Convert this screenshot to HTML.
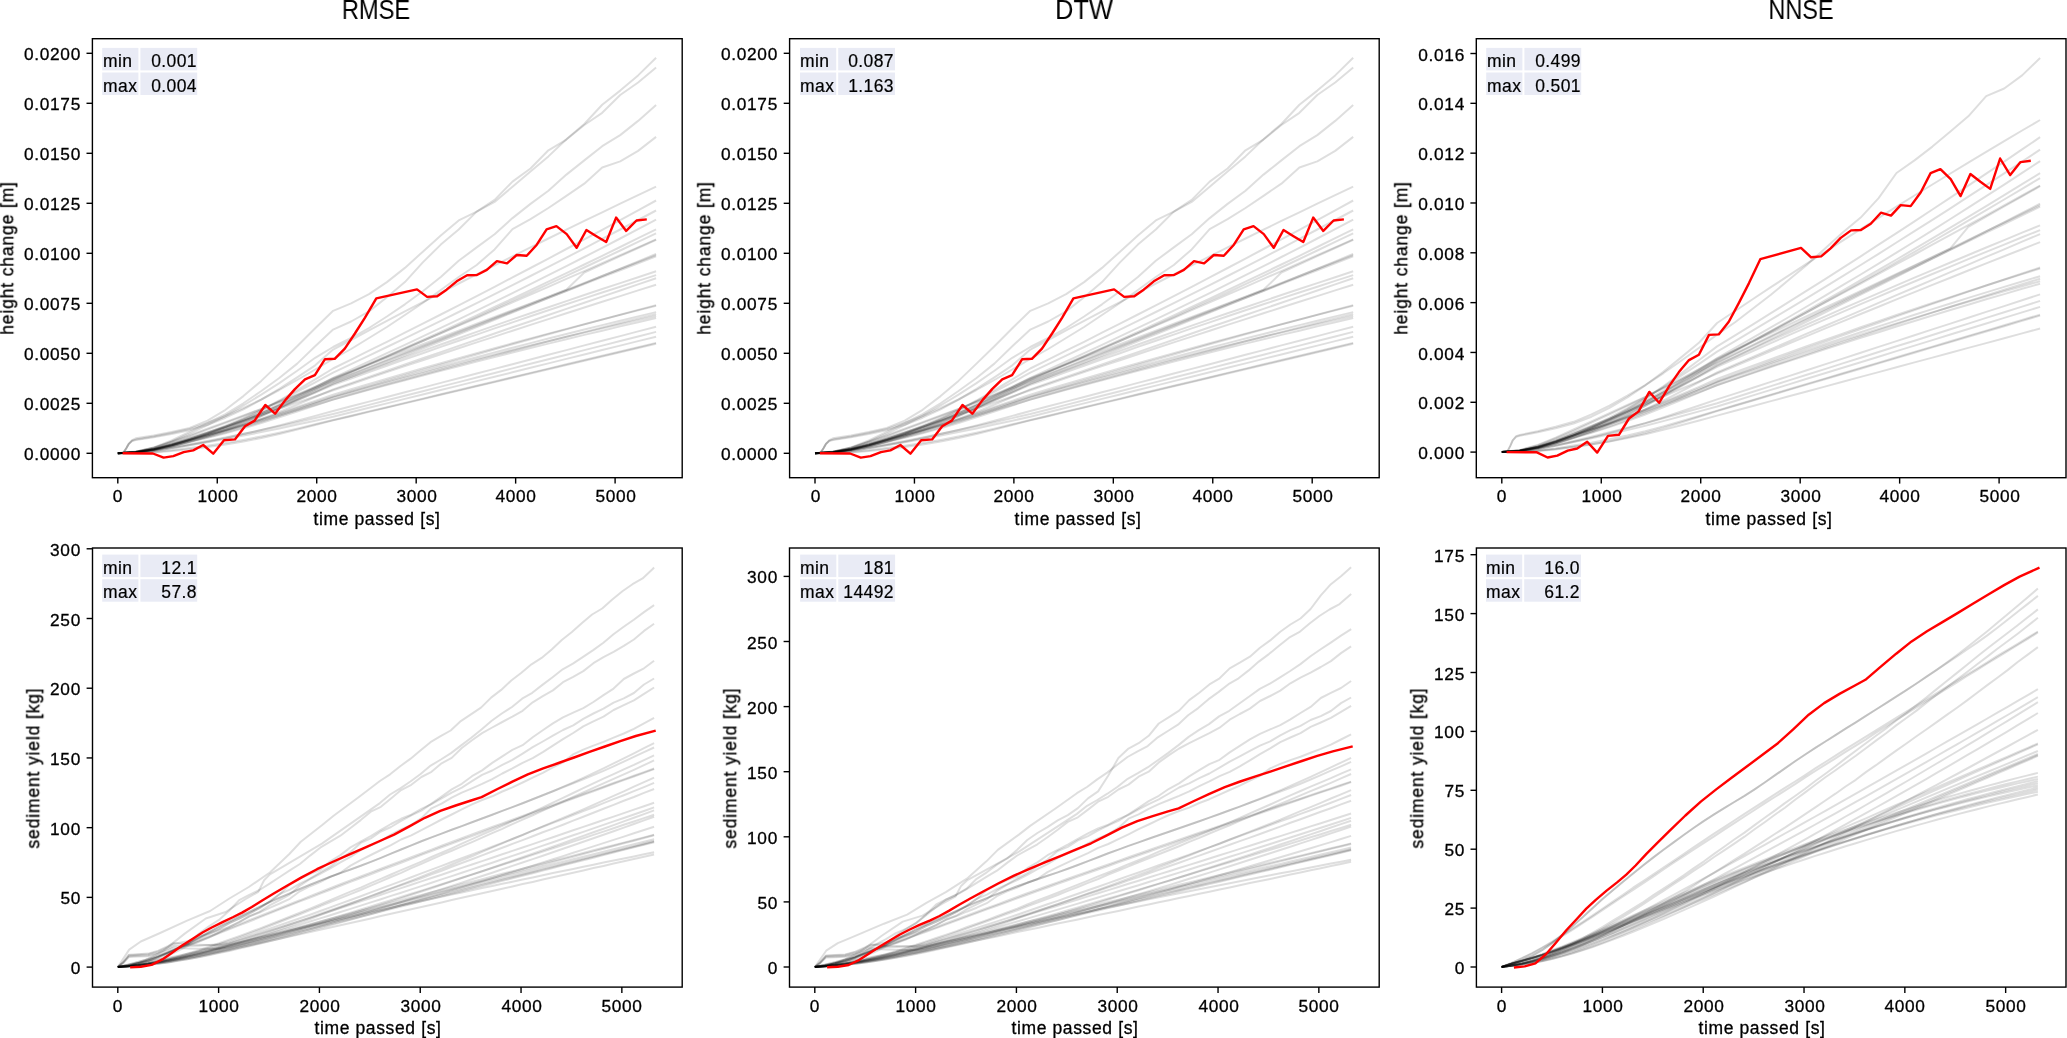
<!DOCTYPE html>
<html><head><meta charset="utf-8"><title>metrics</title>
<style>
html,body{margin:0;padding:0;background:#fff;}
#fig{position:relative;width:2067px;height:1038px;overflow:hidden;background:#fff;font-family:"Liberation Sans",sans-serif;color:#000;}
#fig svg{position:absolute;left:0;top:0;}
#fig div{position:absolute;white-space:nowrap;line-height:1;will-change:transform;}
.tk{font-size:17.3px;letter-spacing:0.7px;-webkit-text-stroke:0.3px #000;}
.xt{transform:translate(-50%,0);margin-left:0.6px;margin-top:-2.6px;}
.yt{transform:translate(-100%,-50%);margin-left:0.7px;margin-top:2.0px;}
.al{font-size:17.5px;letter-spacing:0.75px;-webkit-text-stroke:0.3px #000;}
.xl{transform:translate(-50%,-100%);margin-top:3.6px;margin-left:0.4px;letter-spacing:0.63px;}
.yl{transform:translate(-50%,-50%) rotate(-90deg);margin-left:-5.2px;letter-spacing:0.85px;}
.tb{font-size:17.5px;-webkit-text-stroke:0.2px #000;}
.tl{transform:translate(0,-100%);margin-top:3.6px;letter-spacing:0.45px;}
.tr{transform:translate(-100%,-100%);margin-top:3.6px;letter-spacing:0.4px;margin-left:0.4px;}
.tt{font-size:27px;margin-top:5.5px;}
</style></head><body>
<div id="fig">
<svg width="2067" height="1038" viewBox="0 0 2067 1038">
<g>
<polyline points="117.8,453.3 123.3,452.9 126.3,448.3 128.7,443.9 132.2,440.1 135.7,438.3 153.7,435.6 171.6,432.0 189.6,428.0 207.5,420.6 225.5,409.8 243.4,396.1 261.3,380.9 279.3,363.6 297.2,346.2 315.2,328.2 333.1,310.8 351.1,303.3 369.0,294.2 386.9,282.1 404.9,267.9 422.8,251.7 440.8,235.5 458.7,220.4 476.7,211.6 494.6,201.9 512.5,186.7 530.5,171.5 548.4,156.4 566.4,139.2 584.3,124.0 602.2,104.8 620.2,90.6 638.1,75.4 656.1,57.7" fill="none" stroke="rgba(0,0,0,0.13)" stroke-width="2.00" stroke-linejoin="round" />
<polyline points="117.8,453.3 135.7,451.6 153.7,447.4 171.6,440.5 189.6,431.9 207.5,422.8 225.5,414.1 243.4,403.3 261.3,391.0 279.3,378.0 297.2,363.6 315.2,346.2 333.1,329.6 351.1,321.5 369.0,311.4 386.9,297.2 404.9,282.1 422.8,262.4 440.8,244.6 458.7,229.5 476.7,211.6 494.6,199.9 512.5,181.6 530.5,168.5 548.4,150.3 566.4,139.6 584.3,125.0 602.2,112.8 620.2,95.0 638.1,82.5 656.1,67.5" fill="none" stroke="rgba(0,0,0,0.13)" stroke-width="2.00" stroke-linejoin="round" />
<polyline points="117.8,453.3 135.7,451.7 153.7,447.9 171.6,441.5 189.6,433.6 207.5,425.2 225.5,415.9 243.4,405.5 261.3,394.6 279.3,383.1 297.2,370.8 315.2,357.8 333.1,347.0 351.1,338.0 369.0,328.0 386.9,316.5 404.9,304.3 422.8,291.2 440.8,277.0 458.7,260.8 476.7,247.4 494.6,234.3 512.5,218.1 530.5,203.9 548.4,190.8 566.4,174.6 584.3,160.4 602.2,146.2 620.2,135.1 638.1,120.9 656.1,105.0" fill="none" stroke="rgba(0,0,0,0.13)" stroke-width="2.00" stroke-linejoin="round" />
<polyline points="117.8,453.3 123.3,452.9 126.3,448.3 128.7,443.9 132.2,440.6 135.7,439.6 153.7,436.5 171.6,433.0 189.6,429.0 207.5,423.0 225.5,416.0 243.4,408.0 261.3,399.5 279.3,390.0 297.2,380.0 315.2,369.5 333.1,359.0 351.1,349.0 369.0,338.0 386.9,327.0 404.9,315.0 422.8,303.0 440.8,290.0 458.7,277.0 476.7,265.0 494.6,249.4 512.5,229.2 530.5,219.1 548.4,208.0 566.4,195.8 584.3,183.7 602.2,167.5 620.2,161.4 638.1,150.9 656.1,136.9" fill="none" stroke="rgba(0,0,0,0.13)" stroke-width="2.00" stroke-linejoin="round" />
<polyline points="117.8,453.3 135.7,452.3 153.7,449.6 171.6,445.4 189.6,440.1 207.5,434.4 225.5,428.2 243.4,421.2 261.3,413.7 279.3,405.3 297.2,396.5 315.2,387.4 333.1,378.2 351.1,371.4 369.0,364.6 386.9,357.8 404.9,351.0 422.8,344.2 440.8,337.4 458.7,330.6 476.7,323.8 494.6,317.0 512.5,310.2 530.5,303.4 548.4,296.6 566.4,289.8 584.3,272.5 602.2,264.3 620.2,256.1 638.1,248.0 656.1,239.8" fill="none" stroke="rgba(0,0,0,0.13)" stroke-width="2.00" stroke-linejoin="round" />
<polyline points="117.8,453.3 123.3,452.9 126.3,448.3 128.7,443.9 132.2,441.0 135.7,440.1 153.7,437.3 171.6,434.1 189.6,430.3 207.5,424.9 225.5,417.7 243.4,409.3 261.3,399.7 279.3,388.9 297.2,377.3 315.2,365.3 333.1,349.6 351.1,340.0 369.0,330.4 386.9,320.9 404.9,311.4 422.8,302.1 440.8,292.8 458.7,283.5 476.7,274.4 494.6,265.3 512.5,256.3 530.5,247.3 548.4,238.5 566.4,229.7 584.3,220.9 602.2,212.3 620.2,203.7 638.1,195.1 656.1,186.7" fill="none" stroke="rgba(0,0,0,0.13)" stroke-width="2.00" stroke-linejoin="round" />
<polyline points="117.8,453.3 135.7,452.2 153.7,449.6 171.6,445.4 189.6,440.1 207.5,433.9 225.5,426.9 243.4,418.9 261.3,410.2 279.3,400.5 297.2,390.1 315.2,379.4 333.1,368.5 351.1,359.6 369.0,350.7 386.9,341.8 404.9,332.7 422.8,323.7 440.8,314.5 458.7,305.4 476.7,296.1 494.6,286.8 512.5,277.4 530.5,268.0 548.4,258.6 566.4,249.0 584.3,239.4 602.2,229.8 620.2,220.1 638.1,210.3 656.1,200.5" fill="none" stroke="rgba(0,0,0,0.13)" stroke-width="2.00" stroke-linejoin="round" />
<polyline points="117.8,453.3 135.7,452.1 153.7,449.0 171.6,444.3 189.6,438.9 207.5,432.6 225.5,425.7 243.4,418.1 261.3,410.1 279.3,401.2 297.2,391.9 315.2,382.4 333.1,372.6 351.1,364.2 369.0,355.6 386.9,347.0 404.9,338.4 422.8,329.6 440.8,320.8 458.7,312.0 476.7,303.1 494.6,294.1 512.5,285.1 530.5,276.0 548.4,266.8 566.4,257.6 584.3,248.3 602.2,238.9 620.2,229.5 638.1,220.0 656.1,210.5" fill="none" stroke="rgba(0,0,0,0.13)" stroke-width="2.00" stroke-linejoin="round" />
<polyline points="117.8,453.3 135.7,452.1 153.7,449.1 171.6,444.5 189.6,439.5 207.5,433.4 225.5,426.8 243.4,419.7 261.3,412.2 279.3,404.1 297.2,395.5 315.2,386.8 333.1,377.8 351.1,369.7 369.0,361.5 386.9,353.2 404.9,344.9 422.8,336.4 440.8,327.9 458.7,319.3 476.7,310.7 494.6,301.9 512.5,293.1 530.5,284.2 548.4,275.2 566.4,266.2 584.3,257.0 602.2,247.8 620.2,238.5 638.1,229.2 656.1,219.7" fill="none" stroke="rgba(0,0,0,0.13)" stroke-width="2.00" stroke-linejoin="round" />
<polyline points="117.8,453.3 135.7,452.1 153.7,449.3 171.6,444.9 189.6,439.9 207.5,434.0 225.5,427.6 243.4,420.8 261.3,413.4 279.3,405.4 297.2,397.0 315.2,388.4 333.1,379.6 351.1,371.8 369.0,363.9 386.9,356.0 404.9,348.0 422.8,339.9 440.8,331.8 458.7,323.6 476.7,315.3 494.6,307.0 512.5,298.6 530.5,290.2 548.4,281.7 566.4,273.1 584.3,264.5 602.2,255.8 620.2,247.0 638.1,238.2 656.1,229.3" fill="none" stroke="rgba(0,0,0,0.13)" stroke-width="2.00" stroke-linejoin="round" />
<polyline points="117.8,453.3 135.7,452.4 153.7,450.2 171.6,446.5 189.6,442.0 207.5,436.6 225.5,430.5 243.4,423.6 261.3,416.2 279.3,407.8 297.2,398.8 315.2,389.5 333.1,380.1 351.1,372.4 369.0,364.7 386.9,356.9 404.9,349.0 422.8,341.1 440.8,333.1 458.7,325.1 476.7,317.1 494.6,308.9 512.5,300.7 530.5,292.5 548.4,284.2 566.4,275.9 584.3,267.5 602.2,259.0 620.2,250.5 638.1,241.9 656.1,233.3" fill="none" stroke="rgba(0,0,0,0.13)" stroke-width="2.00" stroke-linejoin="round" />
<polyline points="117.8,453.3 135.7,451.8 153.7,448.0 171.6,442.3 189.6,436.2 207.5,429.6 225.5,422.9 243.4,416.1 261.3,409.1 279.3,401.8 297.2,394.3 315.2,386.8 333.1,379.0 351.1,371.5 369.0,363.9 386.9,356.3 404.9,348.7 422.8,341.0 440.8,333.4 458.7,325.7 476.7,318.0 494.6,310.2 512.5,302.4 530.5,294.6 548.4,286.8 566.4,278.9 584.3,271.1 602.2,263.2 620.2,255.2 638.1,247.3 656.1,239.3" fill="none" stroke="rgba(0,0,0,0.13)" stroke-width="2.00" stroke-linejoin="round" />
<polyline points="117.8,453.3 135.7,452.3 153.7,449.7 171.6,445.7 189.6,440.8 207.5,435.5 225.5,429.6 243.4,423.1 261.3,416.2 279.3,408.6 297.2,400.5 315.2,392.3 333.1,383.9 351.1,376.8 369.0,369.8 386.9,362.7 404.9,355.6 422.8,348.5 440.8,341.3 458.7,334.2 476.7,327.0 494.6,319.8 512.5,312.5 530.5,305.3 548.4,298.0 566.4,290.7 584.3,283.4 602.2,276.0 620.2,268.7 638.1,261.3 656.1,253.9" fill="none" stroke="rgba(0,0,0,0.13)" stroke-width="2.00" stroke-linejoin="round" />
<polyline points="117.8,453.3 135.7,451.7 153.7,447.6 171.6,441.6 189.6,435.2 207.5,428.6 225.5,422.1 243.4,415.5 261.3,408.9 279.3,402.0 297.2,395.1 315.2,388.3 333.1,381.2 351.1,374.2 369.0,367.1 386.9,360.1 404.9,353.0 422.8,346.0 440.8,339.0 458.7,331.9 476.7,324.9 494.6,317.9 512.5,310.9 530.5,303.9 548.4,296.9 566.4,289.9 584.3,283.0 602.2,276.0 620.2,269.0 638.1,262.1 656.1,255.1" fill="none" stroke="rgba(0,0,0,0.13)" stroke-width="2.00" stroke-linejoin="round" />
<polyline points="117.8,453.3 135.7,452.1 153.7,449.0 171.6,444.2 189.6,438.6 207.5,432.8 225.5,426.6 243.4,420.0 261.3,413.1 279.3,405.6 297.2,397.8 315.2,389.9 333.1,381.8 351.1,374.8 369.0,367.8 386.9,360.8 404.9,353.8 422.8,346.8 440.8,339.8 458.7,332.8 476.7,325.8 494.6,318.8 512.5,311.9 530.5,304.9 548.4,297.9 566.4,291.0 584.3,284.0 602.2,277.1 620.2,270.2 638.1,263.2 656.1,256.3" fill="none" stroke="rgba(0,0,0,0.13)" stroke-width="2.00" stroke-linejoin="round" />
<polyline points="117.8,453.3 135.7,452.2 153.7,449.6 171.6,445.2 189.6,439.7 207.5,434.4 225.5,428.5 243.4,422.1 261.3,415.2 279.3,407.6 297.2,399.6 315.2,391.5 333.1,383.3 351.1,376.8 369.0,370.2 386.9,363.7 404.9,357.3 422.8,350.9 440.8,344.5 458.7,338.2 476.7,331.9 494.6,325.6 512.5,319.4 530.5,313.3 548.4,307.2 566.4,301.1 584.3,295.0 602.2,289.0 620.2,283.1 638.1,277.2 656.1,271.3" fill="none" stroke="rgba(0,0,0,0.13)" stroke-width="2.00" stroke-linejoin="round" />
<polyline points="117.8,453.3 135.7,452.1 153.7,449.2 171.6,444.4 189.6,438.8 207.5,433.3 225.5,427.4 243.4,421.2 261.3,414.6 279.3,407.5 297.2,400.0 315.2,392.5 333.1,384.9 351.1,378.5 369.0,372.1 386.9,365.8 404.9,359.4 422.8,353.2 440.8,346.9 458.7,340.7 476.7,334.6 494.6,328.4 512.5,322.4 530.5,316.3 548.4,310.3 566.4,304.3 584.3,298.4 602.2,292.5 620.2,286.7 638.1,280.9 656.1,275.1" fill="none" stroke="rgba(0,0,0,0.13)" stroke-width="2.00" stroke-linejoin="round" />
<polyline points="117.8,453.3 135.7,452.4 153.7,450.0 171.6,446.2 189.6,441.5 207.5,436.6 225.5,431.2 243.4,425.3 261.3,419.0 279.3,412.0 297.2,404.6 315.2,397.0 333.1,389.4 351.1,383.1 369.0,376.9 386.9,370.7 404.9,364.5 422.8,358.3 440.8,352.1 458.7,345.9 476.7,339.7 494.6,333.5 512.5,327.3 530.5,321.2 548.4,315.0 566.4,308.9 584.3,302.7 602.2,296.6 620.2,290.5 638.1,284.4 656.1,278.3" fill="none" stroke="rgba(0,0,0,0.13)" stroke-width="2.00" stroke-linejoin="round" />
<polyline points="117.8,453.3 135.7,452.0 153.7,448.5 171.6,443.4 189.6,437.7 207.5,432.1 225.5,426.4 243.4,420.7 261.3,414.8 279.3,408.8 297.2,402.6 315.2,396.5 333.1,390.2 351.1,384.2 369.0,378.1 386.9,372.1 404.9,366.1 422.8,360.2 440.8,354.2 458.7,348.3 476.7,342.4 494.6,336.6 512.5,330.7 530.5,324.9 548.4,319.1 566.4,313.3 584.3,307.5 602.2,301.8 620.2,296.1 638.1,290.4 656.1,284.7" fill="none" stroke="rgba(0,0,0,0.13)" stroke-width="2.00" stroke-linejoin="round" />
<polyline points="117.8,453.3 135.7,452.2 153.7,449.3 171.6,444.9 189.6,439.9 207.5,435.0 225.5,430.0 243.4,424.8 261.3,419.5 279.3,413.9 297.2,408.0 315.2,402.2 333.1,396.4 351.1,391.0 369.0,385.7 386.9,380.4 404.9,375.1 422.8,369.9 440.8,364.7 458.7,359.6 476.7,354.5 494.6,349.4 512.5,344.3 530.5,339.3 548.4,334.3 566.4,329.4 584.3,324.4 602.2,319.6 620.2,314.7 638.1,309.9 656.1,305.1" fill="none" stroke="rgba(0,0,0,0.13)" stroke-width="2.00" stroke-linejoin="round" />
<polyline points="117.8,453.3 135.7,452.2 153.7,449.4 171.6,445.1 189.6,439.9 207.5,435.1 225.5,430.0 243.4,424.7 261.3,419.1 279.3,413.2 297.2,407.0 315.2,400.9 333.1,394.6 351.1,389.3 369.0,383.9 386.9,378.7 404.9,373.5 422.8,368.3 440.8,363.2 458.7,358.1 476.7,353.1 494.6,348.2 512.5,343.3 530.5,338.4 548.4,333.6 566.4,328.9 584.3,324.2 602.2,319.5 620.2,314.9 638.1,310.4 656.1,305.9" fill="none" stroke="rgba(0,0,0,0.13)" stroke-width="2.00" stroke-linejoin="round" />
<polyline points="117.8,453.3 135.7,452.4 153.7,450.1 171.6,446.4 189.6,441.6 207.5,437.3 225.5,432.6 243.4,427.4 261.3,421.9 279.3,415.9 297.2,409.7 315.2,403.3 333.1,396.9 351.1,391.7 369.0,386.6 386.9,381.6 404.9,376.6 422.8,371.7 440.8,366.8 458.7,361.9 476.7,357.1 494.6,352.4 512.5,347.7 530.5,343.1 548.4,338.5 566.4,334.0 584.3,329.5 602.2,325.1 620.2,320.7 638.1,316.4 656.1,312.1" fill="none" stroke="rgba(0,0,0,0.13)" stroke-width="2.00" stroke-linejoin="round" />
<polyline points="117.8,453.3 135.7,452.4 153.7,450.1 171.6,446.5 189.6,442.1 207.5,437.8 225.5,433.3 243.4,428.3 261.3,423.1 279.3,417.4 297.2,411.5 315.2,405.5 333.1,399.5 351.1,394.4 369.0,389.4 386.9,384.4 404.9,379.5 422.8,374.6 440.8,369.8 458.7,364.9 476.7,360.1 494.6,355.4 512.5,350.7 530.5,346.0 548.4,341.3 566.4,336.7 584.3,332.1 602.2,327.5 620.2,323.0 638.1,318.5 656.1,314.1" fill="none" stroke="rgba(0,0,0,0.13)" stroke-width="2.00" stroke-linejoin="round" />
<polyline points="117.8,453.3 135.7,452.2 153.7,449.5 171.6,445.2 189.6,440.1 207.5,435.4 225.5,430.6 243.4,425.5 261.3,420.3 279.3,414.8 297.2,409.1 315.2,403.4 333.1,397.6 351.1,392.6 369.0,387.6 386.9,382.7 404.9,377.8 422.8,373.1 440.8,368.3 458.7,363.6 476.7,359.0 494.6,354.5 512.5,350.0 530.5,345.5 548.4,341.2 566.4,336.8 584.3,332.6 602.2,328.4 620.2,324.2 638.1,320.1 656.1,316.1" fill="none" stroke="rgba(0,0,0,0.13)" stroke-width="2.00" stroke-linejoin="round" />
<polyline points="117.8,453.3 135.7,452.2 153.7,449.4 171.6,445.2 189.6,440.2 207.5,435.6 225.5,430.9 243.4,426.1 261.3,421.1 279.3,415.8 297.2,410.4 315.2,405.1 333.1,399.6 351.1,394.7 369.0,389.8 386.9,385.0 404.9,380.2 422.8,375.5 440.8,370.8 458.7,366.2 476.7,361.6 494.6,357.0 512.5,352.5 530.5,348.0 548.4,343.6 566.4,339.3 584.3,334.9 602.2,330.7 620.2,326.4 638.1,322.2 656.1,318.1" fill="none" stroke="rgba(0,0,0,0.13)" stroke-width="2.00" stroke-linejoin="round" />
<polyline points="117.8,453.3 135.7,452.6 153.7,450.9 171.6,448.2 189.6,445.0 207.5,441.7 225.5,438.1 243.4,434.1 261.3,430.0 279.3,425.5 297.2,420.7 315.2,415.9 333.1,411.0 351.1,406.3 369.0,401.6 386.9,397.0 404.9,392.3 422.8,387.6 440.8,382.9 458.7,378.2 476.7,373.5 494.6,368.9 512.5,364.2 530.5,359.5 548.4,354.8 566.4,350.1 584.3,345.4 602.2,340.8 620.2,336.1 638.1,331.4 656.1,326.7" fill="none" stroke="rgba(0,0,0,0.13)" stroke-width="2.00" stroke-linejoin="round" />
<polyline points="117.8,453.3 135.7,452.5 153.7,450.6 171.6,447.6 189.6,444.3 207.5,440.9 225.5,437.4 243.4,433.8 261.3,430.1 279.3,426.2 297.2,422.2 315.2,418.1 333.1,414.0 351.1,409.5 369.0,404.9 386.9,400.3 404.9,395.8 422.8,391.2 440.8,386.6 458.7,382.1 476.7,377.5 494.6,373.0 512.5,368.4 530.5,363.8 548.4,359.3 566.4,354.7 584.3,350.1 602.2,345.6 620.2,341.0 638.1,336.5 656.1,331.9" fill="none" stroke="rgba(0,0,0,0.13)" stroke-width="2.00" stroke-linejoin="round" />
<polyline points="117.8,453.3 135.7,452.6 153.7,450.9 171.6,448.3 189.6,445.3 207.5,442.2 225.5,439.0 243.4,435.6 261.3,432.1 279.3,428.4 297.2,424.5 315.2,420.7 333.1,416.7 351.1,412.2 369.0,407.8 386.9,403.4 404.9,398.9 422.8,394.5 440.8,390.0 458.7,385.6 476.7,381.1 494.6,376.7 512.5,372.3 530.5,367.8 548.4,363.4 566.4,358.9 584.3,354.5 602.2,350.0 620.2,345.6 638.1,341.1 656.1,336.7" fill="none" stroke="rgba(0,0,0,0.13)" stroke-width="2.00" stroke-linejoin="round" />
<polyline points="117.8,453.3 135.7,452.9 153.7,452.0 171.6,450.3 189.6,448.1 207.5,445.8 225.5,443.1 243.4,439.9 261.3,436.5 279.3,432.7 297.2,428.6 315.2,424.3 333.1,420.0 351.1,415.7 369.0,411.4 386.9,407.2 404.9,402.9 422.8,398.6 440.8,394.3 458.7,390.0 476.7,385.7 494.6,381.5 512.5,377.2 530.5,372.9 548.4,368.6 566.4,364.3 584.3,360.0 602.2,355.8 620.2,351.5 638.1,347.2 656.1,342.9" fill="none" stroke="rgba(0,0,0,0.13)" stroke-width="2.00" stroke-linejoin="round" />
<polyline points="117.8,453.3 135.7,453.0 153.7,452.4 171.6,451.1 189.6,449.2 207.5,447.1 225.5,444.5 243.4,441.4 261.3,438.0 279.3,433.9 297.2,429.6 315.2,425.0 333.1,420.4 351.1,416.2 369.0,411.9 386.9,407.6 404.9,403.4 422.8,399.1 440.8,394.8 458.7,390.6 476.7,386.3 494.6,382.1 512.5,377.8 530.5,373.5 548.4,369.3 566.4,365.0 584.3,360.7 602.2,356.5 620.2,352.2 638.1,348.0 656.1,343.7" fill="none" stroke="rgba(0,0,0,0.13)" stroke-width="2.00" stroke-linejoin="round" />
<polyline points="122.6,453.3 152.9,453.5 163.6,457.6 173.3,456.1 183.7,452.1 193.2,450.4 203.2,445.0 213.2,453.7 224.0,440.3 234.9,439.4 245.0,426.3 254.6,420.6 265.3,405.0 275.1,413.7 285.5,399.9 294.9,389.1 305.0,379.4 314.9,375.1 325.0,359.2 334.7,358.8 344.8,348.6 354.9,333.5 365.0,317.6 376.3,298.4 417.0,289.4 427.1,296.9 437.2,296.2 446.6,289.7 456.7,281.3 467.1,275.3 476.9,275.0 486.8,269.9 496.9,261.1 507.0,263.4 516.7,255.0 526.7,255.8 536.8,244.7 546.6,229.3 556.4,226.1 566.7,234.1 576.6,247.8 586.4,230.0 596.4,236.2 606.2,242.0 616.1,217.6 626.2,230.9 636.5,220.5 646.8,219.4" fill="none" stroke="#ff0000" stroke-width="2.40" stroke-linejoin="round" />
</g>
<rect x="92.40" y="38.70" width="589.80" height="439.00" fill="none" stroke="#000" stroke-width="1.40"/>
<line x1="117.80" y1="477.70" x2="117.80" y2="483.60" stroke="#000" stroke-width="1.40"/>
<line x1="217.26" y1="477.70" x2="217.26" y2="483.60" stroke="#000" stroke-width="1.40"/>
<line x1="316.72" y1="477.70" x2="316.72" y2="483.60" stroke="#000" stroke-width="1.40"/>
<line x1="416.18" y1="477.70" x2="416.18" y2="483.60" stroke="#000" stroke-width="1.40"/>
<line x1="515.64" y1="477.70" x2="515.64" y2="483.60" stroke="#000" stroke-width="1.40"/>
<line x1="615.10" y1="477.70" x2="615.10" y2="483.60" stroke="#000" stroke-width="1.40"/>
<line x1="86.50" y1="453.30" x2="92.40" y2="453.30" stroke="#000" stroke-width="1.40"/>
<line x1="86.50" y1="403.30" x2="92.40" y2="403.30" stroke="#000" stroke-width="1.40"/>
<line x1="86.50" y1="353.30" x2="92.40" y2="353.30" stroke="#000" stroke-width="1.40"/>
<line x1="86.50" y1="303.30" x2="92.40" y2="303.30" stroke="#000" stroke-width="1.40"/>
<line x1="86.50" y1="253.30" x2="92.40" y2="253.30" stroke="#000" stroke-width="1.40"/>
<line x1="86.50" y1="203.30" x2="92.40" y2="203.30" stroke="#000" stroke-width="1.40"/>
<line x1="86.50" y1="153.30" x2="92.40" y2="153.30" stroke="#000" stroke-width="1.40"/>
<line x1="86.50" y1="103.30" x2="92.40" y2="103.30" stroke="#000" stroke-width="1.40"/>
<line x1="86.50" y1="53.30" x2="92.40" y2="53.30" stroke="#000" stroke-width="1.40"/>
<rect x="102.20" y="47.90" width="36.20" height="22.50" fill="#e9ebf5"/>
<rect x="140.40" y="47.90" width="56.80" height="22.50" fill="#e9ebf5"/>
<rect x="102.20" y="72.50" width="36.20" height="22.50" fill="#e9ebf5"/>
<rect x="140.40" y="72.50" width="56.80" height="22.50" fill="#e9ebf5"/>
<g>
<polyline points="815.0,453.3 820.5,452.9 823.5,448.3 825.9,443.9 829.4,440.1 832.9,438.3 850.9,435.6 868.8,432.0 886.8,428.0 904.7,420.6 922.6,409.8 940.6,396.1 958.5,380.9 976.5,363.6 994.4,346.2 1012.3,328.2 1030.3,310.8 1048.2,303.3 1066.1,294.2 1084.1,282.1 1102.0,267.9 1120.0,251.7 1137.9,235.5 1155.8,220.4 1173.8,211.6 1191.7,201.9 1209.7,186.7 1227.6,171.5 1245.5,156.4 1263.5,139.2 1281.4,124.0 1299.4,104.8 1317.3,90.6 1335.2,75.4 1353.2,57.7" fill="none" stroke="rgba(0,0,0,0.13)" stroke-width="2.00" stroke-linejoin="round" />
<polyline points="815.0,453.3 832.9,451.6 850.9,447.4 868.8,440.5 886.8,431.9 904.7,422.8 922.6,414.1 940.6,403.3 958.5,391.0 976.5,378.0 994.4,363.6 1012.3,346.2 1030.3,329.6 1048.2,321.5 1066.1,311.4 1084.1,297.2 1102.0,282.1 1120.0,262.4 1137.9,244.6 1155.8,229.5 1173.8,211.6 1191.7,199.9 1209.7,181.6 1227.6,168.5 1245.5,150.3 1263.5,139.6 1281.4,125.0 1299.4,112.8 1317.3,95.0 1335.2,82.5 1353.2,67.5" fill="none" stroke="rgba(0,0,0,0.13)" stroke-width="2.00" stroke-linejoin="round" />
<polyline points="815.0,453.3 832.9,451.7 850.9,447.9 868.8,441.5 886.8,433.6 904.7,425.2 922.6,415.9 940.6,405.5 958.5,394.6 976.5,383.1 994.4,370.8 1012.3,357.8 1030.3,347.0 1048.2,338.0 1066.1,328.0 1084.1,316.5 1102.0,304.3 1120.0,291.2 1137.9,277.0 1155.8,260.8 1173.8,247.4 1191.7,234.3 1209.7,218.1 1227.6,203.9 1245.5,190.8 1263.5,174.6 1281.4,160.4 1299.4,146.2 1317.3,135.1 1335.2,120.9 1353.2,105.0" fill="none" stroke="rgba(0,0,0,0.13)" stroke-width="2.00" stroke-linejoin="round" />
<polyline points="815.0,453.3 820.5,452.9 823.5,448.3 825.9,443.9 829.4,440.6 832.9,439.6 850.9,436.5 868.8,433.0 886.8,429.0 904.7,423.0 922.6,416.0 940.6,408.0 958.5,399.5 976.5,390.0 994.4,380.0 1012.3,369.5 1030.3,359.0 1048.2,349.0 1066.1,338.0 1084.1,327.0 1102.0,315.0 1120.0,303.0 1137.9,290.0 1155.8,277.0 1173.8,265.0 1191.7,249.4 1209.7,229.2 1227.6,219.1 1245.5,208.0 1263.5,195.8 1281.4,183.7 1299.4,167.5 1317.3,161.4 1335.2,150.9 1353.2,136.9" fill="none" stroke="rgba(0,0,0,0.13)" stroke-width="2.00" stroke-linejoin="round" />
<polyline points="815.0,453.3 832.9,452.3 850.9,449.6 868.8,445.4 886.8,440.1 904.7,434.4 922.6,428.2 940.6,421.2 958.5,413.7 976.5,405.3 994.4,396.5 1012.3,387.4 1030.3,378.2 1048.2,371.4 1066.1,364.6 1084.1,357.8 1102.0,351.0 1120.0,344.2 1137.9,337.4 1155.8,330.6 1173.8,323.8 1191.7,317.0 1209.7,310.2 1227.6,303.4 1245.5,296.6 1263.5,289.8 1281.4,272.5 1299.4,264.3 1317.3,256.1 1335.2,248.0 1353.2,239.8" fill="none" stroke="rgba(0,0,0,0.13)" stroke-width="2.00" stroke-linejoin="round" />
<polyline points="815.0,453.3 820.5,452.9 823.5,448.3 825.9,443.9 829.4,441.0 832.9,440.1 850.9,437.3 868.8,434.1 886.8,430.3 904.7,424.9 922.6,417.7 940.6,409.3 958.5,399.7 976.5,388.9 994.4,377.3 1012.3,365.3 1030.3,349.6 1048.2,340.0 1066.1,330.4 1084.1,320.9 1102.0,311.4 1120.0,302.1 1137.9,292.8 1155.8,283.5 1173.8,274.4 1191.7,265.3 1209.7,256.3 1227.6,247.3 1245.5,238.5 1263.5,229.7 1281.4,220.9 1299.4,212.3 1317.3,203.7 1335.2,195.1 1353.2,186.7" fill="none" stroke="rgba(0,0,0,0.13)" stroke-width="2.00" stroke-linejoin="round" />
<polyline points="815.0,453.3 832.9,452.2 850.9,449.6 868.8,445.4 886.8,440.1 904.7,433.9 922.6,426.9 940.6,418.9 958.5,410.2 976.5,400.5 994.4,390.1 1012.3,379.4 1030.3,368.5 1048.2,359.6 1066.1,350.7 1084.1,341.8 1102.0,332.7 1120.0,323.7 1137.9,314.5 1155.8,305.4 1173.8,296.1 1191.7,286.8 1209.7,277.4 1227.6,268.0 1245.5,258.6 1263.5,249.0 1281.4,239.4 1299.4,229.8 1317.3,220.1 1335.2,210.3 1353.2,200.5" fill="none" stroke="rgba(0,0,0,0.13)" stroke-width="2.00" stroke-linejoin="round" />
<polyline points="815.0,453.3 832.9,452.1 850.9,449.0 868.8,444.3 886.8,438.9 904.7,432.6 922.6,425.7 940.6,418.1 958.5,410.1 976.5,401.2 994.4,391.9 1012.3,382.4 1030.3,372.6 1048.2,364.2 1066.1,355.6 1084.1,347.0 1102.0,338.4 1120.0,329.6 1137.9,320.8 1155.8,312.0 1173.8,303.1 1191.7,294.1 1209.7,285.1 1227.6,276.0 1245.5,266.8 1263.5,257.6 1281.4,248.3 1299.4,238.9 1317.3,229.5 1335.2,220.0 1353.2,210.5" fill="none" stroke="rgba(0,0,0,0.13)" stroke-width="2.00" stroke-linejoin="round" />
<polyline points="815.0,453.3 832.9,452.1 850.9,449.1 868.8,444.5 886.8,439.5 904.7,433.4 922.6,426.8 940.6,419.7 958.5,412.2 976.5,404.1 994.4,395.5 1012.3,386.8 1030.3,377.8 1048.2,369.7 1066.1,361.5 1084.1,353.2 1102.0,344.9 1120.0,336.4 1137.9,327.9 1155.8,319.3 1173.8,310.7 1191.7,301.9 1209.7,293.1 1227.6,284.2 1245.5,275.2 1263.5,266.2 1281.4,257.0 1299.4,247.8 1317.3,238.5 1335.2,229.2 1353.2,219.7" fill="none" stroke="rgba(0,0,0,0.13)" stroke-width="2.00" stroke-linejoin="round" />
<polyline points="815.0,453.3 832.9,452.1 850.9,449.3 868.8,444.9 886.8,439.9 904.7,434.0 922.6,427.6 940.6,420.8 958.5,413.4 976.5,405.4 994.4,397.0 1012.3,388.4 1030.3,379.6 1048.2,371.8 1066.1,363.9 1084.1,356.0 1102.0,348.0 1120.0,339.9 1137.9,331.8 1155.8,323.6 1173.8,315.3 1191.7,307.0 1209.7,298.6 1227.6,290.2 1245.5,281.7 1263.5,273.1 1281.4,264.5 1299.4,255.8 1317.3,247.0 1335.2,238.2 1353.2,229.3" fill="none" stroke="rgba(0,0,0,0.13)" stroke-width="2.00" stroke-linejoin="round" />
<polyline points="815.0,453.3 832.9,452.4 850.9,450.2 868.8,446.5 886.8,442.0 904.7,436.6 922.6,430.5 940.6,423.6 958.5,416.2 976.5,407.8 994.4,398.8 1012.3,389.5 1030.3,380.1 1048.2,372.4 1066.1,364.7 1084.1,356.9 1102.0,349.0 1120.0,341.1 1137.9,333.1 1155.8,325.1 1173.8,317.1 1191.7,308.9 1209.7,300.7 1227.6,292.5 1245.5,284.2 1263.5,275.9 1281.4,267.5 1299.4,259.0 1317.3,250.5 1335.2,241.9 1353.2,233.3" fill="none" stroke="rgba(0,0,0,0.13)" stroke-width="2.00" stroke-linejoin="round" />
<polyline points="815.0,453.3 832.9,451.8 850.9,448.0 868.8,442.3 886.8,436.2 904.7,429.6 922.6,422.9 940.6,416.1 958.5,409.1 976.5,401.8 994.4,394.3 1012.3,386.8 1030.3,379.0 1048.2,371.5 1066.1,363.9 1084.1,356.3 1102.0,348.7 1120.0,341.0 1137.9,333.4 1155.8,325.7 1173.8,318.0 1191.7,310.2 1209.7,302.4 1227.6,294.6 1245.5,286.8 1263.5,278.9 1281.4,271.1 1299.4,263.2 1317.3,255.2 1335.2,247.3 1353.2,239.3" fill="none" stroke="rgba(0,0,0,0.13)" stroke-width="2.00" stroke-linejoin="round" />
<polyline points="815.0,453.3 832.9,452.3 850.9,449.7 868.8,445.7 886.8,440.8 904.7,435.5 922.6,429.6 940.6,423.1 958.5,416.2 976.5,408.6 994.4,400.5 1012.3,392.3 1030.3,383.9 1048.2,376.8 1066.1,369.8 1084.1,362.7 1102.0,355.6 1120.0,348.5 1137.9,341.3 1155.8,334.2 1173.8,327.0 1191.7,319.8 1209.7,312.5 1227.6,305.3 1245.5,298.0 1263.5,290.7 1281.4,283.4 1299.4,276.0 1317.3,268.7 1335.2,261.3 1353.2,253.9" fill="none" stroke="rgba(0,0,0,0.13)" stroke-width="2.00" stroke-linejoin="round" />
<polyline points="815.0,453.3 832.9,451.7 850.9,447.6 868.8,441.6 886.8,435.2 904.7,428.6 922.6,422.1 940.6,415.5 958.5,408.9 976.5,402.0 994.4,395.1 1012.3,388.3 1030.3,381.2 1048.2,374.2 1066.1,367.1 1084.1,360.1 1102.0,353.0 1120.0,346.0 1137.9,339.0 1155.8,331.9 1173.8,324.9 1191.7,317.9 1209.7,310.9 1227.6,303.9 1245.5,296.9 1263.5,289.9 1281.4,283.0 1299.4,276.0 1317.3,269.0 1335.2,262.1 1353.2,255.1" fill="none" stroke="rgba(0,0,0,0.13)" stroke-width="2.00" stroke-linejoin="round" />
<polyline points="815.0,453.3 832.9,452.1 850.9,449.0 868.8,444.2 886.8,438.6 904.7,432.8 922.6,426.6 940.6,420.0 958.5,413.1 976.5,405.6 994.4,397.8 1012.3,389.9 1030.3,381.8 1048.2,374.8 1066.1,367.8 1084.1,360.8 1102.0,353.8 1120.0,346.8 1137.9,339.8 1155.8,332.8 1173.8,325.8 1191.7,318.8 1209.7,311.9 1227.6,304.9 1245.5,297.9 1263.5,291.0 1281.4,284.0 1299.4,277.1 1317.3,270.2 1335.2,263.2 1353.2,256.3" fill="none" stroke="rgba(0,0,0,0.13)" stroke-width="2.00" stroke-linejoin="round" />
<polyline points="815.0,453.3 832.9,452.2 850.9,449.6 868.8,445.2 886.8,439.7 904.7,434.4 922.6,428.5 940.6,422.1 958.5,415.2 976.5,407.6 994.4,399.6 1012.3,391.5 1030.3,383.3 1048.2,376.8 1066.1,370.2 1084.1,363.7 1102.0,357.3 1120.0,350.9 1137.9,344.5 1155.8,338.2 1173.8,331.9 1191.7,325.6 1209.7,319.4 1227.6,313.3 1245.5,307.2 1263.5,301.1 1281.4,295.0 1299.4,289.0 1317.3,283.1 1335.2,277.2 1353.2,271.3" fill="none" stroke="rgba(0,0,0,0.13)" stroke-width="2.00" stroke-linejoin="round" />
<polyline points="815.0,453.3 832.9,452.1 850.9,449.2 868.8,444.4 886.8,438.8 904.7,433.3 922.6,427.4 940.6,421.2 958.5,414.6 976.5,407.5 994.4,400.0 1012.3,392.5 1030.3,384.9 1048.2,378.5 1066.1,372.1 1084.1,365.8 1102.0,359.4 1120.0,353.2 1137.9,346.9 1155.8,340.7 1173.8,334.6 1191.7,328.4 1209.7,322.4 1227.6,316.3 1245.5,310.3 1263.5,304.3 1281.4,298.4 1299.4,292.5 1317.3,286.7 1335.2,280.9 1353.2,275.1" fill="none" stroke="rgba(0,0,0,0.13)" stroke-width="2.00" stroke-linejoin="round" />
<polyline points="815.0,453.3 832.9,452.4 850.9,450.0 868.8,446.2 886.8,441.5 904.7,436.6 922.6,431.2 940.6,425.3 958.5,419.0 976.5,412.0 994.4,404.6 1012.3,397.0 1030.3,389.4 1048.2,383.1 1066.1,376.9 1084.1,370.7 1102.0,364.5 1120.0,358.3 1137.9,352.1 1155.8,345.9 1173.8,339.7 1191.7,333.5 1209.7,327.3 1227.6,321.2 1245.5,315.0 1263.5,308.9 1281.4,302.7 1299.4,296.6 1317.3,290.5 1335.2,284.4 1353.2,278.3" fill="none" stroke="rgba(0,0,0,0.13)" stroke-width="2.00" stroke-linejoin="round" />
<polyline points="815.0,453.3 832.9,452.0 850.9,448.5 868.8,443.4 886.8,437.7 904.7,432.1 922.6,426.4 940.6,420.7 958.5,414.8 976.5,408.8 994.4,402.6 1012.3,396.5 1030.3,390.2 1048.2,384.2 1066.1,378.1 1084.1,372.1 1102.0,366.1 1120.0,360.2 1137.9,354.2 1155.8,348.3 1173.8,342.4 1191.7,336.6 1209.7,330.7 1227.6,324.9 1245.5,319.1 1263.5,313.3 1281.4,307.5 1299.4,301.8 1317.3,296.1 1335.2,290.4 1353.2,284.7" fill="none" stroke="rgba(0,0,0,0.13)" stroke-width="2.00" stroke-linejoin="round" />
<polyline points="815.0,453.3 832.9,452.2 850.9,449.3 868.8,444.9 886.8,439.9 904.7,435.0 922.6,430.0 940.6,424.8 958.5,419.5 976.5,413.9 994.4,408.0 1012.3,402.2 1030.3,396.4 1048.2,391.0 1066.1,385.7 1084.1,380.4 1102.0,375.1 1120.0,369.9 1137.9,364.7 1155.8,359.6 1173.8,354.5 1191.7,349.4 1209.7,344.3 1227.6,339.3 1245.5,334.3 1263.5,329.4 1281.4,324.4 1299.4,319.6 1317.3,314.7 1335.2,309.9 1353.2,305.1" fill="none" stroke="rgba(0,0,0,0.13)" stroke-width="2.00" stroke-linejoin="round" />
<polyline points="815.0,453.3 832.9,452.2 850.9,449.4 868.8,445.1 886.8,439.9 904.7,435.1 922.6,430.0 940.6,424.7 958.5,419.1 976.5,413.2 994.4,407.0 1012.3,400.9 1030.3,394.6 1048.2,389.3 1066.1,383.9 1084.1,378.7 1102.0,373.5 1120.0,368.3 1137.9,363.2 1155.8,358.1 1173.8,353.1 1191.7,348.2 1209.7,343.3 1227.6,338.4 1245.5,333.6 1263.5,328.9 1281.4,324.2 1299.4,319.5 1317.3,314.9 1335.2,310.4 1353.2,305.9" fill="none" stroke="rgba(0,0,0,0.13)" stroke-width="2.00" stroke-linejoin="round" />
<polyline points="815.0,453.3 832.9,452.4 850.9,450.1 868.8,446.4 886.8,441.6 904.7,437.3 922.6,432.6 940.6,427.4 958.5,421.9 976.5,415.9 994.4,409.7 1012.3,403.3 1030.3,396.9 1048.2,391.7 1066.1,386.6 1084.1,381.6 1102.0,376.6 1120.0,371.7 1137.9,366.8 1155.8,361.9 1173.8,357.1 1191.7,352.4 1209.7,347.7 1227.6,343.1 1245.5,338.5 1263.5,334.0 1281.4,329.5 1299.4,325.1 1317.3,320.7 1335.2,316.4 1353.2,312.1" fill="none" stroke="rgba(0,0,0,0.13)" stroke-width="2.00" stroke-linejoin="round" />
<polyline points="815.0,453.3 832.9,452.4 850.9,450.1 868.8,446.5 886.8,442.1 904.7,437.8 922.6,433.3 940.6,428.3 958.5,423.1 976.5,417.4 994.4,411.5 1012.3,405.5 1030.3,399.5 1048.2,394.4 1066.1,389.4 1084.1,384.4 1102.0,379.5 1120.0,374.6 1137.9,369.8 1155.8,364.9 1173.8,360.1 1191.7,355.4 1209.7,350.7 1227.6,346.0 1245.5,341.3 1263.5,336.7 1281.4,332.1 1299.4,327.5 1317.3,323.0 1335.2,318.5 1353.2,314.1" fill="none" stroke="rgba(0,0,0,0.13)" stroke-width="2.00" stroke-linejoin="round" />
<polyline points="815.0,453.3 832.9,452.2 850.9,449.5 868.8,445.2 886.8,440.1 904.7,435.4 922.6,430.6 940.6,425.5 958.5,420.3 976.5,414.8 994.4,409.1 1012.3,403.4 1030.3,397.6 1048.2,392.6 1066.1,387.6 1084.1,382.7 1102.0,377.8 1120.0,373.1 1137.9,368.3 1155.8,363.6 1173.8,359.0 1191.7,354.5 1209.7,350.0 1227.6,345.5 1245.5,341.2 1263.5,336.8 1281.4,332.6 1299.4,328.4 1317.3,324.2 1335.2,320.1 1353.2,316.1" fill="none" stroke="rgba(0,0,0,0.13)" stroke-width="2.00" stroke-linejoin="round" />
<polyline points="815.0,453.3 832.9,452.2 850.9,449.4 868.8,445.2 886.8,440.2 904.7,435.6 922.6,430.9 940.6,426.1 958.5,421.1 976.5,415.8 994.4,410.4 1012.3,405.1 1030.3,399.6 1048.2,394.7 1066.1,389.8 1084.1,385.0 1102.0,380.2 1120.0,375.5 1137.9,370.8 1155.8,366.2 1173.8,361.6 1191.7,357.0 1209.7,352.5 1227.6,348.0 1245.5,343.6 1263.5,339.3 1281.4,334.9 1299.4,330.7 1317.3,326.4 1335.2,322.2 1353.2,318.1" fill="none" stroke="rgba(0,0,0,0.13)" stroke-width="2.00" stroke-linejoin="round" />
<polyline points="815.0,453.3 832.9,452.6 850.9,450.9 868.8,448.2 886.8,445.0 904.7,441.7 922.6,438.1 940.6,434.1 958.5,430.0 976.5,425.5 994.4,420.7 1012.3,415.9 1030.3,411.0 1048.2,406.3 1066.1,401.6 1084.1,397.0 1102.0,392.3 1120.0,387.6 1137.9,382.9 1155.8,378.2 1173.8,373.5 1191.7,368.9 1209.7,364.2 1227.6,359.5 1245.5,354.8 1263.5,350.1 1281.4,345.4 1299.4,340.8 1317.3,336.1 1335.2,331.4 1353.2,326.7" fill="none" stroke="rgba(0,0,0,0.13)" stroke-width="2.00" stroke-linejoin="round" />
<polyline points="815.0,453.3 832.9,452.5 850.9,450.6 868.8,447.6 886.8,444.3 904.7,440.9 922.6,437.4 940.6,433.8 958.5,430.1 976.5,426.2 994.4,422.2 1012.3,418.1 1030.3,414.0 1048.2,409.5 1066.1,404.9 1084.1,400.3 1102.0,395.8 1120.0,391.2 1137.9,386.6 1155.8,382.1 1173.8,377.5 1191.7,373.0 1209.7,368.4 1227.6,363.8 1245.5,359.3 1263.5,354.7 1281.4,350.1 1299.4,345.6 1317.3,341.0 1335.2,336.5 1353.2,331.9" fill="none" stroke="rgba(0,0,0,0.13)" stroke-width="2.00" stroke-linejoin="round" />
<polyline points="815.0,453.3 832.9,452.6 850.9,450.9 868.8,448.3 886.8,445.3 904.7,442.2 922.6,439.0 940.6,435.6 958.5,432.1 976.5,428.4 994.4,424.5 1012.3,420.7 1030.3,416.7 1048.2,412.2 1066.1,407.8 1084.1,403.4 1102.0,398.9 1120.0,394.5 1137.9,390.0 1155.8,385.6 1173.8,381.1 1191.7,376.7 1209.7,372.3 1227.6,367.8 1245.5,363.4 1263.5,358.9 1281.4,354.5 1299.4,350.0 1317.3,345.6 1335.2,341.1 1353.2,336.7" fill="none" stroke="rgba(0,0,0,0.13)" stroke-width="2.00" stroke-linejoin="round" />
<polyline points="815.0,453.3 832.9,452.9 850.9,452.0 868.8,450.3 886.8,448.1 904.7,445.8 922.6,443.1 940.6,439.9 958.5,436.5 976.5,432.7 994.4,428.6 1012.3,424.3 1030.3,420.0 1048.2,415.7 1066.1,411.4 1084.1,407.2 1102.0,402.9 1120.0,398.6 1137.9,394.3 1155.8,390.0 1173.8,385.7 1191.7,381.5 1209.7,377.2 1227.6,372.9 1245.5,368.6 1263.5,364.3 1281.4,360.0 1299.4,355.8 1317.3,351.5 1335.2,347.2 1353.2,342.9" fill="none" stroke="rgba(0,0,0,0.13)" stroke-width="2.00" stroke-linejoin="round" />
<polyline points="815.0,453.3 832.9,453.0 850.9,452.4 868.8,451.1 886.8,449.2 904.7,447.1 922.6,444.5 940.6,441.4 958.5,438.0 976.5,433.9 994.4,429.6 1012.3,425.0 1030.3,420.4 1048.2,416.2 1066.1,411.9 1084.1,407.6 1102.0,403.4 1120.0,399.1 1137.9,394.8 1155.8,390.6 1173.8,386.3 1191.7,382.1 1209.7,377.8 1227.6,373.5 1245.5,369.3 1263.5,365.0 1281.4,360.7 1299.4,356.5 1317.3,352.2 1335.2,348.0 1353.2,343.7" fill="none" stroke="rgba(0,0,0,0.13)" stroke-width="2.00" stroke-linejoin="round" />
<polyline points="819.8,453.3 850.1,453.5 860.8,457.6 870.5,456.1 880.9,452.1 890.4,450.4 900.4,445.0 910.4,453.7 921.2,440.3 932.1,439.4 942.2,426.3 951.8,420.6 962.5,405.0 972.3,413.7 982.7,399.9 992.1,389.1 1002.2,379.4 1012.1,375.1 1022.2,359.2 1031.9,358.8 1042.0,348.6 1052.1,333.5 1062.2,317.6 1073.4,298.4 1114.1,289.4 1124.2,296.9 1134.3,296.2 1143.7,289.7 1153.8,281.3 1164.2,275.3 1174.0,275.0 1183.9,269.9 1194.0,261.1 1204.1,263.4 1213.8,255.0 1223.8,255.8 1233.9,244.7 1243.7,229.3 1253.5,226.1 1263.8,234.1 1273.7,247.8 1283.5,230.0 1293.5,236.2 1303.3,242.0 1313.2,217.6 1323.3,230.9 1333.6,220.5 1343.9,219.4" fill="none" stroke="#ff0000" stroke-width="2.40" stroke-linejoin="round" />
</g>
<rect x="789.60" y="38.70" width="589.60" height="439.00" fill="none" stroke="#000" stroke-width="1.40"/>
<line x1="815.00" y1="477.70" x2="815.00" y2="483.60" stroke="#000" stroke-width="1.40"/>
<line x1="914.44" y1="477.70" x2="914.44" y2="483.60" stroke="#000" stroke-width="1.40"/>
<line x1="1013.88" y1="477.70" x2="1013.88" y2="483.60" stroke="#000" stroke-width="1.40"/>
<line x1="1113.32" y1="477.70" x2="1113.32" y2="483.60" stroke="#000" stroke-width="1.40"/>
<line x1="1212.76" y1="477.70" x2="1212.76" y2="483.60" stroke="#000" stroke-width="1.40"/>
<line x1="1312.20" y1="477.70" x2="1312.20" y2="483.60" stroke="#000" stroke-width="1.40"/>
<line x1="783.70" y1="453.30" x2="789.60" y2="453.30" stroke="#000" stroke-width="1.40"/>
<line x1="783.70" y1="403.30" x2="789.60" y2="403.30" stroke="#000" stroke-width="1.40"/>
<line x1="783.70" y1="353.30" x2="789.60" y2="353.30" stroke="#000" stroke-width="1.40"/>
<line x1="783.70" y1="303.30" x2="789.60" y2="303.30" stroke="#000" stroke-width="1.40"/>
<line x1="783.70" y1="253.30" x2="789.60" y2="253.30" stroke="#000" stroke-width="1.40"/>
<line x1="783.70" y1="203.30" x2="789.60" y2="203.30" stroke="#000" stroke-width="1.40"/>
<line x1="783.70" y1="153.30" x2="789.60" y2="153.30" stroke="#000" stroke-width="1.40"/>
<line x1="783.70" y1="103.30" x2="789.60" y2="103.30" stroke="#000" stroke-width="1.40"/>
<line x1="783.70" y1="53.30" x2="789.60" y2="53.30" stroke="#000" stroke-width="1.40"/>
<rect x="800.00" y="47.90" width="36.20" height="22.50" fill="#e9ebf5"/>
<rect x="838.20" y="47.90" width="56.80" height="22.50" fill="#e9ebf5"/>
<rect x="800.00" y="72.50" width="36.20" height="22.50" fill="#e9ebf5"/>
<rect x="838.20" y="72.50" width="56.80" height="22.50" fill="#e9ebf5"/>
<g>
<polyline points="1501.8,452.1 1507.3,451.6 1510.3,445.9 1512.7,440.4 1516.2,436.2 1519.7,435.0 1537.7,431.2 1555.6,426.8 1573.6,421.8 1591.5,414.4 1609.5,405.6 1627.4,395.7 1645.3,385.1 1663.3,373.3 1681.2,360.8 1699.2,347.7 1717.1,334.6 1735.1,322.2 1753.0,308.5 1770.9,294.8 1788.9,279.8 1806.8,264.9 1824.8,248.7 1842.7,232.5 1860.7,217.6 1878.6,198.1 1896.5,173.0 1914.5,160.4 1932.4,146.6 1950.4,131.4 1968.3,116.3 1986.2,96.1 2004.2,88.5 2022.1,75.4 2040.1,58.0" fill="none" stroke="rgba(0,0,0,0.13)" stroke-width="2.00" stroke-linejoin="round" />
<polyline points="1501.8,452.1 1519.7,450.8 1537.7,447.6 1555.6,442.2 1573.6,435.6 1591.5,428.6 1609.5,420.8 1627.4,412.1 1645.3,402.7 1663.3,392.3 1681.2,381.3 1699.2,370.0 1717.1,358.6 1735.1,350.1 1753.0,341.6 1770.9,333.1 1788.9,324.7 1806.8,316.2 1824.8,307.7 1842.7,299.3 1860.7,290.8 1878.6,282.3 1896.5,273.9 1914.5,265.4 1932.4,256.9 1950.4,248.4 1968.3,226.9 1986.2,216.7 2004.2,206.5 2022.1,196.4 2040.1,186.2" fill="none" stroke="rgba(0,0,0,0.13)" stroke-width="2.00" stroke-linejoin="round" />
<polyline points="1501.8,452.1 1507.3,451.6 1510.3,445.9 1512.7,440.4 1516.2,436.8 1519.7,435.7 1537.7,432.2 1555.6,428.2 1573.6,423.5 1591.5,416.7 1609.5,407.8 1627.4,397.3 1645.3,385.3 1663.3,371.9 1681.2,357.4 1699.2,342.5 1717.1,323.0 1735.1,311.0 1753.0,299.0 1770.9,287.2 1788.9,275.4 1806.8,263.7 1824.8,252.1 1842.7,240.6 1860.7,229.2 1878.6,217.9 1896.5,206.7 1914.5,195.5 1932.4,184.5 1950.4,173.5 1968.3,162.6 1986.2,151.9 2004.2,141.2 2022.1,130.5 2040.1,120.0" fill="none" stroke="rgba(0,0,0,0.13)" stroke-width="2.00" stroke-linejoin="round" />
<polyline points="1501.8,452.1 1519.7,450.8 1537.7,447.6 1555.6,442.2 1573.6,435.7 1591.5,427.9 1609.5,419.2 1627.4,409.2 1645.3,398.4 1663.3,386.3 1681.2,373.4 1699.2,360.0 1717.1,346.4 1735.1,335.4 1753.0,324.3 1770.9,313.2 1788.9,301.9 1806.8,290.6 1824.8,279.3 1842.7,267.8 1860.7,256.3 1878.6,244.7 1896.5,233.1 1914.5,221.3 1932.4,209.5 1950.4,197.6 1968.3,185.7 1986.2,173.7 2004.2,161.6 2022.1,149.4 2040.1,137.2" fill="none" stroke="rgba(0,0,0,0.13)" stroke-width="2.00" stroke-linejoin="round" />
<polyline points="1501.8,452.1 1519.7,450.6 1537.7,446.8 1555.6,440.9 1573.6,434.2 1591.5,426.3 1609.5,417.7 1627.4,408.3 1645.3,398.3 1663.3,387.2 1681.2,375.6 1699.2,363.8 1717.1,351.6 1735.1,341.1 1753.0,330.4 1770.9,319.7 1788.9,308.9 1806.8,298.1 1824.8,287.1 1842.7,276.1 1860.7,265.0 1878.6,253.8 1896.5,242.5 1914.5,231.2 1932.4,219.8 1950.4,208.3 1968.3,196.7 1986.2,185.1 2004.2,173.4 2022.1,161.5 2040.1,149.7" fill="none" stroke="rgba(0,0,0,0.13)" stroke-width="2.00" stroke-linejoin="round" />
<polyline points="1501.8,452.1 1519.7,450.6 1537.7,446.8 1555.6,441.1 1573.6,434.9 1591.5,427.3 1609.5,419.1 1627.4,410.3 1645.3,400.9 1663.3,390.8 1681.2,380.1 1699.2,369.2 1717.1,358.0 1735.1,347.9 1753.0,337.7 1770.9,327.4 1788.9,317.0 1806.8,306.5 1824.8,295.9 1842.7,285.2 1860.7,274.5 1878.6,263.6 1896.5,252.6 1914.5,241.5 1932.4,230.3 1950.4,219.0 1968.3,207.6 1986.2,196.2 2004.2,184.6 2022.1,172.9 2040.1,161.1" fill="none" stroke="rgba(0,0,0,0.13)" stroke-width="2.00" stroke-linejoin="round" />
<polyline points="1501.8,452.1 1519.7,450.7 1537.7,447.1 1555.6,441.6 1573.6,435.5 1591.5,428.1 1609.5,420.1 1627.4,411.6 1645.3,402.4 1663.3,392.5 1681.2,382.0 1699.2,371.3 1717.1,360.2 1735.1,350.5 1753.0,340.7 1770.9,330.8 1788.9,320.9 1806.8,310.8 1824.8,300.7 1842.7,290.5 1860.7,280.2 1878.6,269.9 1896.5,259.5 1914.5,248.9 1932.4,238.3 1950.4,227.7 1968.3,216.9 1986.2,206.1 2004.2,195.2 2022.1,184.2 2040.1,173.1" fill="none" stroke="rgba(0,0,0,0.13)" stroke-width="2.00" stroke-linejoin="round" />
<polyline points="1501.8,452.1 1519.7,451.0 1537.7,448.2 1555.6,443.6 1573.6,438.1 1591.5,431.3 1609.5,423.7 1627.4,415.2 1645.3,405.8 1663.3,395.4 1681.2,384.2 1699.2,372.6 1717.1,360.9 1735.1,351.3 1753.0,341.7 1770.9,332.0 1788.9,322.2 1806.8,312.4 1824.8,302.4 1842.7,292.4 1860.7,282.4 1878.6,272.3 1896.5,262.1 1914.5,251.8 1932.4,241.5 1950.4,231.1 1968.3,220.6 1986.2,210.1 2004.2,199.5 2022.1,188.8 2040.1,178.1" fill="none" stroke="rgba(0,0,0,0.13)" stroke-width="2.00" stroke-linejoin="round" />
<polyline points="1501.8,452.1 1519.7,450.2 1537.7,445.4 1555.6,438.4 1573.6,430.8 1591.5,422.6 1609.5,414.3 1627.4,405.8 1645.3,397.1 1663.3,387.9 1681.2,378.6 1699.2,369.2 1717.1,359.6 1735.1,350.2 1753.0,340.8 1770.9,331.3 1788.9,321.8 1806.8,312.3 1824.8,302.7 1842.7,293.1 1860.7,283.5 1878.6,273.9 1896.5,264.2 1914.5,254.5 1932.4,244.7 1950.4,234.9 1968.3,225.1 1986.2,215.3 2004.2,205.4 2022.1,195.5 2040.1,185.5" fill="none" stroke="rgba(0,0,0,0.13)" stroke-width="2.00" stroke-linejoin="round" />
<polyline points="1501.8,452.1 1519.7,450.8 1537.7,447.7 1555.6,442.6 1573.6,436.6 1591.5,429.9 1609.5,422.6 1627.4,414.5 1645.3,405.9 1663.3,396.4 1681.2,386.3 1699.2,376.1 1717.1,365.6 1735.1,356.8 1753.0,348.1 1770.9,339.2 1788.9,330.4 1806.8,321.5 1824.8,312.6 1842.7,303.7 1860.7,294.7 1878.6,285.8 1896.5,276.8 1914.5,267.7 1932.4,258.7 1950.4,249.6 1968.3,240.5 1986.2,231.3 2004.2,222.1 2022.1,213.0 2040.1,203.7" fill="none" stroke="rgba(0,0,0,0.13)" stroke-width="2.00" stroke-linejoin="round" />
<polyline points="1501.8,452.1 1519.7,450.1 1537.7,445.0 1555.6,437.6 1573.6,429.5 1591.5,421.4 1609.5,413.2 1627.4,405.0 1645.3,396.8 1663.3,388.3 1681.2,379.6 1699.2,371.1 1717.1,362.4 1735.1,353.6 1753.0,344.8 1770.9,336.0 1788.9,327.2 1806.8,318.4 1824.8,309.7 1842.7,300.9 1860.7,292.2 1878.6,283.5 1896.5,274.7 1914.5,266.0 1932.4,257.3 1950.4,248.6 1968.3,239.9 1986.2,231.2 2004.2,222.6 2022.1,213.9 2040.1,205.2" fill="none" stroke="rgba(0,0,0,0.13)" stroke-width="2.00" stroke-linejoin="round" />
<polyline points="1501.8,452.1 1519.7,450.6 1537.7,446.7 1555.6,440.7 1573.6,433.7 1591.5,426.5 1609.5,418.8 1627.4,410.6 1645.3,402.0 1663.3,392.7 1681.2,382.9 1699.2,373.1 1717.1,363.1 1735.1,354.3 1753.0,345.6 1770.9,336.8 1788.9,328.1 1806.8,319.4 1824.8,310.7 1842.7,302.0 1860.7,293.3 1878.6,284.6 1896.5,275.9 1914.5,267.3 1932.4,258.6 1950.4,249.9 1968.3,241.3 1986.2,232.6 2004.2,224.0 2022.1,215.3 2040.1,206.7" fill="none" stroke="rgba(0,0,0,0.13)" stroke-width="2.00" stroke-linejoin="round" />
<polyline points="1501.8,452.1 1519.7,450.8 1537.7,447.5 1555.6,442.0 1573.6,435.1 1591.5,428.5 1609.5,421.2 1627.4,413.2 1645.3,404.6 1663.3,395.2 1681.2,385.3 1699.2,375.1 1717.1,364.9 1735.1,356.8 1753.0,348.6 1770.9,340.5 1788.9,332.5 1806.8,324.5 1824.8,316.6 1842.7,308.7 1860.7,300.9 1878.6,293.1 1896.5,285.4 1914.5,277.7 1932.4,270.1 1950.4,262.5 1968.3,255.0 1986.2,247.5 2004.2,240.1 2022.1,232.7 2040.1,225.4" fill="none" stroke="rgba(0,0,0,0.13)" stroke-width="2.00" stroke-linejoin="round" />
<polyline points="1501.8,452.1 1519.7,450.7 1537.7,446.9 1555.6,441.1 1573.6,434.0 1591.5,427.2 1609.5,419.9 1627.4,412.1 1645.3,403.9 1663.3,395.0 1681.2,385.7 1699.2,376.4 1717.1,366.9 1735.1,358.9 1753.0,351.0 1770.9,343.1 1788.9,335.2 1806.8,327.4 1824.8,319.6 1842.7,311.9 1860.7,304.2 1878.6,296.6 1896.5,289.0 1914.5,281.5 1932.4,274.0 1950.4,266.6 1968.3,259.2 1986.2,251.8 2004.2,244.6 2022.1,237.3 2040.1,230.1" fill="none" stroke="rgba(0,0,0,0.13)" stroke-width="2.00" stroke-linejoin="round" />
<polyline points="1501.8,452.1 1519.7,450.9 1537.7,448.0 1555.6,443.2 1573.6,437.4 1591.5,431.3 1609.5,424.6 1627.4,417.2 1645.3,409.3 1663.3,400.6 1681.2,391.4 1699.2,382.0 1717.1,372.5 1735.1,364.7 1753.0,356.9 1770.9,349.2 1788.9,341.4 1806.8,333.7 1824.8,326.0 1842.7,318.3 1860.7,310.6 1878.6,302.9 1896.5,295.2 1914.5,287.5 1932.4,279.9 1950.4,272.2 1968.3,264.6 1986.2,256.9 2004.2,249.3 2022.1,241.7 2040.1,234.1" fill="none" stroke="rgba(0,0,0,0.13)" stroke-width="2.00" stroke-linejoin="round" />
<polyline points="1501.8,452.1 1519.7,450.4 1537.7,446.1 1555.6,439.7 1573.6,432.6 1591.5,425.7 1609.5,418.6 1627.4,411.5 1645.3,404.2 1663.3,396.6 1681.2,388.9 1699.2,381.3 1717.1,373.5 1735.1,366.0 1753.0,358.5 1770.9,351.0 1788.9,343.5 1806.8,336.1 1824.8,328.7 1842.7,321.3 1860.7,314.0 1878.6,306.7 1896.5,299.4 1914.5,292.1 1932.4,284.9 1950.4,277.7 1968.3,270.5 1986.2,263.4 2004.2,256.3 2022.1,249.2 2040.1,242.1" fill="none" stroke="rgba(0,0,0,0.13)" stroke-width="2.00" stroke-linejoin="round" />
<polyline points="1501.8,452.1 1519.7,450.7 1537.7,447.1 1555.6,441.7 1573.6,435.4 1591.5,429.4 1609.5,423.1 1627.4,416.7 1645.3,410.0 1663.3,403.0 1681.2,395.7 1699.2,388.5 1717.1,381.2 1735.1,374.5 1753.0,367.9 1770.9,361.3 1788.9,354.7 1806.8,348.2 1824.8,341.8 1842.7,335.4 1860.7,329.0 1878.6,322.7 1896.5,316.4 1914.5,310.1 1932.4,303.9 1950.4,297.7 1968.3,291.6 1986.2,285.5 2004.2,279.5 2022.1,273.5 2040.1,267.5" fill="none" stroke="rgba(0,0,0,0.13)" stroke-width="2.00" stroke-linejoin="round" />
<polyline points="1501.8,452.1 1519.7,450.8 1537.7,447.3 1555.6,441.9 1573.6,435.4 1591.5,429.4 1609.5,423.1 1627.4,416.4 1645.3,409.5 1663.3,402.1 1681.2,394.5 1699.2,386.8 1717.1,379.0 1735.1,372.3 1753.0,365.7 1770.9,359.2 1788.9,352.7 1806.8,346.2 1824.8,339.9 1842.7,333.6 1860.7,327.3 1878.6,321.1 1896.5,315.0 1914.5,309.0 1932.4,303.0 1950.4,297.1 1968.3,291.3 1986.2,285.5 2004.2,279.7 2022.1,274.1 2040.1,268.5" fill="none" stroke="rgba(0,0,0,0.13)" stroke-width="2.00" stroke-linejoin="round" />
<polyline points="1501.8,452.1 1519.7,451.0 1537.7,448.1 1555.6,443.5 1573.6,437.6 1591.5,432.2 1609.5,426.3 1627.4,419.8 1645.3,413.0 1663.3,405.6 1681.2,397.7 1699.2,389.8 1717.1,381.8 1735.1,375.4 1753.0,369.1 1770.9,362.8 1788.9,356.6 1806.8,350.4 1824.8,344.3 1842.7,338.3 1860.7,332.3 1878.6,326.4 1896.5,320.6 1914.5,314.8 1932.4,309.1 1950.4,303.5 1968.3,297.9 1986.2,292.4 2004.2,286.9 2022.1,281.5 2040.1,276.2" fill="none" stroke="rgba(0,0,0,0.13)" stroke-width="2.00" stroke-linejoin="round" />
<polyline points="1501.8,452.1 1519.7,451.0 1537.7,448.2 1555.6,443.6 1573.6,438.1 1591.5,432.8 1609.5,427.1 1627.4,421.0 1645.3,414.5 1663.3,407.4 1681.2,400.0 1699.2,392.6 1717.1,385.0 1735.1,378.8 1753.0,372.5 1770.9,366.3 1788.9,360.2 1806.8,354.1 1824.8,348.0 1842.7,342.0 1860.7,336.1 1878.6,330.1 1896.5,324.2 1914.5,318.4 1932.4,312.6 1950.4,306.8 1968.3,301.1 1986.2,295.5 2004.2,289.8 2022.1,284.3 2040.1,278.7" fill="none" stroke="rgba(0,0,0,0.13)" stroke-width="2.00" stroke-linejoin="round" />
<polyline points="1501.8,452.1 1519.7,450.8 1537.7,447.3 1555.6,442.0 1573.6,435.6 1591.5,429.8 1609.5,423.8 1627.4,417.5 1645.3,411.0 1663.3,404.1 1681.2,397.0 1699.2,389.9 1717.1,382.7 1735.1,376.4 1753.0,370.3 1770.9,364.2 1788.9,358.1 1806.8,352.1 1824.8,346.2 1842.7,340.4 1860.7,334.7 1878.6,329.0 1896.5,323.4 1914.5,317.9 1932.4,312.4 1950.4,307.0 1968.3,301.7 1986.2,296.5 2004.2,291.3 2022.1,286.2 2040.1,281.2" fill="none" stroke="rgba(0,0,0,0.13)" stroke-width="2.00" stroke-linejoin="round" />
<polyline points="1501.8,452.1 1519.7,450.8 1537.7,447.3 1555.6,442.0 1573.6,435.8 1591.5,430.1 1609.5,424.2 1627.4,418.2 1645.3,411.9 1663.3,405.4 1681.2,398.7 1699.2,392.0 1717.1,385.3 1735.1,379.1 1753.0,373.1 1770.9,367.0 1788.9,361.1 1806.8,355.2 1824.8,349.3 1842.7,343.6 1860.7,337.8 1878.6,332.2 1896.5,326.5 1914.5,321.0 1932.4,315.5 1950.4,310.0 1968.3,304.7 1986.2,299.3 2004.2,294.1 2022.1,288.8 2040.1,283.7" fill="none" stroke="rgba(0,0,0,0.13)" stroke-width="2.00" stroke-linejoin="round" />
<polyline points="1501.8,452.1 1519.7,451.3 1537.7,449.1 1555.6,445.8 1573.6,441.8 1591.5,437.6 1609.5,433.1 1627.4,428.2 1645.3,423.1 1663.3,417.5 1681.2,411.5 1699.2,405.5 1717.1,399.4 1735.1,393.6 1753.0,387.8 1770.9,381.9 1788.9,376.1 1806.8,370.3 1824.8,364.4 1842.7,358.6 1860.7,352.8 1878.6,346.9 1896.5,341.1 1914.5,335.2 1932.4,329.4 1950.4,323.6 1968.3,317.7 1986.2,311.9 2004.2,306.1 2022.1,300.2 2040.1,294.4" fill="none" stroke="rgba(0,0,0,0.13)" stroke-width="2.00" stroke-linejoin="round" />
<polyline points="1501.8,452.1 1519.7,451.1 1537.7,448.7 1555.6,445.0 1573.6,440.9 1591.5,436.7 1609.5,432.3 1627.4,427.8 1645.3,423.2 1663.3,418.3 1681.2,413.3 1699.2,408.3 1717.1,403.2 1735.1,397.5 1753.0,391.8 1770.9,386.1 1788.9,380.4 1806.8,374.8 1824.8,369.1 1842.7,363.4 1860.7,357.7 1878.6,352.0 1896.5,346.3 1914.5,340.7 1932.4,335.0 1950.4,329.3 1968.3,323.6 1986.2,317.9 2004.2,312.2 2022.1,306.6 2040.1,300.9" fill="none" stroke="rgba(0,0,0,0.13)" stroke-width="2.00" stroke-linejoin="round" />
<polyline points="1501.8,452.1 1519.7,451.3 1537.7,449.1 1555.6,445.8 1573.6,442.1 1591.5,438.3 1609.5,434.3 1627.4,430.1 1645.3,425.7 1663.3,421.1 1681.2,416.3 1699.2,411.4 1717.1,406.5 1735.1,401.0 1753.0,395.4 1770.9,389.9 1788.9,384.4 1806.8,378.8 1824.8,373.3 1842.7,367.7 1860.7,362.2 1878.6,356.7 1896.5,351.1 1914.5,345.6 1932.4,340.1 1950.4,334.5 1968.3,329.0 1986.2,323.5 2004.2,317.9 2022.1,312.4 2040.1,306.9" fill="none" stroke="rgba(0,0,0,0.13)" stroke-width="2.00" stroke-linejoin="round" />
<polyline points="1501.8,452.1 1519.7,451.6 1537.7,450.4 1555.6,448.4 1573.6,445.6 1591.5,442.7 1609.5,439.3 1627.4,435.5 1645.3,431.2 1663.3,426.4 1681.2,421.3 1699.2,416.0 1717.1,410.6 1735.1,405.3 1753.0,400.0 1770.9,394.6 1788.9,389.3 1806.8,383.9 1824.8,378.6 1842.7,373.3 1860.7,367.9 1878.6,362.6 1896.5,357.3 1914.5,351.9 1932.4,346.6 1950.4,341.3 1968.3,335.9 1986.2,330.6 2004.2,325.3 2022.1,319.9 2040.1,314.6" fill="none" stroke="rgba(0,0,0,0.13)" stroke-width="2.00" stroke-linejoin="round" />
<polyline points="1501.8,452.1 1519.7,451.8 1537.7,451.0 1555.6,449.4 1573.6,447.0 1591.5,444.4 1609.5,441.2 1627.4,437.3 1645.3,433.0 1663.3,428.0 1681.2,422.5 1699.2,416.8 1717.1,411.1 1735.1,405.8 1753.0,400.5 1770.9,395.2 1788.9,389.9 1806.8,384.6 1824.8,379.3 1842.7,374.0 1860.7,368.7 1878.6,363.4 1896.5,358.1 1914.5,352.7 1932.4,347.4 1950.4,342.1 1968.3,336.8 1986.2,331.5 2004.2,326.2 2022.1,320.9 2040.1,315.6" fill="none" stroke="rgba(0,0,0,0.13)" stroke-width="2.00" stroke-linejoin="round" />
<polyline points="1501.8,452.1 1519.7,451.7 1537.7,450.8 1555.6,449.1 1573.6,446.8 1591.5,444.3 1609.5,441.4 1627.4,438.0 1645.3,434.2 1663.3,429.9 1681.2,425.3 1699.2,420.5 1717.1,415.6 1735.1,410.8 1753.0,406.0 1770.9,401.1 1788.9,396.3 1806.8,391.5 1824.8,386.6 1842.7,381.8 1860.7,376.9 1878.6,372.1 1896.5,367.3 1914.5,362.4 1932.4,357.6 1950.4,352.7 1968.3,347.9 1986.2,343.1 2004.2,338.2 2022.1,333.4 2040.1,328.5" fill="none" stroke="rgba(0,0,0,0.13)" stroke-width="2.00" stroke-linejoin="round" />
<polyline points="1506.6,452.1 1536.9,452.3 1547.6,457.5 1557.3,455.6 1567.7,450.6 1577.2,448.5 1587.2,441.8 1597.2,452.6 1608.0,435.9 1618.9,434.8 1629.0,418.5 1638.6,411.4 1649.3,391.9 1659.1,402.8 1669.5,385.6 1678.9,372.1 1689.0,360.1 1698.9,354.7 1709.0,334.9 1718.7,334.4 1728.8,321.7 1738.9,302.9 1749.0,283.1 1760.3,259.2 1801.0,247.9 1811.1,257.3 1821.2,256.4 1830.6,248.3 1840.7,237.9 1851.1,230.4 1860.9,230.0 1870.8,223.7 1880.9,212.7 1891.0,215.6 1900.7,205.1 1910.7,206.1 1920.8,192.3 1930.6,173.1 1940.4,169.1 1950.7,179.1 1960.6,196.1 1970.4,174.0 1980.4,181.7 1990.2,188.9 2000.1,158.5 2010.2,175.1 2020.5,162.1 2030.8,160.8" fill="none" stroke="#ff0000" stroke-width="2.40" stroke-linejoin="round" />
</g>
<rect x="1476.30" y="38.70" width="589.70" height="439.00" fill="none" stroke="#000" stroke-width="1.40"/>
<line x1="1501.80" y1="477.70" x2="1501.80" y2="483.60" stroke="#000" stroke-width="1.40"/>
<line x1="1601.26" y1="477.70" x2="1601.26" y2="483.60" stroke="#000" stroke-width="1.40"/>
<line x1="1700.72" y1="477.70" x2="1700.72" y2="483.60" stroke="#000" stroke-width="1.40"/>
<line x1="1800.18" y1="477.70" x2="1800.18" y2="483.60" stroke="#000" stroke-width="1.40"/>
<line x1="1899.64" y1="477.70" x2="1899.64" y2="483.60" stroke="#000" stroke-width="1.40"/>
<line x1="1999.10" y1="477.70" x2="1999.10" y2="483.60" stroke="#000" stroke-width="1.40"/>
<line x1="1470.40" y1="452.10" x2="1476.30" y2="452.10" stroke="#000" stroke-width="1.40"/>
<line x1="1470.40" y1="402.28" x2="1476.30" y2="402.28" stroke="#000" stroke-width="1.40"/>
<line x1="1470.40" y1="352.45" x2="1476.30" y2="352.45" stroke="#000" stroke-width="1.40"/>
<line x1="1470.40" y1="302.63" x2="1476.30" y2="302.63" stroke="#000" stroke-width="1.40"/>
<line x1="1470.40" y1="252.80" x2="1476.30" y2="252.80" stroke="#000" stroke-width="1.40"/>
<line x1="1470.40" y1="202.98" x2="1476.30" y2="202.98" stroke="#000" stroke-width="1.40"/>
<line x1="1470.40" y1="153.16" x2="1476.30" y2="153.16" stroke="#000" stroke-width="1.40"/>
<line x1="1470.40" y1="103.33" x2="1476.30" y2="103.33" stroke="#000" stroke-width="1.40"/>
<line x1="1470.40" y1="53.51" x2="1476.30" y2="53.51" stroke="#000" stroke-width="1.40"/>
<rect x="1486.20" y="47.90" width="36.20" height="22.50" fill="#e9ebf5"/>
<rect x="1524.40" y="47.90" width="56.80" height="22.50" fill="#e9ebf5"/>
<rect x="1486.20" y="72.50" width="36.20" height="22.50" fill="#e9ebf5"/>
<rect x="1524.40" y="72.50" width="56.80" height="22.50" fill="#e9ebf5"/>
<g>
<polyline points="117.8,967.1 129.2,949.6 140.8,941.5 149.9,937.5 160.1,933.0 187.1,920.7 210.1,911.0 229.4,898.5 248.8,887.0 269.9,872.5 289.1,854.2 300.8,841.7 321.9,825.3 333.6,815.7 358.6,797.3 379.9,781.0 390.1,774.3 400.2,766.2 410.3,758.9 420.4,750.6 430.5,742.2 440.6,736.2 450.7,730.5 460.8,721.1 470.9,714.3 481.0,707.6 491.1,697.6 501.2,689.9 511.3,680.5 521.4,672.7 531.5,664.3 541.6,657.9 551.7,649.5 561.8,640.0 571.9,632.0 582.0,623.1 592.1,614.5 602.2,608.5 612.3,599.5 622.4,591.2 632.5,584.2 642.6,578.4 652.7,569.0 654.1,567.5" fill="none" stroke="rgba(0,0,0,0.13)" stroke-width="2.00" stroke-linejoin="round" />
<polyline points="117.8,967.1 129.9,966.0 145.0,960.5 163.1,950.9 184.4,933.9 205.8,918.5 225.6,912.0 244.9,899.5 258.3,891.8 264.1,880.2 269.9,874.4 300.8,856.1 321.9,843.6 379.9,803.1 390.1,794.5 400.3,788.3 410.4,781.5 420.6,774.0 430.7,765.6 440.9,759.5 451.0,753.1 461.2,745.4 471.3,737.8 481.5,729.4 491.7,720.7 501.8,713.5 512.0,707.0 522.1,698.7 532.3,692.8 542.4,684.9 552.6,677.2 562.7,669.3 572.9,663.7 583.1,656.9 593.2,650.1 603.4,642.7 613.5,634.3 623.7,626.8 633.8,619.7 644.0,612.1 654.1,605.2" fill="none" stroke="rgba(0,0,0,0.13)" stroke-width="2.00" stroke-linejoin="round" />
<polyline points="117.8,967.1 127.9,965.9 138.0,963.1 148.2,959.9 158.3,956.6 168.4,951.8 178.5,947.9 188.6,943.8 198.8,933.8 208.9,926.4 219.0,919.9 229.1,910.7 239.2,900.1 249.3,894.8 259.5,890.0 269.6,883.7 279.7,877.0 289.8,870.4 299.9,864.0 310.1,855.6 320.2,847.7 330.3,841.7 340.4,835.7 350.5,828.0 360.7,820.1 370.8,811.7 380.9,806.8 391.0,798.5 401.1,790.1 411.3,784.8 421.4,777.0 431.5,771.8 441.6,763.3 451.7,757.9 461.8,748.0 472.0,740.2 482.1,733.1 492.2,727.5 502.3,722.0 512.4,716.6 522.6,710.8 532.7,702.3 542.8,696.1 552.9,690.4 563.0,682.2 573.2,676.9 583.3,671.1 593.4,663.2 603.5,657.1 613.6,651.8 623.8,645.9 633.9,639.5 644.0,630.9 654.1,623.8" fill="none" stroke="rgba(0,0,0,0.13)" stroke-width="2.00" stroke-linejoin="round" />
<polyline points="117.8,967.1 127.9,966.0 138.0,963.3 148.2,960.8 158.3,956.6 168.4,953.1 178.5,947.5 188.6,942.7 198.8,938.8 208.9,934.2 219.0,929.3 229.1,923.3 239.2,918.5 249.3,914.0 259.5,907.9 269.6,901.5 279.7,894.0 289.8,889.6 299.9,883.7 310.1,878.7 320.2,872.3 330.3,866.6 340.4,858.8 350.5,852.0 360.7,842.9 370.8,838.3 380.9,831.5 391.0,827.0 401.1,820.8 411.3,815.3 421.4,810.6 431.5,803.6 441.6,796.6 451.7,789.4 461.8,783.8 472.0,776.2 482.1,770.4 492.2,762.9 502.3,756.3 512.4,749.9 522.6,745.2 532.7,737.3 542.8,730.3 552.9,723.4 563.0,717.4 573.2,712.7 583.3,708.1 593.4,702.0 603.5,695.1 613.6,688.6 623.8,679.0 633.9,673.5 644.0,668.3 654.1,660.8" fill="none" stroke="rgba(0,0,0,0.13)" stroke-width="2.00" stroke-linejoin="round" />
<polyline points="117.8,967.1 127.9,965.8 138.0,963.8 148.2,961.2 158.3,957.1 168.4,952.3 178.5,947.8 188.6,944.0 198.8,938.3 208.9,932.8 219.0,928.3 229.1,923.2 239.2,918.7 249.3,913.1 259.5,908.3 269.6,901.7 279.7,894.2 289.8,884.6 299.9,878.7 310.1,873.9 320.2,869.8 330.3,861.3 340.4,855.1 350.5,847.4 360.7,841.7 370.8,836.0 380.9,829.9 391.0,824.0 401.1,818.8 411.3,814.7 421.4,808.8 431.5,804.1 441.6,798.3 451.7,792.6 461.8,787.6 472.0,781.2 482.1,774.8 492.2,770.5 502.3,764.9 512.4,759.9 522.6,753.6 532.7,747.2 542.8,741.5 552.9,735.6 563.0,730.0 573.2,725.4 583.3,718.9 593.4,713.5 603.5,708.7 613.6,702.6 623.8,698.4 633.9,693.0 644.0,684.5 654.1,678.5" fill="none" stroke="rgba(0,0,0,0.13)" stroke-width="2.00" stroke-linejoin="round" />
<polyline points="117.8,967.1 127.9,965.9 138.0,964.3 148.2,962.3 158.3,959.3 168.4,955.3 178.5,950.6 188.6,945.5 198.8,941.7 208.9,937.6 219.0,932.5 229.1,926.8 239.2,922.3 249.3,916.3 259.5,911.9 269.6,905.4 279.7,900.0 289.8,894.6 299.9,885.6 310.1,879.0 320.2,873.9 330.3,868.3 340.4,862.4 350.5,856.9 360.7,850.2 370.8,845.4 380.9,841.0 391.0,834.7 401.1,829.3 411.3,824.8 421.4,818.1 431.5,808.3 441.6,803.7 451.7,797.7 461.8,792.6 472.0,788.3 482.1,783.9 492.2,779.1 502.3,773.5 512.4,768.4 522.6,762.8 532.7,758.1 542.8,752.2 552.9,745.7 563.0,739.2 573.2,733.0 583.3,726.3 593.4,721.3 603.5,716.6 613.6,710.0 623.8,705.2 633.9,700.4 644.0,693.9 654.1,687.5" fill="none" stroke="rgba(0,0,0,0.13)" stroke-width="2.00" stroke-linejoin="round" />
<polyline points="117.8,967.1 123.3,962.2 127.9,956.6 129.0,955.2 138.0,954.8 148.2,954.3 158.3,951.4 168.4,946.8 173.5,944.2 178.5,943.1 188.6,941.0 198.8,936.6 208.9,933.6 219.0,930.4 229.1,927.2 239.2,921.9 249.3,916.4 259.5,912.5 269.6,907.9 279.7,903.5 289.8,898.8 299.9,891.3 310.1,886.2 320.2,882.1 330.3,876.9 340.4,872.8 350.5,865.6 360.7,860.1 370.8,855.0 380.9,850.0 391.0,845.2 401.1,839.5 411.3,835.4 421.4,830.2 431.5,824.9 441.6,819.5 451.7,814.5 461.8,809.3 472.0,804.3 482.1,800.0 492.2,796.3 502.3,791.5 512.4,787.4 522.6,782.5 532.7,777.6 542.8,772.9 552.9,767.4 563.0,762.4 573.2,754.4 583.3,749.6 593.4,745.6 603.5,741.9 613.6,737.6 623.8,733.5 633.9,728.9 644.0,723.4 654.1,717.9" fill="none" stroke="rgba(0,0,0,0.13)" stroke-width="2.00" stroke-linejoin="round" />
<polyline points="117.8,967.1 127.9,965.2 138.0,963.1 148.2,960.5 158.3,957.2 168.4,952.9 178.5,948.1 188.6,943.0 198.8,937.6 208.9,932.1 219.0,926.7 229.1,921.6 239.2,916.7 249.3,911.8 259.5,906.9 269.6,902.2 279.7,897.7 289.8,893.3 299.9,889.0 310.1,884.7 320.2,880.6 330.3,876.8 340.4,873.1 350.5,869.5 360.7,865.8 370.8,861.9 380.9,857.9 391.0,853.7 401.1,849.5 411.3,845.4 421.4,841.3 431.5,837.4 441.6,833.6 451.7,829.8 461.8,826.1 472.0,822.3 482.1,818.5 492.2,814.7 502.3,810.9 512.4,807.1 522.6,803.3 532.7,799.3 542.8,795.3 552.9,791.2 563.0,786.9 573.2,782.5 583.3,777.8 593.4,773.1 603.5,768.3 613.6,763.4 623.8,758.3 633.9,753.3 644.0,748.2 654.1,743.2" fill="none" stroke="rgba(0,0,0,0.13)" stroke-width="2.00" stroke-linejoin="round" />
<polyline points="117.8,967.1 127.9,965.2 138.0,963.1 148.2,960.5 158.3,957.2 168.4,952.9 178.5,948.1 188.6,943.0 198.8,937.6 208.9,932.1 219.0,926.7 229.1,921.6 239.2,916.7 249.3,911.8 259.5,906.9 269.6,902.2 279.7,897.7 289.8,893.3 299.9,889.0 310.1,884.7 320.2,880.6 330.3,876.8 340.4,873.1 350.5,869.5 360.7,865.8 370.8,861.9 380.9,857.9 391.0,853.7 401.1,849.5 411.3,845.4 421.4,841.3 431.5,837.4 441.6,833.6 451.7,829.8 461.8,826.1 472.0,822.3 482.1,818.5 492.2,814.7 502.3,810.9 512.4,807.1 522.6,803.3 532.7,799.3 542.8,795.3 552.9,791.3 563.0,787.3 573.2,783.2 583.3,779.2 593.4,775.1 603.5,770.8 613.6,766.3 623.8,761.6 633.9,756.9 644.0,752.2 654.1,747.5" fill="none" stroke="rgba(0,0,0,0.13)" stroke-width="2.00" stroke-linejoin="round" />
<polyline points="117.8,967.1 127.9,966.2 138.0,965.0 148.2,963.3 158.3,961.2 168.4,958.8 178.5,956.1 188.6,953.3 198.8,950.2 208.9,946.7 219.0,943.3 229.1,939.6 239.2,936.1 249.3,932.4 259.5,928.6 269.6,924.6 279.7,920.8 289.8,916.8 299.9,912.8 310.1,908.6 320.2,904.5 330.3,900.2 340.4,895.9 350.5,891.7 360.7,887.6 370.8,883.1 380.9,878.8 391.0,874.5 401.1,870.1 411.3,865.9 421.4,861.6 431.5,857.0 441.6,852.7 451.7,848.3 461.8,843.7 472.0,839.1 482.1,834.7 492.2,830.3 502.3,825.9 512.4,821.2 522.6,816.8 532.7,812.1 542.8,807.5 552.9,802.6 563.0,797.8 573.2,793.0 583.3,788.2 593.4,783.3 603.5,778.6 613.6,774.1 623.8,769.4 633.9,764.9 644.0,760.1 654.1,755.4" fill="none" stroke="rgba(0,0,0,0.13)" stroke-width="2.00" stroke-linejoin="round" />
<polyline points="117.8,967.1 127.9,966.3 138.0,965.2 148.2,963.6 158.3,961.7 168.4,959.4 178.5,956.8 188.6,954.0 198.8,950.9 208.9,947.6 219.0,944.3 229.1,940.9 239.2,937.4 249.3,933.8 259.5,930.0 269.6,926.0 279.7,922.0 289.8,918.0 299.9,914.2 310.1,910.1 320.2,906.2 330.3,902.0 340.4,898.1 350.5,894.1 360.7,890.0 370.8,885.6 380.9,881.4 391.0,877.0 401.1,872.8 411.3,868.1 421.4,863.8 431.5,859.3 441.6,854.8 451.7,850.7 461.8,846.4 472.0,842.1 482.1,837.7 492.2,833.1 502.3,828.8 512.4,824.1 522.6,819.7 532.7,815.4 542.8,810.6 552.9,806.0 563.0,801.6 573.2,796.9 583.3,792.5 593.4,787.9 603.5,783.4 613.6,778.8 623.8,774.3 633.9,769.8 644.0,765.2 654.1,760.4" fill="none" stroke="rgba(0,0,0,0.13)" stroke-width="2.00" stroke-linejoin="round" />
<polyline points="117.8,967.1 127.9,964.6 138.0,961.9 148.2,958.9 158.3,955.6 168.4,952.1 178.5,948.3 188.6,944.4 198.8,940.6 208.9,936.5 219.0,932.5 229.1,928.4 239.2,924.4 249.3,920.2 259.5,916.2 269.6,912.2 279.7,908.2 289.8,904.2 299.9,900.3 310.1,896.1 320.2,892.2 330.3,888.2 340.4,884.3 350.5,880.4 360.7,876.5 370.8,872.6 380.9,868.7 391.0,864.9 401.1,861.1 411.3,857.3 421.4,853.5 431.5,849.6 441.6,845.8 451.7,842.0 461.8,838.2 472.0,834.4 482.1,830.8 492.2,827.0 502.3,823.4 512.4,819.7 522.6,816.0 532.7,812.4 542.8,808.6 552.9,804.9 563.0,801.3 573.2,797.7 583.3,794.0 593.4,790.4 603.5,786.8 613.6,783.0 623.8,779.4 633.9,775.8 644.0,772.1 654.1,768.5" fill="none" stroke="rgba(0,0,0,0.13)" stroke-width="2.00" stroke-linejoin="round" />
<polyline points="117.8,967.1 127.9,964.6 138.0,962.0 148.2,959.2 158.3,955.9 168.4,952.5 178.5,948.9 188.6,945.1 198.8,941.2 208.9,937.3 219.0,933.3 229.1,929.3 239.2,925.4 249.3,921.5 259.5,917.4 269.6,913.4 279.7,909.4 289.8,905.4 299.9,901.4 310.1,897.6 320.2,893.6 330.3,889.7 340.4,885.8 350.5,881.9 360.7,878.0 370.8,874.2 380.9,870.3 391.0,866.5 401.1,862.7 411.3,858.9 421.4,854.9 431.5,851.1 441.6,847.3 451.7,843.6 461.8,839.8 472.0,836.1 482.1,832.4 492.2,828.4 502.3,824.6 512.4,820.9 522.6,817.2 532.7,813.5 542.8,809.8 552.9,806.1 563.0,802.4 573.2,798.6 583.3,794.9 593.4,791.2 603.5,787.5 613.6,783.8 623.8,780.1 633.9,776.5 644.0,772.9 654.1,769.1" fill="none" stroke="rgba(0,0,0,0.13)" stroke-width="2.00" stroke-linejoin="round" />
<polyline points="117.8,967.1 127.9,966.4 138.0,965.5 148.2,964.3 158.3,962.8 168.4,961.0 178.5,958.9 188.6,956.6 198.8,954.1 208.9,951.3 219.0,948.5 229.1,945.6 239.2,942.5 249.3,939.4 259.5,936.2 269.6,932.9 279.7,929.5 289.8,926.0 299.9,922.6 310.1,919.0 320.2,915.0 330.3,911.3 340.4,907.5 350.5,903.7 360.7,900.0 370.8,896.1 380.9,892.3 391.0,888.4 401.1,884.6 411.3,880.6 421.4,876.6 431.5,872.6 441.6,868.6 451.7,864.5 461.8,860.3 472.0,856.3 482.1,851.8 492.2,847.6 502.3,843.3 512.4,839.0 522.6,834.8 532.7,830.6 542.8,826.3 552.9,822.1 563.0,817.9 573.2,813.6 583.3,809.3 593.4,804.8 603.5,800.3 613.6,795.9 623.8,791.4 633.9,786.6 644.0,782.2 654.1,777.7" fill="none" stroke="rgba(0,0,0,0.13)" stroke-width="2.00" stroke-linejoin="round" />
<polyline points="117.8,967.1 123.3,962.6 127.9,957.4 129.0,956.2 138.0,955.8 148.2,955.3 158.3,952.6 168.4,948.5 173.5,946.1 178.5,946.1 188.6,946.0 198.8,945.7 208.9,944.9 219.0,944.3 229.1,942.5 239.2,938.9 249.3,935.6 259.5,932.3 269.6,928.8 279.7,925.2 289.8,921.8 299.9,918.3 310.1,914.7 320.2,911.0 330.3,907.4 340.4,903.6 350.5,900.0 360.7,896.3 370.8,892.4 380.9,888.6 391.0,884.9 401.1,881.1 411.3,877.2 421.4,873.4 431.5,869.6 441.6,865.9 451.7,862.0 461.8,858.2 472.0,854.4 482.1,850.6 492.2,846.7 502.3,842.9 512.4,839.0 522.6,835.0 532.7,830.7 542.8,826.8 552.9,822.9 563.0,819.1 573.2,815.0 583.3,811.1 593.4,807.2 603.5,803.1 613.6,799.1 623.8,795.2 633.9,791.1 644.0,787.1 654.1,782.9" fill="none" stroke="rgba(0,0,0,0.13)" stroke-width="2.00" stroke-linejoin="round" />
<polyline points="117.8,967.1 123.3,962.0 127.9,956.0 129.0,954.7 138.0,954.2 148.2,953.6 158.3,950.6 168.4,945.8 173.5,943.1 178.5,943.6 188.6,944.3 198.8,944.7 208.9,945.1 219.0,945.3 229.1,943.9 239.2,940.8 249.3,937.6 259.5,934.4 269.6,931.1 279.7,927.6 289.8,924.3 299.9,920.9 310.1,917.4 320.2,913.8 330.3,910.3 340.4,906.8 350.5,903.3 360.7,899.6 370.8,896.1 380.9,892.5 391.0,888.9 401.1,885.3 411.3,881.8 421.4,878.2 431.5,874.4 441.6,870.8 451.7,866.7 461.8,863.0 472.0,859.2 482.1,855.4 492.2,851.5 502.3,847.8 512.4,843.9 522.6,840.1 532.7,836.2 542.8,832.3 552.9,828.6 563.0,824.7 573.2,820.6 583.3,816.7 593.4,812.7 603.5,808.8 613.6,804.9 623.8,800.8 633.9,797.0 644.0,792.9 654.1,789.0" fill="none" stroke="rgba(0,0,0,0.13)" stroke-width="2.00" stroke-linejoin="round" />
<polyline points="117.8,967.1 127.9,966.2 138.0,965.0 148.2,963.5 158.3,961.6 168.4,959.5 178.5,957.1 188.6,954.6 198.8,951.9 208.9,949.1 219.0,946.2 229.1,943.2 239.2,940.1 249.3,937.0 259.5,933.9 269.6,930.8 279.7,927.6 289.8,924.4 299.9,921.1 310.1,917.9 320.2,914.6 330.3,911.3 340.4,908.0 350.5,904.7 360.7,901.4 370.8,898.1 380.9,894.8 391.0,891.4 401.1,888.1 411.3,884.7 421.4,881.4 431.5,878.0 441.6,874.7 451.7,871.3 461.8,867.9 472.0,864.5 482.1,861.1 492.2,857.7 502.3,854.3 512.4,850.9 522.6,847.5 532.7,844.1 542.8,840.6 552.9,837.2 563.0,833.8 573.2,830.3 583.3,826.9 593.4,823.5 603.5,820.0 613.6,816.6 623.8,813.1 633.9,809.6 644.0,806.2 654.1,802.7" fill="none" stroke="rgba(0,0,0,0.13)" stroke-width="2.00" stroke-linejoin="round" />
<polyline points="117.8,967.1 127.9,966.3 138.0,965.3 148.2,963.9 158.3,962.3 168.4,960.4 178.5,958.3 188.6,955.9 198.8,953.5 208.9,950.9 219.0,948.2 229.1,945.4 239.2,942.6 249.3,939.7 259.5,936.8 269.6,933.8 279.7,930.7 289.8,927.7 299.9,924.6 310.1,921.5 320.2,918.4 330.3,915.2 340.4,912.0 350.5,908.9 360.7,905.6 370.8,902.4 380.9,899.2 391.0,895.9 401.1,892.7 411.3,889.4 421.4,886.1 431.5,882.8 441.6,879.4 451.7,876.1 461.8,872.8 472.0,869.4 482.1,866.0 492.2,862.7 502.3,859.3 512.4,855.9 522.6,852.5 532.7,849.1 542.8,845.6 552.9,842.2 563.0,838.8 573.2,835.3 583.3,831.9 593.4,828.4 603.5,824.9 613.6,821.4 623.8,818.0 633.9,814.5 644.0,811.0 654.1,807.4" fill="none" stroke="rgba(0,0,0,0.13)" stroke-width="2.00" stroke-linejoin="round" />
<polyline points="117.8,967.1 127.9,966.4 138.0,965.6 148.2,964.6 158.3,963.4 168.4,961.9 178.5,960.1 188.6,958.2 198.8,956.1 208.9,953.8 219.0,951.5 229.1,949.0 239.2,946.4 249.3,943.7 259.5,941.0 269.6,938.2 279.7,935.3 289.8,932.4 299.9,929.5 310.1,926.5 320.2,923.5 330.3,920.4 340.4,917.3 350.5,914.2 360.7,911.0 370.8,907.8 380.9,904.6 391.0,901.4 401.1,898.1 411.3,894.8 421.4,891.5 431.5,888.2 441.6,884.8 451.7,881.4 461.8,878.0 472.0,874.6 482.1,871.2 492.2,867.8 502.3,864.3 512.4,860.8 522.6,857.3 532.7,853.8 542.8,850.2 552.9,846.7 563.0,843.1 573.2,839.5 583.3,835.9 593.4,832.3 603.5,828.7 613.6,825.1 623.8,821.4 633.9,817.7 644.0,814.1 654.1,810.4" fill="none" stroke="rgba(0,0,0,0.13)" stroke-width="2.00" stroke-linejoin="round" />
<polyline points="117.8,967.1 123.3,963.0 127.9,958.1 129.0,957.0 138.0,956.6 148.2,956.2 158.3,953.7 168.4,949.9 173.5,947.7 178.5,948.0 188.6,948.4 198.8,948.7 208.9,948.8 219.0,948.8 229.1,947.5 239.2,944.8 249.3,942.1 259.5,939.3 269.6,936.4 279.7,933.6 289.8,930.6 299.9,927.7 310.1,924.7 320.2,921.7 330.3,918.7 340.4,915.6 350.5,912.6 360.7,909.5 370.8,906.4 380.9,903.2 391.0,900.1 401.1,897.0 411.3,893.8 421.4,890.6 431.5,887.4 441.6,884.2 451.7,881.0 461.8,877.8 472.0,874.5 482.1,871.3 492.2,868.0 502.3,864.8 512.4,861.5 522.6,858.2 532.7,854.9 542.8,851.6 552.9,848.3 563.0,845.0 573.2,841.6 583.3,838.3 593.4,834.9 603.5,831.6 613.6,828.2 623.8,824.8 633.9,821.5 644.0,818.1 654.1,814.7" fill="none" stroke="rgba(0,0,0,0.13)" stroke-width="2.00" stroke-linejoin="round" />
<polyline points="117.8,967.1 127.9,966.4 138.0,965.7 148.2,964.8 158.3,963.6 168.4,962.2 178.5,960.6 188.6,958.9 198.8,956.9 208.9,954.8 219.0,952.6 229.1,950.3 239.2,947.8 249.3,945.3 259.5,942.8 269.6,940.1 279.7,937.4 289.8,934.7 299.9,931.9 310.1,929.1 320.2,926.2 330.3,923.3 340.4,920.3 350.5,917.3 360.7,914.3 370.8,911.3 380.9,908.2 391.0,905.1 401.1,902.0 411.3,898.8 421.4,895.6 431.5,892.4 441.6,889.2 451.7,885.9 461.8,882.6 472.0,879.3 482.1,876.0 492.2,872.7 502.3,869.3 512.4,865.9 522.6,862.5 532.7,859.1 542.8,855.7 552.9,852.2 563.0,848.8 573.2,845.3 583.3,841.8 593.4,838.3 603.5,834.7 613.6,831.2 623.8,827.6 633.9,824.0 644.0,820.4 654.1,816.8" fill="none" stroke="rgba(0,0,0,0.13)" stroke-width="2.00" stroke-linejoin="round" />
<polyline points="117.8,967.1 127.9,966.4 138.0,965.7 148.2,964.8 158.3,963.7 168.4,962.4 178.5,960.8 188.6,959.1 198.8,957.2 208.9,955.2 219.0,953.1 229.1,950.9 239.2,948.6 249.3,946.2 259.5,943.8 269.6,941.3 279.7,938.7 289.8,936.1 299.9,933.5 310.1,930.8 320.2,928.1 330.3,925.4 340.4,922.6 350.5,919.8 360.7,916.9 370.8,914.1 380.9,911.2 391.0,908.3 401.1,905.4 411.3,902.4 421.4,899.5 431.5,896.5 441.6,893.5 451.7,890.4 461.8,887.4 472.0,884.3 482.1,881.2 492.2,878.2 502.3,875.0 512.4,871.9 522.6,868.8 532.7,865.6 542.8,862.4 552.9,859.3 563.0,856.1 573.2,852.8 583.3,849.6 593.4,846.4 603.5,843.1 613.6,839.9 623.8,836.6 633.9,833.3 644.0,830.0 654.1,826.7" fill="none" stroke="rgba(0,0,0,0.13)" stroke-width="2.00" stroke-linejoin="round" />
<polyline points="117.8,967.1 127.9,966.2 138.0,964.9 148.2,963.4 158.3,961.6 168.4,959.6 178.5,957.4 188.6,955.2 198.8,952.8 208.9,950.3 219.0,947.8 229.1,945.2 239.2,942.6 249.3,940.0 259.5,937.4 269.6,934.7 279.7,932.1 289.8,929.4 299.9,926.7 310.1,924.1 320.2,921.4 330.3,918.7 340.4,916.1 350.5,913.4 360.7,910.8 370.8,908.1 380.9,905.5 391.0,902.8 401.1,900.2 411.3,897.5 421.4,894.9 431.5,892.2 441.6,889.6 451.7,887.0 461.8,884.3 472.0,881.7 482.1,879.1 492.2,876.5 502.3,873.8 512.4,871.2 522.6,868.6 532.7,866.0 542.8,863.4 552.9,860.8 563.0,858.2 573.2,855.6 583.3,853.0 593.4,850.3 603.5,847.7 613.6,845.2 623.8,842.6 633.9,840.0 644.0,837.4 654.1,834.8" fill="none" stroke="rgba(0,0,0,0.13)" stroke-width="2.00" stroke-linejoin="round" />
<polyline points="117.8,967.1 127.9,966.2 138.0,965.1 148.2,963.8 158.3,962.2 168.4,960.4 178.5,958.4 188.6,956.2 198.8,954.0 208.9,951.7 219.0,949.2 229.1,946.8 239.2,944.3 249.3,941.7 259.5,939.1 269.6,936.6 279.7,933.9 289.8,931.3 299.9,928.7 310.1,926.0 320.2,923.4 330.3,920.7 340.4,918.1 350.5,915.4 360.7,912.8 370.8,910.1 380.9,907.4 391.0,904.8 401.1,902.1 411.3,899.4 421.4,896.8 431.5,894.1 441.6,891.4 451.7,888.7 461.8,886.1 472.0,883.4 482.1,880.7 492.2,878.1 502.3,875.4 512.4,872.7 522.6,870.1 532.7,867.4 542.8,864.7 552.9,862.0 563.0,859.4 573.2,856.7 583.3,854.0 593.4,851.4 603.5,848.7 613.6,846.0 623.8,843.3 633.9,840.7 644.0,838.0 654.1,835.3" fill="none" stroke="rgba(0,0,0,0.13)" stroke-width="2.00" stroke-linejoin="round" />
<polyline points="117.8,967.1 127.9,966.1 138.0,964.9 148.2,963.4 158.3,961.7 168.4,959.7 178.5,957.6 188.6,955.4 198.8,953.0 208.9,950.6 219.0,948.2 229.1,945.7 239.2,943.2 249.3,940.6 259.5,938.1 269.6,935.5 279.7,932.9 289.8,930.3 299.9,927.8 310.1,925.2 320.2,922.6 330.3,920.0 340.4,917.5 350.5,914.9 360.7,912.3 370.8,909.7 380.9,907.2 391.0,904.6 401.1,902.1 411.3,899.5 421.4,897.0 431.5,894.4 441.6,891.9 451.7,889.4 461.8,886.8 472.0,884.3 482.1,881.8 492.2,879.2 502.3,876.7 512.4,874.2 522.6,871.7 532.7,869.2 542.8,866.7 552.9,864.2 563.0,861.7 573.2,859.2 583.3,856.7 593.4,854.2 603.5,851.7 613.6,849.2 623.8,846.7 633.9,844.2 644.0,841.7 654.1,839.2" fill="none" stroke="rgba(0,0,0,0.13)" stroke-width="2.00" stroke-linejoin="round" />
<polyline points="117.8,967.1 127.9,966.2 138.0,965.1 148.2,963.7 158.3,962.1 168.4,960.3 178.5,958.3 188.6,956.2 198.8,954.0 208.9,951.7 219.0,949.3 229.1,946.9 239.2,944.5 249.3,942.0 259.5,939.5 269.6,937.0 279.7,934.5 289.8,931.9 299.9,929.4 310.1,926.9 320.2,924.3 330.3,921.8 340.4,919.2 350.5,916.7 360.7,914.2 370.8,911.6 380.9,909.1 391.0,906.5 401.1,904.0 411.3,901.5 421.4,898.9 431.5,896.4 441.6,893.9 451.7,891.3 461.8,888.8 472.0,886.3 482.1,883.8 492.2,881.2 502.3,878.7 512.4,876.2 522.6,873.7 532.7,871.2 542.8,868.6 552.9,866.1 563.0,863.6 573.2,861.1 583.3,858.6 593.4,856.1 603.5,853.6 613.6,851.1 623.8,848.6 633.9,846.1 644.0,843.5 654.1,841.0" fill="none" stroke="rgba(0,0,0,0.13)" stroke-width="2.00" stroke-linejoin="round" />
<polyline points="117.8,967.1 127.9,966.2 138.0,965.2 148.2,963.9 158.3,962.4 168.4,960.7 178.5,958.8 188.6,956.8 198.8,954.7 208.9,952.5 219.0,950.2 229.1,947.8 239.2,945.5 249.3,943.0 259.5,940.6 269.6,938.1 279.7,935.6 289.8,933.1 299.9,930.6 310.1,928.1 320.2,925.6 330.3,923.1 340.4,920.5 350.5,918.0 360.7,915.5 370.8,912.9 380.9,910.4 391.0,907.8 401.1,905.3 411.3,902.7 421.4,900.2 431.5,897.7 441.6,895.1 451.7,892.6 461.8,890.0 472.0,887.5 482.1,884.9 492.2,882.4 502.3,879.8 512.4,877.3 522.6,874.7 532.7,872.2 542.8,869.6 552.9,867.1 563.0,864.5 573.2,862.0 583.3,859.4 593.4,856.9 603.5,854.3 613.6,851.8 623.8,849.2 633.9,846.7 644.0,844.2 654.1,841.6" fill="none" stroke="rgba(0,0,0,0.13)" stroke-width="2.00" stroke-linejoin="round" />
<polyline points="117.8,967.1 127.9,966.3 138.0,965.3 148.2,964.1 158.3,962.7 168.4,961.1 178.5,959.3 188.6,957.4 198.8,955.4 208.9,953.2 219.0,951.0 229.1,948.8 239.2,946.4 249.3,944.1 259.5,941.7 269.6,939.2 279.7,936.8 289.8,934.3 299.9,931.8 310.1,929.3 320.2,926.8 330.3,924.3 340.4,921.8 350.5,919.3 360.7,916.7 370.8,914.2 380.9,911.6 391.0,909.1 401.1,906.6 411.3,904.0 421.4,901.4 431.5,898.9 441.6,896.3 451.7,893.8 461.8,891.2 472.0,888.6 482.1,886.1 492.2,883.5 502.3,880.9 512.4,878.3 522.6,875.8 532.7,873.2 542.8,870.6 552.9,868.0 563.0,865.4 573.2,862.9 583.3,860.3 593.4,857.7 603.5,855.1 613.6,852.5 623.8,849.9 633.9,847.3 644.0,844.8 654.1,842.2" fill="none" stroke="rgba(0,0,0,0.13)" stroke-width="2.00" stroke-linejoin="round" />
<polyline points="117.8,967.1 127.9,965.1 138.0,963.3 148.2,961.5 158.3,959.7 168.4,957.7 178.5,955.7 188.6,953.6 198.8,951.4 208.9,949.1 219.0,946.9 229.1,944.6 239.2,942.2 249.3,939.9 259.5,937.6 269.6,935.3 279.7,932.9 289.8,930.6 299.9,928.3 310.1,926.0 320.2,923.7 330.3,921.4 340.4,919.1 350.5,916.8 360.7,914.6 370.8,912.3 380.9,910.1 391.0,907.9 401.1,905.6 411.3,903.4 421.4,901.2 431.5,899.0 441.6,896.8 451.7,894.6 461.8,892.4 472.0,890.3 482.1,888.1 492.2,885.9 502.3,883.8 512.4,881.7 522.6,879.5 532.7,877.4 542.8,875.3 552.9,873.1 563.0,871.0 573.2,868.9 583.3,866.8 593.4,864.7 603.5,862.6 613.6,860.5 623.8,858.4 633.9,856.4 644.0,854.3 654.1,852.2" fill="none" stroke="rgba(0,0,0,0.13)" stroke-width="2.00" stroke-linejoin="round" />
<polyline points="117.8,967.1 127.9,966.3 138.0,965.3 148.2,964.2 158.3,962.8 168.4,961.3 178.5,959.6 188.6,957.8 198.8,955.9 208.9,953.9 219.0,951.8 229.1,949.7 239.2,947.6 249.3,945.4 259.5,943.2 269.6,941.0 279.7,938.8 289.8,936.5 299.9,934.3 310.1,932.0 320.2,929.8 330.3,927.5 340.4,925.2 350.5,922.9 360.7,920.7 370.8,918.4 380.9,916.1 391.0,913.8 401.1,911.5 411.3,909.3 421.4,907.0 431.5,904.7 441.6,902.4 451.7,900.1 461.8,897.8 472.0,895.6 482.1,893.3 492.2,891.0 502.3,888.7 512.4,886.4 522.6,884.1 532.7,881.9 542.8,879.6 552.9,877.3 563.0,875.0 573.2,872.7 583.3,870.4 593.4,868.1 603.5,865.9 613.6,863.6 623.8,861.3 633.9,859.0 644.0,856.7 654.1,854.4" fill="none" stroke="rgba(0,0,0,0.13)" stroke-width="2.00" stroke-linejoin="round" />
<polyline points="130.1,967.4 140.9,966.7 151.6,964.9 162.4,959.4 171.7,953.0 182.5,945.3 193.2,938.5 202.5,932.5 211.7,927.5 222.5,922.1 233.3,917.0 242.5,912.4 251.8,907.0 262.6,900.2 273.3,893.8 285.7,886.5 301.6,877.4 317.0,869.2 332.4,862.0 347.8,855.1 363.3,848.3 378.7,841.5 394.1,834.6 409.4,826.4 424.9,817.8 440.3,810.9 455.7,805.5 471.1,800.5 481.6,797.1 497.0,789.3 512.4,781.6 527.8,774.4 543.2,768.4 558.6,763.0 574.1,757.5 589.5,751.9 604.9,746.5 620.3,741.1 635.8,736.0 655.7,730.7" fill="none" stroke="#ff0000" stroke-width="2.40" stroke-linejoin="round" />
</g>
<rect x="92.50" y="548.00" width="589.70" height="439.10" fill="none" stroke="#000" stroke-width="1.40"/>
<line x1="117.80" y1="987.10" x2="117.80" y2="993.00" stroke="#000" stroke-width="1.40"/>
<line x1="218.61" y1="987.10" x2="218.61" y2="993.00" stroke="#000" stroke-width="1.40"/>
<line x1="319.42" y1="987.10" x2="319.42" y2="993.00" stroke="#000" stroke-width="1.40"/>
<line x1="420.23" y1="987.10" x2="420.23" y2="993.00" stroke="#000" stroke-width="1.40"/>
<line x1="521.04" y1="987.10" x2="521.04" y2="993.00" stroke="#000" stroke-width="1.40"/>
<line x1="621.85" y1="987.10" x2="621.85" y2="993.00" stroke="#000" stroke-width="1.40"/>
<line x1="86.60" y1="967.10" x2="92.50" y2="967.10" stroke="#000" stroke-width="1.40"/>
<line x1="86.60" y1="897.38" x2="92.50" y2="897.38" stroke="#000" stroke-width="1.40"/>
<line x1="86.60" y1="827.66" x2="92.50" y2="827.66" stroke="#000" stroke-width="1.40"/>
<line x1="86.60" y1="757.94" x2="92.50" y2="757.94" stroke="#000" stroke-width="1.40"/>
<line x1="86.60" y1="688.22" x2="92.50" y2="688.22" stroke="#000" stroke-width="1.40"/>
<line x1="86.60" y1="618.50" x2="92.50" y2="618.50" stroke="#000" stroke-width="1.40"/>
<line x1="86.60" y1="548.78" x2="92.50" y2="548.78" stroke="#000" stroke-width="1.40"/>
<rect x="102.20" y="554.60" width="36.20" height="22.50" fill="#e9ebf5"/>
<rect x="140.40" y="554.60" width="56.80" height="22.50" fill="#e9ebf5"/>
<rect x="102.20" y="579.20" width="36.20" height="22.50" fill="#e9ebf5"/>
<rect x="140.40" y="579.20" width="56.80" height="22.50" fill="#e9ebf5"/>
<g>
<polyline points="814.8,967.0 826.2,950.7 837.8,943.1 846.9,939.4 857.0,935.2 884.0,923.7 907.1,914.6 926.4,902.9 945.8,892.2 966.9,878.7 986.1,861.6 997.8,849.9 1018.9,834.6 1030.5,825.6 1055.5,808.5 1076.9,793.2 1087.0,787.0 1097.2,779.4 1107.2,772.6 1117.3,764.8 1127.5,757.0 1137.6,751.4 1147.7,746.1 1157.8,737.3 1167.9,731.0 1178.0,724.7 1188.1,715.3 1198.2,708.1 1208.3,699.4 1218.4,692.1 1228.5,684.2 1238.6,678.3 1248.7,670.4 1258.8,661.6 1268.9,654.1 1279.0,645.8 1289.1,637.7 1299.2,632.2 1309.3,623.8 1319.4,616.0 1329.5,609.5 1339.6,604.1 1349.7,595.2 1351.2,593.9" fill="none" stroke="rgba(0,0,0,0.13)" stroke-width="2.00" stroke-linejoin="round" />
<polyline points="814.8,967.0 826.9,966.0 841.9,960.8 860.1,951.9 881.4,936.0 902.8,921.6 922.5,915.6 941.9,903.9 955.3,896.7 961.1,885.9 966.9,880.4 997.8,863.4 1018.9,851.7 1076.9,813.9 1087.1,805.8 1097.3,800.0 1107.4,793.7 1117.6,786.7 1127.7,778.8 1137.9,773.2 1148.0,767.2 1158.2,760.0 1168.3,752.9 1178.5,745.1 1188.7,736.9 1198.8,730.2 1209.0,724.1 1219.1,716.4 1229.3,710.8 1239.4,703.5 1249.6,696.3 1259.8,688.9 1269.9,683.7 1280.1,677.3 1290.2,671.0 1300.4,664.1 1310.5,656.3 1320.7,649.3 1330.8,642.6 1341.0,635.6 1351.2,629.1" fill="none" stroke="rgba(0,0,0,0.13)" stroke-width="2.00" stroke-linejoin="round" />
<polyline points="814.8,967.0 824.9,965.8 835.0,963.2 845.2,960.3 855.3,957.2 865.4,952.7 875.5,949.1 885.6,945.2 895.8,935.9 905.9,929.0 916.0,922.9 926.1,914.4 936.2,904.5 946.3,899.5 956.5,895.0 966.6,889.1 976.7,882.9 986.8,876.7 996.9,870.7 1007.1,862.9 1017.2,855.5 1027.3,849.9 1037.4,844.3 1047.5,837.2 1057.7,829.7 1067.8,821.9 1077.9,817.3 1088.0,809.6 1098.1,801.7 1108.3,796.8 1118.4,789.5 1128.5,784.6 1138.6,776.7 1148.7,771.7 1158.8,762.4 1169.0,755.1 1179.1,748.5 1189.2,743.2 1199.3,738.1 1209.4,733.1 1219.6,727.7 1229.7,719.7 1239.8,714.0 1249.9,708.6 1260.0,701.0 1270.2,696.0 1280.3,690.6 1290.4,683.3 1300.5,677.6 1310.6,672.6 1320.8,667.0 1330.9,661.1 1341.0,653.1 1351.1,646.4" fill="none" stroke="rgba(0,0,0,0.13)" stroke-width="2.00" stroke-linejoin="round" />
<polyline points="814.8,967.0 824.9,966.0 835.0,963.5 845.2,961.1 855.3,957.2 865.4,953.9 875.5,948.7 885.6,944.3 895.8,940.6 905.9,936.3 916.0,931.7 926.1,926.1 936.2,921.6 946.3,917.4 956.5,911.7 966.6,905.7 976.7,898.8 986.8,894.6 996.9,889.1 1007.1,884.4 1017.2,878.5 1027.3,873.2 1037.4,865.9 1047.5,859.6 1057.7,851.0 1067.8,846.8 1077.9,840.4 1088.0,836.1 1098.1,830.4 1108.3,825.3 1118.4,820.8 1128.5,814.3 1138.6,807.8 1148.7,801.1 1158.8,795.8 1169.0,788.8 1179.1,783.3 1189.2,776.4 1199.3,770.2 1209.4,764.2 1219.6,759.8 1229.7,752.4 1239.8,745.9 1249.9,739.4 1260.0,733.8 1270.2,729.4 1280.3,725.1 1290.4,719.4 1300.5,713.0 1310.6,706.9 1320.8,698.0 1330.9,692.8 1341.0,688.0 1351.1,681.0" fill="none" stroke="rgba(0,0,0,0.13)" stroke-width="2.00" stroke-linejoin="round" />
<polyline points="814.8,967.0 824.9,965.8 835.0,963.9 845.2,961.5 855.3,957.7 865.4,953.2 875.5,949.0 885.6,945.4 895.8,940.1 905.9,935.0 916.0,930.8 926.1,926.0 936.2,921.8 946.3,916.6 956.5,912.1 966.6,906.0 976.7,899.0 986.8,890.0 996.9,884.5 1007.1,880.0 1017.2,876.1 1027.3,868.2 1037.4,862.4 1047.5,855.2 1057.7,849.9 1067.8,844.6 1077.9,838.8 1088.0,833.4 1098.1,828.5 1108.3,824.7 1118.4,819.2 1128.5,814.8 1138.6,809.3 1148.7,804.1 1158.8,799.4 1169.0,793.5 1179.1,787.5 1189.2,783.4 1199.3,778.2 1209.4,773.5 1219.6,767.6 1229.7,761.6 1239.8,756.3 1249.9,750.9 1260.0,745.6 1270.2,741.3 1280.3,735.3 1290.4,730.2 1300.5,725.8 1310.6,720.0 1320.8,716.1 1330.9,711.0 1341.0,703.1 1351.1,697.5" fill="none" stroke="rgba(0,0,0,0.13)" stroke-width="2.00" stroke-linejoin="round" />
<polyline points="814.8,967.0 824.9,965.8 835.0,964.3 845.2,962.5 855.3,959.7 865.4,955.9 875.5,951.6 885.6,946.8 895.8,943.3 905.9,939.5 916.0,934.7 926.1,929.3 936.2,925.1 946.3,919.5 956.5,915.5 966.6,909.4 976.7,904.4 986.8,899.3 996.9,890.9 1007.1,884.7 1017.2,880.0 1027.3,874.8 1037.4,869.2 1047.5,864.1 1057.7,857.9 1067.8,853.4 1077.9,849.3 1088.0,843.4 1098.1,838.4 1108.3,834.1 1118.4,827.9 1128.5,818.7 1138.6,814.4 1148.7,808.8 1158.8,804.1 1169.0,800.0 1179.1,795.9 1189.2,791.4 1199.3,786.2 1209.4,781.4 1219.6,776.2 1229.7,771.9 1239.8,766.4 1249.9,760.3 1260.0,754.2 1270.2,748.4 1280.3,742.2 1290.4,737.5 1300.5,733.1 1310.6,726.9 1320.8,722.5 1330.9,717.9 1341.0,711.9 1351.1,705.9" fill="none" stroke="rgba(0,0,0,0.13)" stroke-width="2.00" stroke-linejoin="round" />
<polyline points="814.8,967.0 820.3,962.4 824.9,957.2 826.0,955.9 835.0,955.5 845.2,955.0 855.3,952.3 865.4,948.1 870.5,945.6 875.5,944.5 885.6,942.6 895.8,938.5 905.9,935.7 916.0,932.8 926.1,929.8 936.2,924.8 946.3,919.6 956.5,916.1 966.6,911.7 976.7,907.7 986.8,903.2 996.9,896.2 1007.1,891.4 1017.2,887.6 1027.3,882.8 1037.4,879.0 1047.5,872.2 1057.7,867.1 1067.8,862.3 1077.9,857.7 1088.0,853.1 1098.1,847.9 1108.3,844.0 1118.4,839.2 1128.5,834.3 1138.6,829.2 1148.7,824.5 1158.8,819.7 1169.0,815.0 1179.1,811.0 1189.2,807.6 1199.3,803.0 1209.4,799.2 1219.6,794.6 1229.7,790.0 1239.8,785.7 1249.9,780.5 1260.0,775.9 1270.2,768.4 1280.3,763.9 1290.4,760.1 1300.5,756.7 1310.6,752.7 1320.8,748.9 1330.9,744.6 1341.0,739.5 1351.1,734.3" fill="none" stroke="rgba(0,0,0,0.13)" stroke-width="2.00" stroke-linejoin="round" />
<polyline points="814.8,967.0 824.9,965.2 835.0,963.3 845.2,960.9 855.3,957.7 865.4,953.8 875.5,949.3 885.6,944.5 895.8,939.5 905.9,934.3 916.0,929.3 926.1,924.5 936.2,919.9 946.3,915.3 956.5,910.8 966.6,906.4 976.7,902.2 986.8,898.1 996.9,894.1 1007.1,890.1 1017.2,886.3 1027.3,882.7 1037.4,879.2 1047.5,875.8 1057.7,872.4 1067.8,868.8 1077.9,865.0 1088.0,861.1 1098.1,857.2 1108.3,853.3 1118.4,849.6 1128.5,845.9 1138.6,842.4 1148.7,838.8 1158.8,835.3 1169.0,831.8 1179.1,828.3 1189.2,824.7 1199.3,821.2 1209.4,817.6 1219.6,814.0 1229.7,810.3 1239.8,806.6 1249.9,802.8 1260.0,798.8 1270.2,794.6 1280.3,790.3 1290.4,785.9 1300.5,781.4 1310.6,776.8 1320.8,772.1 1330.9,767.3 1341.0,762.6 1351.1,757.9" fill="none" stroke="rgba(0,0,0,0.13)" stroke-width="2.00" stroke-linejoin="round" />
<polyline points="814.8,967.0 824.9,965.2 835.0,963.3 845.2,960.9 855.3,957.7 865.4,953.8 875.5,949.3 885.6,944.5 895.8,939.5 905.9,934.3 916.0,929.3 926.1,924.5 936.2,919.9 946.3,915.3 956.5,910.8 966.6,906.4 976.7,902.2 986.8,898.1 996.9,894.1 1007.1,890.1 1017.2,886.3 1027.3,882.7 1037.4,879.2 1047.5,875.8 1057.7,872.4 1067.8,868.8 1077.9,865.0 1088.0,861.1 1098.1,857.2 1108.3,853.3 1118.4,849.6 1128.5,845.9 1138.6,842.4 1148.7,838.8 1158.8,835.3 1169.0,831.8 1179.1,828.3 1189.2,824.7 1199.3,821.2 1209.4,817.6 1219.6,814.0 1229.7,810.3 1239.8,806.6 1249.9,802.8 1260.0,799.1 1270.2,795.3 1280.3,791.5 1290.4,787.7 1300.5,783.7 1310.6,779.5 1320.8,775.1 1330.9,770.7 1341.0,766.3 1351.1,761.9" fill="none" stroke="rgba(0,0,0,0.13)" stroke-width="2.00" stroke-linejoin="round" />
<polyline points="814.8,967.0 824.9,966.2 835.0,965.0 845.2,963.4 855.3,961.5 865.4,959.3 875.5,956.8 885.6,954.1 895.8,951.2 905.9,947.9 916.0,944.8 926.1,941.4 936.2,938.0 946.3,934.6 956.5,931.1 966.6,927.3 976.7,923.7 986.8,920.1 996.9,916.3 1007.1,912.4 1017.2,908.6 1027.3,904.5 1037.4,900.5 1047.5,896.6 1057.7,892.7 1067.8,888.6 1077.9,884.6 1088.0,880.6 1098.1,876.4 1108.3,872.5 1118.4,868.5 1128.5,864.2 1138.6,860.2 1148.7,856.1 1158.8,851.7 1169.0,847.5 1179.1,843.3 1189.2,839.2 1199.3,835.2 1209.4,830.8 1219.6,826.7 1229.7,822.3 1239.8,818.0 1249.9,813.4 1260.0,809.0 1270.2,804.5 1280.3,799.9 1290.4,795.4 1300.5,791.0 1310.6,786.7 1320.8,782.4 1330.9,778.2 1341.0,773.7 1351.1,769.4" fill="none" stroke="rgba(0,0,0,0.13)" stroke-width="2.00" stroke-linejoin="round" />
<polyline points="814.8,967.0 824.9,966.3 835.0,965.2 845.2,963.7 855.3,962.0 865.4,959.8 875.5,957.3 885.6,954.8 895.8,951.9 905.9,948.8 916.0,945.7 926.1,942.5 936.2,939.2 946.3,935.9 956.5,932.3 966.6,928.6 976.7,924.9 986.8,921.2 996.9,917.6 1007.1,913.8 1017.2,910.2 1027.3,906.2 1037.4,902.6 1047.5,898.8 1057.7,895.0 1067.8,890.9 1077.9,887.0 1088.0,882.9 1098.1,879.0 1108.3,874.5 1118.4,870.5 1128.5,866.3 1138.6,862.2 1148.7,858.3 1158.8,854.3 1169.0,850.3 1179.1,846.2 1189.2,841.9 1199.3,837.9 1209.4,833.5 1219.6,829.4 1229.7,825.3 1239.8,820.9 1249.9,816.6 1260.0,812.4 1270.2,808.1 1280.3,804.0 1290.4,799.7 1300.5,795.4 1310.6,791.2 1320.8,787.0 1330.9,782.8 1341.0,778.4 1351.1,774.0" fill="none" stroke="rgba(0,0,0,0.13)" stroke-width="2.00" stroke-linejoin="round" />
<polyline points="814.8,967.0 824.9,964.7 835.0,962.1 845.2,959.3 855.3,956.2 865.4,952.9 875.5,949.4 885.6,945.8 895.8,942.2 905.9,938.5 916.0,934.7 926.1,930.9 936.2,927.2 946.3,923.2 956.5,919.5 966.6,915.8 976.7,912.0 986.8,908.3 996.9,904.6 1007.1,900.7 1017.2,897.0 1027.3,893.3 1037.4,889.7 1047.5,886.0 1057.7,882.4 1067.8,878.8 1077.9,875.1 1088.0,871.6 1098.1,868.0 1108.3,864.5 1118.4,860.9 1128.5,857.3 1138.6,853.7 1148.7,850.2 1158.8,846.6 1169.0,843.1 1179.1,839.7 1189.2,836.2 1199.3,832.8 1209.4,829.4 1219.6,825.9 1229.7,822.5 1239.8,819.0 1249.9,815.6 1260.0,812.2 1270.2,808.8 1280.3,805.4 1290.4,802.0 1300.5,798.7 1310.6,795.1 1320.8,791.7 1330.9,788.4 1341.0,784.9 1351.1,781.6" fill="none" stroke="rgba(0,0,0,0.13)" stroke-width="2.00" stroke-linejoin="round" />
<polyline points="814.8,967.0 824.9,964.7 835.0,962.3 845.2,959.6 855.3,956.5 865.4,953.3 875.5,950.0 885.6,946.4 895.8,942.8 905.9,939.1 916.0,935.4 926.1,931.7 936.2,928.1 946.3,924.4 956.5,920.6 966.6,916.9 976.7,913.1 986.8,909.4 996.9,905.7 1007.1,902.1 1017.2,898.4 1027.3,894.8 1037.4,891.1 1047.5,887.5 1057.7,883.8 1067.8,880.2 1077.9,876.6 1088.0,873.0 1098.1,869.5 1108.3,866.0 1118.4,862.2 1128.5,858.7 1138.6,855.2 1148.7,851.7 1158.8,848.1 1169.0,844.7 1179.1,841.2 1189.2,837.5 1199.3,834.0 1209.4,830.5 1219.6,827.0 1229.7,823.6 1239.8,820.1 1249.9,816.6 1260.0,813.2 1270.2,809.7 1280.3,806.2 1290.4,802.7 1300.5,799.3 1310.6,795.9 1320.8,792.4 1330.9,789.1 1341.0,785.7 1351.1,782.1" fill="none" stroke="rgba(0,0,0,0.13)" stroke-width="2.00" stroke-linejoin="round" />
<polyline points="814.8,967.0 824.9,966.3 835.0,965.5 845.2,964.4 855.3,963.0 865.4,961.3 875.5,959.4 885.6,957.2 895.8,954.9 905.9,952.3 916.0,949.7 926.1,946.9 936.2,944.0 946.3,941.1 956.5,938.1 966.6,935.1 976.7,931.9 986.8,928.6 996.9,925.4 1007.1,922.1 1017.2,918.3 1027.3,914.9 1037.4,911.3 1047.5,907.8 1057.7,904.4 1067.8,900.7 1077.9,897.1 1088.0,893.5 1098.1,890.0 1108.3,886.2 1118.4,882.5 1128.5,878.8 1138.6,875.0 1148.7,871.2 1158.8,867.3 1169.0,863.5 1179.1,859.3 1189.2,855.5 1199.3,851.4 1209.4,847.4 1219.6,843.5 1229.7,839.5 1239.8,835.6 1249.9,831.6 1260.0,827.7 1270.2,823.7 1280.3,819.7 1290.4,815.4 1300.5,811.2 1310.6,807.1 1320.8,802.9 1330.9,798.5 1341.0,794.4 1351.1,790.2" fill="none" stroke="rgba(0,0,0,0.13)" stroke-width="2.00" stroke-linejoin="round" />
<polyline points="814.8,967.0 820.3,962.8 824.9,958.0 826.0,956.8 835.0,956.4 845.2,956.0 855.3,953.5 865.4,949.6 870.5,947.4 875.5,947.4 885.6,947.3 895.8,947.0 905.9,946.3 916.0,945.8 926.1,944.0 936.2,940.7 946.3,937.6 956.5,934.5 966.6,931.2 976.7,927.9 986.8,924.7 996.9,921.4 1007.1,918.1 1017.2,914.7 1027.3,911.3 1037.4,907.7 1047.5,904.3 1057.7,900.9 1067.8,897.3 1077.9,893.7 1088.0,890.3 1098.1,886.7 1108.3,883.1 1118.4,879.5 1128.5,875.9 1138.6,872.5 1148.7,868.9 1158.8,865.3 1169.0,861.7 1179.1,858.2 1189.2,854.6 1199.3,851.0 1209.4,847.4 1219.6,843.7 1229.7,839.7 1239.8,836.0 1249.9,832.4 1260.0,828.8 1270.2,825.0 1280.3,821.3 1290.4,817.7 1300.5,813.9 1310.6,810.2 1320.8,806.5 1330.9,802.7 1341.0,798.9 1351.1,795.0" fill="none" stroke="rgba(0,0,0,0.13)" stroke-width="2.00" stroke-linejoin="round" />
<polyline points="814.8,967.0 820.3,962.2 824.9,956.7 826.0,955.4 835.0,954.9 845.2,954.4 855.3,951.6 865.4,947.1 870.5,944.6 875.5,945.0 885.6,945.7 895.8,946.1 905.9,946.5 916.0,946.7 926.1,945.4 936.2,942.5 946.3,939.5 956.5,936.5 966.6,933.4 976.7,930.1 986.8,927.0 996.9,923.8 1007.1,920.6 1017.2,917.2 1027.3,914.0 1037.4,910.7 1047.5,907.4 1057.7,904.0 1067.8,900.7 1077.9,897.4 1088.0,894.0 1098.1,890.7 1108.3,887.3 1118.4,884.0 1128.5,880.4 1138.6,877.1 1148.7,873.2 1158.8,869.8 1169.0,866.2 1179.1,862.7 1189.2,859.1 1199.3,855.6 1209.4,852.0 1219.6,848.4 1229.7,844.8 1239.8,841.1 1249.9,837.6 1260.0,834.0 1270.2,830.2 1280.3,826.6 1290.4,822.8 1300.5,819.2 1310.6,815.5 1320.8,811.8 1330.9,808.2 1341.0,804.4 1351.1,800.7" fill="none" stroke="rgba(0,0,0,0.13)" stroke-width="2.00" stroke-linejoin="round" />
<polyline points="814.8,967.0 824.9,966.2 835.0,965.1 845.2,963.6 855.3,961.9 865.4,959.9 875.5,957.7 885.6,955.3 895.8,952.8 905.9,950.2 916.0,947.4 926.1,944.7 936.2,941.8 946.3,938.9 956.5,936.0 966.6,933.1 976.7,930.1 986.8,927.1 996.9,924.1 1007.1,921.0 1017.2,918.0 1027.3,914.9 1037.4,911.9 1047.5,908.8 1057.7,905.7 1067.8,902.6 1077.9,899.5 1088.0,896.4 1098.1,893.2 1108.3,890.1 1118.4,887.0 1128.5,883.8 1138.6,880.7 1148.7,877.5 1158.8,874.4 1169.0,871.2 1179.1,868.0 1189.2,864.9 1199.3,861.7 1209.4,858.5 1219.6,855.3 1229.7,852.1 1239.8,848.9 1249.9,845.7 1260.0,842.5 1270.2,839.3 1280.3,836.1 1290.4,832.9 1300.5,829.7 1310.6,826.4 1320.8,823.2 1330.9,820.0 1341.0,816.7 1351.1,813.5" fill="none" stroke="rgba(0,0,0,0.13)" stroke-width="2.00" stroke-linejoin="round" />
<polyline points="814.8,967.0 824.9,966.2 835.0,965.3 845.2,964.0 855.3,962.5 865.4,960.7 875.5,958.7 885.6,956.6 895.8,954.3 905.9,951.9 916.0,949.4 926.1,946.8 936.2,944.1 946.3,941.4 956.5,938.7 966.6,935.9 976.7,933.1 986.8,930.2 996.9,927.3 1007.1,924.4 1017.2,921.5 1027.3,918.6 1037.4,915.6 1047.5,912.6 1057.7,909.6 1067.8,906.6 1077.9,903.6 1088.0,900.5 1098.1,897.5 1108.3,894.4 1118.4,891.3 1128.5,888.3 1138.6,885.2 1148.7,882.0 1158.8,878.9 1169.0,875.8 1179.1,872.6 1189.2,869.5 1199.3,866.3 1209.4,863.2 1219.6,860.0 1229.7,856.8 1239.8,853.6 1249.9,850.4 1260.0,847.2 1270.2,844.0 1280.3,840.7 1290.4,837.5 1300.5,834.2 1310.6,831.0 1320.8,827.7 1330.9,824.5 1341.0,821.2 1351.1,817.9" fill="none" stroke="rgba(0,0,0,0.13)" stroke-width="2.00" stroke-linejoin="round" />
<polyline points="814.8,967.0 824.9,966.3 835.0,965.6 845.2,964.7 855.3,963.5 865.4,962.1 875.5,960.5 885.6,958.7 895.8,956.7 905.9,954.6 916.0,952.4 926.1,950.1 936.2,947.7 946.3,945.2 956.5,942.6 966.6,940.0 976.7,937.4 986.8,934.6 996.9,931.9 1007.1,929.1 1017.2,926.3 1027.3,923.4 1037.4,920.5 1047.5,917.6 1057.7,914.6 1067.8,911.7 1077.9,908.7 1088.0,905.6 1098.1,902.6 1108.3,899.5 1118.4,896.4 1128.5,893.3 1138.6,890.2 1148.7,887.0 1158.8,883.9 1169.0,880.7 1179.1,877.5 1189.2,874.2 1199.3,871.0 1209.4,867.7 1219.6,864.5 1229.7,861.2 1239.8,857.9 1249.9,854.6 1260.0,851.2 1270.2,847.9 1280.3,844.5 1290.4,841.2 1300.5,837.8 1310.6,834.4 1320.8,831.0 1330.9,827.5 1341.0,824.1 1351.1,820.7" fill="none" stroke="rgba(0,0,0,0.13)" stroke-width="2.00" stroke-linejoin="round" />
<polyline points="814.8,967.0 820.3,963.1 824.9,958.6 826.0,957.6 835.0,957.2 845.2,956.8 855.3,954.5 865.4,950.9 870.5,948.9 875.5,949.1 885.6,949.5 895.8,949.8 905.9,949.9 916.0,949.9 926.1,948.7 936.2,946.2 946.3,943.6 956.5,941.0 966.6,938.4 976.7,935.7 986.8,933.0 996.9,930.2 1007.1,927.4 1017.2,924.6 1027.3,921.8 1037.4,918.9 1047.5,916.1 1057.7,913.2 1067.8,910.3 1077.9,907.4 1088.0,904.4 1098.1,901.5 1108.3,898.5 1118.4,895.6 1128.5,892.6 1138.6,889.6 1148.7,886.6 1158.8,883.6 1169.0,880.6 1179.1,877.5 1189.2,874.5 1199.3,871.4 1209.4,868.4 1219.6,865.3 1229.7,862.2 1239.8,859.1 1249.9,856.0 1260.0,852.9 1270.2,849.8 1280.3,846.7 1290.4,843.6 1300.5,840.5 1310.6,837.3 1320.8,834.2 1330.9,831.0 1341.0,827.9 1351.1,824.7" fill="none" stroke="rgba(0,0,0,0.13)" stroke-width="2.00" stroke-linejoin="round" />
<polyline points="814.8,967.0 824.9,966.4 835.0,965.7 845.2,964.8 855.3,963.8 865.4,962.5 875.5,961.0 885.6,959.3 895.8,957.5 905.9,955.5 916.0,953.4 926.1,951.3 936.2,949.0 946.3,946.7 956.5,944.3 966.6,941.8 976.7,939.3 986.8,936.7 996.9,934.1 1007.1,931.5 1017.2,928.8 1027.3,926.1 1037.4,923.3 1047.5,920.5 1057.7,917.7 1067.8,914.9 1077.9,912.0 1088.0,909.1 1098.1,906.2 1108.3,903.2 1118.4,900.3 1128.5,897.3 1138.6,894.2 1148.7,891.2 1158.8,888.1 1169.0,885.1 1179.1,882.0 1189.2,878.8 1199.3,875.7 1209.4,872.6 1219.6,869.4 1229.7,866.2 1239.8,863.0 1249.9,859.8 1260.0,856.5 1270.2,853.3 1280.3,850.0 1290.4,846.7 1300.5,843.4 1310.6,840.1 1320.8,836.7 1330.9,833.4 1341.0,830.0 1351.1,826.6" fill="none" stroke="rgba(0,0,0,0.13)" stroke-width="2.00" stroke-linejoin="round" />
<polyline points="814.8,967.0 824.9,966.4 835.0,965.7 845.2,964.9 855.3,963.8 865.4,962.6 875.5,961.1 885.6,959.5 895.8,957.8 905.9,955.9 916.0,953.9 926.1,951.9 936.2,949.7 946.3,947.5 956.5,945.2 966.6,942.9 976.7,940.5 986.8,938.1 996.9,935.6 1007.1,933.1 1017.2,930.6 1027.3,928.0 1037.4,925.4 1047.5,922.8 1057.7,920.2 1067.8,917.5 1077.9,914.8 1088.0,912.1 1098.1,909.4 1108.3,906.6 1118.4,903.8 1128.5,901.0 1138.6,898.2 1148.7,895.4 1158.8,892.6 1169.0,889.7 1179.1,886.8 1189.2,883.9 1199.3,881.0 1209.4,878.1 1219.6,875.2 1229.7,872.2 1239.8,869.3 1249.9,866.3 1260.0,863.3 1270.2,860.3 1280.3,857.3 1290.4,854.3 1300.5,851.2 1310.6,848.2 1320.8,845.1 1330.9,842.1 1341.0,839.0 1351.1,835.9" fill="none" stroke="rgba(0,0,0,0.13)" stroke-width="2.00" stroke-linejoin="round" />
<polyline points="814.8,967.0 824.9,966.1 835.0,965.0 845.2,963.5 855.3,961.9 865.4,960.0 875.5,958.0 885.6,955.8 895.8,953.6 905.9,951.3 916.0,949.0 926.1,946.6 936.2,944.1 946.3,941.7 956.5,939.2 966.6,936.8 976.7,934.3 986.8,931.8 996.9,929.3 1007.1,926.8 1017.2,924.3 1027.3,921.8 1037.4,919.4 1047.5,916.9 1057.7,914.4 1067.8,911.9 1077.9,909.4 1088.0,907.0 1098.1,904.5 1108.3,902.0 1118.4,899.6 1128.5,897.1 1138.6,894.6 1148.7,892.2 1158.8,889.7 1169.0,887.3 1179.1,884.8 1189.2,882.4 1199.3,879.9 1209.4,877.5 1219.6,875.0 1229.7,872.6 1239.8,870.2 1249.9,867.7 1260.0,865.3 1270.2,862.8 1280.3,860.4 1290.4,858.0 1300.5,855.6 1310.6,853.1 1320.8,850.7 1330.9,848.3 1341.0,845.9 1351.1,843.4" fill="none" stroke="rgba(0,0,0,0.13)" stroke-width="2.00" stroke-linejoin="round" />
<polyline points="814.8,967.0 824.9,966.2 835.0,965.2 845.2,963.9 855.3,962.4 865.4,960.7 875.5,958.9 885.6,956.9 895.8,954.8 905.9,952.6 916.0,950.3 926.1,948.0 936.2,945.7 946.3,943.3 956.5,940.9 966.6,938.5 976.7,936.0 986.8,933.6 996.9,931.1 1007.1,928.7 1017.2,926.2 1027.3,923.7 1037.4,921.2 1047.5,918.7 1057.7,916.3 1067.8,913.8 1077.9,911.3 1088.0,908.8 1098.1,906.3 1108.3,903.8 1118.4,901.3 1128.5,898.8 1138.6,896.3 1148.7,893.8 1158.8,891.3 1169.0,888.9 1179.1,886.4 1189.2,883.9 1199.3,881.4 1209.4,878.9 1219.6,876.4 1229.7,873.9 1239.8,871.4 1249.9,868.9 1260.0,866.4 1270.2,863.9 1280.3,861.4 1290.4,858.9 1300.5,856.4 1310.6,853.9 1320.8,851.4 1330.9,848.9 1341.0,846.5 1351.1,844.0" fill="none" stroke="rgba(0,0,0,0.13)" stroke-width="2.00" stroke-linejoin="round" />
<polyline points="814.8,967.0 824.9,966.1 835.0,965.0 845.2,963.6 855.3,961.9 865.4,960.1 875.5,958.1 885.6,956.1 895.8,953.9 905.9,951.6 916.0,949.3 926.1,947.0 936.2,944.7 946.3,942.3 956.5,939.9 966.6,937.5 976.7,935.1 986.8,932.7 996.9,930.3 1007.1,927.9 1017.2,925.5 1027.3,923.0 1037.4,920.6 1047.5,918.2 1057.7,915.8 1067.8,913.4 1077.9,911.1 1088.0,908.7 1098.1,906.3 1108.3,903.9 1118.4,901.5 1128.5,899.2 1138.6,896.8 1148.7,894.4 1158.8,892.0 1169.0,889.7 1179.1,887.3 1189.2,885.0 1199.3,882.6 1209.4,880.3 1219.6,877.9 1229.7,875.6 1239.8,873.2 1249.9,870.9 1260.0,868.6 1270.2,866.2 1280.3,863.9 1290.4,861.6 1300.5,859.2 1310.6,856.9 1320.8,854.6 1330.9,852.2 1341.0,849.9 1351.1,847.6" fill="none" stroke="rgba(0,0,0,0.13)" stroke-width="2.00" stroke-linejoin="round" />
<polyline points="814.8,967.0 824.9,966.2 835.0,965.1 845.2,963.8 855.3,962.3 865.4,960.6 875.5,958.8 885.6,956.8 895.8,954.7 905.9,952.6 916.0,950.4 926.1,948.1 936.2,945.9 946.3,943.6 956.5,941.2 966.6,938.9 976.7,936.5 986.8,934.2 996.9,931.8 1007.1,929.4 1017.2,927.1 1027.3,924.7 1037.4,922.3 1047.5,919.9 1057.7,917.6 1067.8,915.2 1077.9,912.8 1088.0,910.5 1098.1,908.1 1108.3,905.7 1118.4,903.4 1128.5,901.0 1138.6,898.6 1148.7,896.3 1158.8,893.9 1169.0,891.5 1179.1,889.2 1189.2,886.8 1199.3,884.5 1209.4,882.1 1219.6,879.8 1229.7,877.4 1239.8,875.1 1249.9,872.7 1260.0,870.4 1270.2,868.0 1280.3,865.7 1290.4,863.3 1300.5,861.0 1310.6,858.7 1320.8,856.3 1330.9,854.0 1341.0,851.6 1351.1,849.3" fill="none" stroke="rgba(0,0,0,0.13)" stroke-width="2.00" stroke-linejoin="round" />
<polyline points="814.8,967.0 824.9,966.2 835.0,965.2 845.2,964.0 855.3,962.6 865.4,961.0 875.5,959.3 885.6,957.4 895.8,955.4 905.9,953.3 916.0,951.2 926.1,949.0 936.2,946.8 946.3,944.5 956.5,942.3 966.6,940.0 976.7,937.6 986.8,935.3 996.9,933.0 1007.1,930.6 1017.2,928.2 1027.3,925.9 1037.4,923.5 1047.5,921.2 1057.7,918.8 1067.8,916.4 1077.9,914.0 1088.0,911.7 1098.1,909.3 1108.3,906.9 1118.4,904.5 1128.5,902.2 1138.6,899.8 1148.7,897.4 1158.8,895.0 1169.0,892.6 1179.1,890.3 1189.2,887.9 1199.3,885.5 1209.4,883.1 1219.6,880.7 1229.7,878.4 1239.8,876.0 1249.9,873.6 1260.0,871.2 1270.2,868.9 1280.3,866.5 1290.4,864.1 1300.5,861.7 1310.6,859.3 1320.8,857.0 1330.9,854.6 1341.0,852.2 1351.1,849.8" fill="none" stroke="rgba(0,0,0,0.13)" stroke-width="2.00" stroke-linejoin="round" />
<polyline points="814.8,967.0 824.9,966.2 835.0,965.3 845.2,964.2 855.3,962.9 865.4,961.4 875.5,959.8 885.6,958.0 895.8,956.1 905.9,954.1 916.0,952.0 926.1,949.9 936.2,947.7 946.3,945.5 956.5,943.2 966.6,941.0 976.7,938.7 986.8,936.4 996.9,934.1 1007.1,931.7 1017.2,929.4 1027.3,927.1 1037.4,924.7 1047.5,922.3 1057.7,920.0 1067.8,917.6 1077.9,915.2 1088.0,912.8 1098.1,910.5 1108.3,908.1 1118.4,905.7 1128.5,903.3 1138.6,900.9 1148.7,898.5 1158.8,896.1 1169.0,893.7 1179.1,891.3 1189.2,888.9 1199.3,886.5 1209.4,884.1 1219.6,881.7 1229.7,879.3 1239.8,876.9 1249.9,874.5 1260.0,872.1 1270.2,869.7 1280.3,867.3 1290.4,864.8 1300.5,862.4 1310.6,860.0 1320.8,857.6 1330.9,855.2 1341.0,852.8 1351.1,850.3" fill="none" stroke="rgba(0,0,0,0.13)" stroke-width="2.00" stroke-linejoin="round" />
<polyline points="814.8,967.0 824.9,965.1 835.0,963.4 845.2,961.8 855.3,960.1 865.4,958.3 875.5,956.3 885.6,954.4 895.8,952.3 905.9,950.2 916.0,948.1 926.1,945.9 936.2,943.8 946.3,941.6 956.5,939.4 966.6,937.3 976.7,935.1 986.8,932.9 996.9,930.8 1007.1,928.6 1017.2,926.5 1027.3,924.3 1037.4,922.2 1047.5,920.1 1057.7,918.0 1067.8,915.9 1077.9,913.8 1088.0,911.7 1098.1,909.6 1108.3,907.5 1118.4,905.5 1128.5,903.4 1138.6,901.4 1148.7,899.3 1158.8,897.3 1169.0,895.3 1179.1,893.2 1189.2,891.2 1199.3,889.2 1209.4,887.2 1219.6,885.2 1229.7,883.2 1239.8,881.2 1249.9,879.3 1260.0,877.3 1270.2,875.3 1280.3,873.3 1290.4,871.4 1300.5,869.4 1310.6,867.5 1320.8,865.5 1330.9,863.6 1341.0,861.7 1351.1,859.7" fill="none" stroke="rgba(0,0,0,0.13)" stroke-width="2.00" stroke-linejoin="round" />
<polyline points="814.8,967.0 824.9,966.2 835.0,965.3 845.2,964.2 855.3,963.0 865.4,961.5 875.5,960.0 885.6,958.3 895.8,956.5 905.9,954.6 916.0,952.7 926.1,950.8 936.2,948.8 946.3,946.7 956.5,944.7 966.6,942.6 976.7,940.6 986.8,938.5 996.9,936.4 1007.1,934.3 1017.2,932.1 1027.3,930.0 1037.4,927.9 1047.5,925.8 1057.7,923.6 1067.8,921.5 1077.9,919.4 1088.0,917.3 1098.1,915.1 1108.3,913.0 1118.4,910.9 1128.5,908.7 1138.6,906.6 1148.7,904.5 1158.8,902.3 1169.0,900.2 1179.1,898.1 1189.2,895.9 1199.3,893.8 1209.4,891.7 1219.6,889.5 1229.7,887.4 1239.8,885.3 1249.9,883.1 1260.0,881.0 1270.2,878.9 1280.3,876.7 1290.4,874.6 1300.5,872.5 1310.6,870.3 1320.8,868.2 1330.9,866.1 1341.0,863.9 1351.1,861.8" fill="none" stroke="rgba(0,0,0,0.13)" stroke-width="2.00" stroke-linejoin="round" />
<polyline points="814.8,967.0 824.9,965.8 835.0,963.3 845.2,959.8 855.3,957.2 865.4,951.3 875.5,944.7 885.6,939.3 895.8,933.1 905.9,928.9 916.0,923.3 926.1,915.3 936.2,906.9 946.3,899.3 956.5,894.5 966.6,888.6 976.7,878.8 986.8,872.3 996.9,864.6 1007.1,858.5 1017.2,849.8 1027.3,840.0 1037.4,833.0 1047.5,827.1 1057.7,820.3 1067.8,815.1 1077.9,808.1 1088.0,798.4 1098.1,791.4 1108.3,775.5 1118.4,758.0 1128.5,748.6 1138.6,743.2 1148.7,735.8 1158.8,723.5 1169.0,717.1 1179.1,710.6 1189.2,700.1 1199.3,692.7 1209.4,684.4 1219.6,678.3 1229.7,668.4 1239.8,662.7 1249.9,656.7 1260.0,647.8 1270.2,640.4 1280.3,631.8 1290.4,624.5 1300.5,618.5 1310.6,609.0 1320.8,595.4 1330.9,584.2 1341.0,576.3 1351.1,567.3" fill="none" stroke="rgba(0,0,0,0.13)" stroke-width="2.00" stroke-linejoin="round" />
<polyline points="827.1,967.3 837.9,966.7 848.6,965.0 859.4,959.8 868.7,953.8 879.5,946.7 890.2,940.3 899.5,934.7 908.7,930.0 919.5,924.9 930.3,920.3 939.5,916.0 948.8,910.9 959.6,904.5 970.3,898.5 982.7,891.7 998.6,883.3 1014.0,875.6 1029.4,868.8 1044.8,862.4 1060.3,856.1 1075.7,849.7 1091.1,843.3 1106.4,835.6 1121.9,827.6 1137.3,821.2 1152.7,816.1 1168.1,811.4 1178.6,808.3 1194.0,801.0 1209.4,793.8 1224.8,787.1 1240.2,781.5 1255.6,776.4 1271.1,771.3 1286.5,766.1 1301.9,761.0 1317.3,755.9 1332.8,751.3 1352.7,746.3" fill="none" stroke="#ff0000" stroke-width="2.40" stroke-linejoin="round" />
</g>
<rect x="789.50" y="548.00" width="589.70" height="439.10" fill="none" stroke="#000" stroke-width="1.40"/>
<line x1="814.80" y1="987.10" x2="814.80" y2="993.00" stroke="#000" stroke-width="1.40"/>
<line x1="915.61" y1="987.10" x2="915.61" y2="993.00" stroke="#000" stroke-width="1.40"/>
<line x1="1016.42" y1="987.10" x2="1016.42" y2="993.00" stroke="#000" stroke-width="1.40"/>
<line x1="1117.23" y1="987.10" x2="1117.23" y2="993.00" stroke="#000" stroke-width="1.40"/>
<line x1="1218.04" y1="987.10" x2="1218.04" y2="993.00" stroke="#000" stroke-width="1.40"/>
<line x1="1318.85" y1="987.10" x2="1318.85" y2="993.00" stroke="#000" stroke-width="1.40"/>
<line x1="783.60" y1="967.00" x2="789.50" y2="967.00" stroke="#000" stroke-width="1.40"/>
<line x1="783.60" y1="901.90" x2="789.50" y2="901.90" stroke="#000" stroke-width="1.40"/>
<line x1="783.60" y1="836.80" x2="789.50" y2="836.80" stroke="#000" stroke-width="1.40"/>
<line x1="783.60" y1="771.70" x2="789.50" y2="771.70" stroke="#000" stroke-width="1.40"/>
<line x1="783.60" y1="706.60" x2="789.50" y2="706.60" stroke="#000" stroke-width="1.40"/>
<line x1="783.60" y1="641.50" x2="789.50" y2="641.50" stroke="#000" stroke-width="1.40"/>
<line x1="783.60" y1="576.40" x2="789.50" y2="576.40" stroke="#000" stroke-width="1.40"/>
<rect x="800.10" y="554.60" width="36.20" height="22.50" fill="#e9ebf5"/>
<rect x="838.30" y="554.60" width="56.80" height="22.50" fill="#e9ebf5"/>
<rect x="800.10" y="579.20" width="36.20" height="22.50" fill="#e9ebf5"/>
<rect x="838.30" y="579.20" width="56.80" height="22.50" fill="#e9ebf5"/>
<g>
<polyline points="1501.6,967.0 1511.7,963.8 1521.8,960.3 1532.0,955.9 1542.1,950.2 1552.2,943.1 1562.3,934.9 1572.4,926.3 1582.6,917.2 1592.7,907.9 1602.8,898.8 1612.9,890.2 1623.0,881.8 1633.1,873.5 1643.3,865.3 1653.4,857.4 1663.5,849.8 1673.6,842.4 1683.7,835.0 1693.9,827.8 1704.0,820.9 1714.1,814.4 1724.2,808.2 1734.3,802.0 1744.5,795.8 1754.6,789.3 1764.7,782.5 1774.8,775.4 1784.9,768.4 1795.1,761.3 1805.2,754.5 1815.3,747.9 1825.4,741.5 1835.5,735.1 1845.6,728.7 1855.8,722.3 1865.9,715.9 1876.0,709.5 1886.1,703.2 1896.2,696.7 1906.4,690.2 1916.5,683.5 1926.6,676.7 1936.7,669.8 1946.8,662.6 1957.0,655.0 1967.1,647.2 1977.2,639.3 1987.3,631.2 1997.4,622.8 2007.6,614.3 2017.7,605.7 2027.8,597.2 2037.9,588.6" fill="none" stroke="rgba(0,0,0,0.13)" stroke-width="2.00" stroke-linejoin="round" />
<polyline points="1501.6,967.0 1511.7,963.8 1521.8,960.3 1532.0,955.9 1542.1,950.2 1552.2,943.1 1562.3,934.9 1572.4,926.3 1582.6,917.2 1592.7,907.9 1602.8,898.8 1612.9,890.2 1623.0,881.8 1633.1,873.5 1643.3,865.3 1653.4,857.4 1663.5,849.8 1673.6,842.4 1683.7,835.0 1693.9,827.8 1704.0,820.9 1714.1,814.4 1724.2,808.2 1734.3,802.0 1744.5,795.8 1754.6,789.3 1764.7,782.5 1774.8,775.4 1784.9,768.4 1795.1,761.3 1805.2,754.5 1815.3,747.9 1825.4,741.5 1835.5,735.1 1845.6,728.7 1855.8,722.3 1865.9,715.9 1876.0,709.5 1886.1,703.2 1896.2,696.7 1906.4,690.2 1916.5,683.5 1926.6,676.7 1936.7,669.9 1946.8,663.1 1957.0,656.3 1967.1,649.5 1977.2,642.6 1987.3,635.4 1997.4,627.7 2007.6,619.8 2017.7,611.8 2027.8,603.9 2037.9,595.9" fill="none" stroke="rgba(0,0,0,0.13)" stroke-width="2.00" stroke-linejoin="round" />
<polyline points="1501.6,967.0 1511.7,965.5 1521.8,963.5 1532.0,960.6 1542.1,957.1 1552.2,953.0 1562.3,948.5 1572.4,943.6 1582.6,938.4 1592.7,932.5 1602.8,926.8 1612.9,920.6 1623.0,914.6 1633.1,908.3 1643.3,902.0 1653.4,895.2 1663.5,888.7 1673.6,882.1 1683.7,875.3 1693.9,868.1 1704.0,861.3 1714.1,853.9 1724.2,846.7 1734.3,839.5 1744.5,832.6 1754.6,825.1 1764.7,817.8 1774.8,810.6 1784.9,803.1 1795.1,796.0 1805.2,788.7 1815.3,781.0 1825.4,773.7 1835.5,766.3 1845.6,758.4 1855.8,750.7 1865.9,743.2 1876.0,735.8 1886.1,728.5 1896.2,720.5 1906.4,713.1 1916.5,705.1 1926.6,697.3 1936.7,689.1 1946.8,681.0 1957.0,672.9 1967.1,664.7 1977.2,656.5 1987.3,648.5 1997.4,640.8 2007.6,633.0 2017.7,625.3 2027.8,617.3 2037.9,609.4" fill="none" stroke="rgba(0,0,0,0.13)" stroke-width="2.00" stroke-linejoin="round" />
<polyline points="1501.6,967.0 1511.7,965.7 1521.8,963.7 1532.0,961.0 1542.1,957.9 1552.2,954.0 1562.3,949.5 1572.4,945.0 1582.6,939.6 1592.7,934.1 1602.8,928.5 1612.9,922.7 1623.0,916.8 1633.1,910.7 1643.3,904.2 1653.4,897.5 1663.5,890.9 1673.6,884.1 1683.7,877.6 1693.9,870.7 1704.0,864.1 1714.1,857.0 1724.2,850.4 1734.3,843.6 1744.5,836.7 1754.6,829.3 1764.7,822.2 1774.8,814.8 1784.9,807.7 1795.1,799.7 1805.2,792.4 1815.3,784.8 1825.4,777.3 1835.5,770.3 1845.6,763.0 1855.8,755.8 1865.9,748.3 1876.0,740.6 1886.1,733.3 1896.2,725.4 1906.4,718.0 1916.5,710.6 1926.6,702.6 1936.7,694.8 1946.8,687.3 1957.0,679.5 1967.1,672.0 1977.2,664.2 1987.3,656.6 1997.4,648.8 2007.6,641.3 2017.7,633.7 2027.8,625.8 2037.9,617.8" fill="none" stroke="rgba(0,0,0,0.13)" stroke-width="2.00" stroke-linejoin="round" />
<polyline points="1501.6,967.0 1511.7,962.8 1521.8,958.2 1532.0,953.1 1542.1,947.5 1552.2,941.6 1562.3,935.2 1572.4,928.7 1582.6,922.2 1592.7,915.3 1602.8,908.5 1612.9,901.7 1623.0,894.9 1633.1,887.7 1643.3,881.0 1653.4,874.3 1663.5,867.5 1673.6,860.8 1683.7,854.1 1693.9,847.1 1704.0,840.4 1714.1,833.6 1724.2,827.1 1734.3,820.5 1744.5,813.9 1754.6,807.4 1764.7,800.8 1774.8,794.3 1784.9,787.9 1795.1,781.5 1805.2,775.1 1815.3,768.4 1825.4,762.0 1835.5,755.6 1845.6,749.2 1855.8,742.8 1865.9,736.6 1876.0,730.3 1886.1,724.2 1896.2,717.9 1906.4,711.7 1916.5,705.6 1926.6,699.3 1936.7,693.0 1946.8,686.8 1957.0,680.7 1967.1,674.5 1977.2,668.5 1987.3,662.4 1997.4,655.9 2007.6,649.8 2017.7,643.8 2027.8,637.6 2037.9,631.5" fill="none" stroke="rgba(0,0,0,0.13)" stroke-width="2.00" stroke-linejoin="round" />
<polyline points="1501.6,967.0 1511.7,962.8 1521.8,958.5 1532.0,953.6 1542.1,948.1 1552.2,942.3 1562.3,936.2 1572.4,929.8 1582.6,923.2 1592.7,916.6 1602.8,909.8 1612.9,903.2 1623.0,896.5 1633.1,889.9 1643.3,883.1 1653.4,876.3 1663.5,869.5 1673.6,862.7 1683.7,856.1 1693.9,849.5 1704.0,842.8 1714.1,836.3 1724.2,829.6 1734.3,823.1 1744.5,816.5 1754.6,810.0 1764.7,803.4 1774.8,797.0 1784.9,790.6 1795.1,784.2 1805.2,777.4 1815.3,771.0 1825.4,764.6 1835.5,758.4 1845.6,751.9 1855.8,745.6 1865.9,739.4 1876.0,732.6 1886.1,726.3 1896.2,720.0 1906.4,713.7 1916.5,707.5 1926.6,701.2 1936.7,694.9 1946.8,688.7 1957.0,682.4 1967.1,676.0 1977.2,669.8 1987.3,663.5 1997.4,657.4 2007.6,651.1 2017.7,645.0 2027.8,638.9 2037.9,632.4" fill="none" stroke="rgba(0,0,0,0.13)" stroke-width="2.00" stroke-linejoin="round" />
<polyline points="1501.6,967.0 1511.7,965.7 1521.8,964.2 1532.0,962.3 1542.1,959.8 1552.2,956.7 1562.3,953.2 1572.4,949.3 1582.6,945.0 1592.7,940.3 1602.8,935.6 1612.9,930.7 1623.0,925.4 1633.1,920.1 1643.3,914.7 1653.4,909.2 1663.5,903.5 1673.6,897.6 1683.7,891.8 1693.9,885.7 1704.0,878.9 1714.1,872.7 1724.2,866.3 1734.3,859.9 1744.5,853.7 1754.6,847.1 1764.7,840.6 1774.8,834.0 1784.9,827.6 1795.1,820.8 1805.2,814.2 1815.3,807.3 1825.4,800.5 1835.5,793.7 1845.6,786.5 1855.8,779.8 1865.9,772.1 1876.0,765.2 1886.1,757.9 1896.2,750.6 1906.4,743.5 1916.5,736.3 1926.6,729.2 1936.7,722.1 1946.8,714.9 1957.0,707.7 1967.1,700.4 1977.2,692.7 1987.3,685.1 1997.4,677.7 2007.6,670.1 2017.7,662.0 2027.8,654.6 2037.9,647.1" fill="none" stroke="rgba(0,0,0,0.13)" stroke-width="2.00" stroke-linejoin="round" />
<polyline points="1501.6,967.0 1511.7,965.5 1521.8,963.5 1532.0,960.9 1542.1,957.8 1552.2,954.1 1562.3,950.1 1572.4,945.8 1582.6,941.3 1592.7,936.5 1602.8,931.6 1612.9,926.6 1623.0,921.4 1633.1,916.2 1643.3,910.9 1653.4,905.6 1663.5,900.2 1673.6,894.8 1683.7,889.3 1693.9,883.8 1704.0,878.3 1714.1,872.8 1724.2,867.2 1734.3,861.6 1744.5,856.0 1754.6,850.4 1764.7,844.8 1774.8,839.2 1784.9,833.5 1795.1,827.9 1805.2,822.2 1815.3,816.5 1825.4,810.8 1835.5,805.1 1845.6,799.4 1855.8,793.7 1865.9,787.9 1876.0,782.2 1886.1,776.4 1896.2,770.7 1906.4,764.9 1916.5,759.1 1926.6,753.3 1936.7,747.5 1946.8,741.7 1957.0,735.9 1967.1,730.1 1977.2,724.3 1987.3,718.5 1997.4,712.6 2007.6,706.8 2017.7,700.9 2027.8,695.1 2037.9,689.2" fill="none" stroke="rgba(0,0,0,0.13)" stroke-width="2.00" stroke-linejoin="round" />
<polyline points="1501.6,967.0 1511.7,965.6 1521.8,963.9 1532.0,961.6 1542.1,958.9 1552.2,955.7 1562.3,952.1 1572.4,948.1 1582.6,944.0 1592.7,939.6 1602.8,935.1 1612.9,930.4 1623.0,925.6 1633.1,920.7 1643.3,915.7 1653.4,910.7 1663.5,905.6 1673.6,900.4 1683.7,895.2 1693.9,890.0 1704.0,884.7 1714.1,879.3 1724.2,874.0 1734.3,868.6 1744.5,863.2 1754.6,857.7 1764.7,852.2 1774.8,846.7 1784.9,841.2 1795.1,835.7 1805.2,830.1 1815.3,824.5 1825.4,818.9 1835.5,813.3 1845.6,807.6 1855.8,801.9 1865.9,796.3 1876.0,790.6 1886.1,784.8 1896.2,779.1 1906.4,773.3 1916.5,767.6 1926.6,761.8 1936.7,756.0 1946.8,750.2 1957.0,744.3 1967.1,738.5 1977.2,732.6 1987.3,726.8 1997.4,720.9 2007.6,715.0 2017.7,709.1 2027.8,703.2 2037.9,697.2" fill="none" stroke="rgba(0,0,0,0.13)" stroke-width="2.00" stroke-linejoin="round" />
<polyline points="1501.6,967.0 1511.7,965.8 1521.8,964.5 1532.0,962.8 1542.1,960.7 1552.2,958.1 1562.3,955.2 1572.4,952.0 1582.6,948.4 1592.7,944.6 1602.8,940.6 1612.9,936.4 1623.0,932.0 1633.1,927.5 1643.3,922.9 1653.4,918.2 1663.5,913.4 1673.6,908.4 1683.7,903.5 1693.9,898.4 1704.0,893.3 1714.1,888.1 1724.2,882.9 1734.3,877.6 1744.5,872.2 1754.6,866.9 1764.7,861.4 1774.8,855.9 1784.9,850.4 1795.1,844.9 1805.2,839.3 1815.3,833.6 1825.4,828.0 1835.5,822.3 1845.6,816.5 1855.8,810.8 1865.9,805.0 1876.0,799.1 1886.1,793.3 1896.2,787.4 1906.4,781.5 1916.5,775.5 1926.6,769.5 1936.7,763.5 1946.8,757.5 1957.0,751.5 1967.1,745.4 1977.2,739.3 1987.3,733.2 1997.4,727.0 2007.6,720.8 2017.7,714.6 2027.8,708.4 2037.9,702.2" fill="none" stroke="rgba(0,0,0,0.13)" stroke-width="2.00" stroke-linejoin="round" />
<polyline points="1501.6,967.0 1511.7,965.8 1521.8,964.6 1532.0,963.1 1542.1,961.1 1552.2,958.8 1562.3,956.1 1572.4,953.1 1582.6,949.8 1592.7,946.2 1602.8,942.5 1612.9,938.5 1623.0,934.4 1633.1,930.2 1643.3,925.9 1653.4,921.4 1663.5,916.9 1673.6,912.2 1683.7,907.5 1693.9,902.7 1704.0,897.9 1714.1,893.0 1724.2,888.0 1734.3,882.9 1744.5,877.8 1754.6,872.7 1764.7,867.5 1774.8,862.2 1784.9,856.9 1795.1,851.6 1805.2,846.2 1815.3,840.8 1825.4,835.3 1835.5,829.8 1845.6,824.3 1855.8,818.7 1865.9,813.1 1876.0,807.5 1886.1,801.8 1896.2,796.1 1906.4,790.3 1916.5,784.6 1926.6,778.8 1936.7,772.9 1946.8,767.1 1957.0,761.2 1967.1,755.2 1977.2,749.3 1987.3,743.3 1997.4,737.3 2007.6,731.3 2017.7,725.2 2027.8,719.1 2037.9,713.0" fill="none" stroke="rgba(0,0,0,0.13)" stroke-width="2.00" stroke-linejoin="round" />
<polyline points="1501.6,967.0 1511.7,965.8 1521.8,964.6 1532.0,963.1 1542.1,961.2 1552.2,959.0 1562.3,956.4 1572.4,953.5 1582.6,950.3 1592.7,947.0 1602.8,943.4 1612.9,939.6 1623.0,935.8 1633.1,931.7 1643.3,927.6 1653.4,923.4 1663.5,919.1 1673.6,914.7 1683.7,910.2 1693.9,905.7 1704.0,901.1 1714.1,896.5 1724.2,891.8 1734.3,887.0 1744.5,882.3 1754.6,877.4 1764.7,872.6 1774.8,867.6 1784.9,862.7 1795.1,857.7 1805.2,852.7 1815.3,847.7 1825.4,842.6 1835.5,837.5 1845.6,832.3 1855.8,827.1 1865.9,821.9 1876.0,816.7 1886.1,811.5 1896.2,806.2 1906.4,800.9 1916.5,795.5 1926.6,790.2 1936.7,784.8 1946.8,779.4 1957.0,774.0 1967.1,768.5 1977.2,763.0 1987.3,757.5 1997.4,752.0 2007.6,746.5 2017.7,740.9 2027.8,735.3 2037.9,729.8" fill="none" stroke="rgba(0,0,0,0.13)" stroke-width="2.00" stroke-linejoin="round" />
<polyline points="1501.6,967.0 1511.7,965.4 1521.8,963.3 1532.0,960.7 1542.1,957.7 1552.2,954.3 1562.3,950.7 1572.4,946.8 1582.6,942.8 1592.7,938.6 1602.8,934.4 1612.9,930.0 1623.0,925.6 1633.1,921.2 1643.3,916.8 1653.4,912.3 1663.5,907.8 1673.6,903.3 1683.7,898.8 1693.9,894.3 1704.0,889.8 1714.1,885.3 1724.2,880.8 1734.3,876.3 1744.5,871.8 1754.6,867.3 1764.7,862.9 1774.8,858.4 1784.9,853.9 1795.1,849.4 1805.2,845.0 1815.3,840.5 1825.4,836.1 1835.5,831.6 1845.6,827.2 1855.8,822.7 1865.9,818.3 1876.0,813.9 1886.1,809.4 1896.2,805.0 1906.4,800.6 1916.5,796.2 1926.6,791.8 1936.7,787.3 1946.8,782.9 1957.0,778.5 1967.1,774.1 1977.2,769.7 1987.3,765.3 1997.4,761.0 2007.6,756.6 2017.7,752.2 2027.8,747.8 2037.9,743.4" fill="none" stroke="rgba(0,0,0,0.13)" stroke-width="2.00" stroke-linejoin="round" />
<polyline points="1501.6,967.0 1511.7,965.5 1521.8,963.7 1532.0,961.4 1542.1,958.7 1552.2,955.6 1562.3,952.3 1572.4,948.6 1582.6,944.9 1592.7,940.9 1602.8,936.8 1612.9,932.7 1623.0,928.4 1633.1,924.1 1643.3,919.8 1653.4,915.4 1663.5,911.0 1673.6,906.5 1683.7,902.1 1693.9,897.6 1704.0,893.2 1714.1,888.7 1724.2,884.2 1734.3,879.7 1744.5,875.2 1754.6,870.7 1764.7,866.2 1774.8,861.7 1784.9,857.2 1795.1,852.7 1805.2,848.1 1815.3,843.6 1825.4,839.1 1835.5,834.6 1845.6,830.1 1855.8,825.6 1865.9,821.1 1876.0,816.6 1886.1,812.1 1896.2,807.5 1906.4,803.0 1916.5,798.5 1926.6,794.0 1936.7,789.5 1946.8,785.0 1957.0,780.5 1967.1,775.9 1977.2,771.4 1987.3,766.9 1997.4,762.4 2007.6,757.9 2017.7,753.4 2027.8,748.9 2037.9,744.4" fill="none" stroke="rgba(0,0,0,0.13)" stroke-width="2.00" stroke-linejoin="round" />
<polyline points="1501.6,967.0 1511.7,965.4 1521.8,963.3 1532.0,960.8 1542.1,957.8 1552.2,954.5 1562.3,951.0 1572.4,947.2 1582.6,943.3 1592.7,939.2 1602.8,935.1 1612.9,930.8 1623.0,926.6 1633.1,922.3 1643.3,918.0 1653.4,913.6 1663.5,909.3 1673.6,904.9 1683.7,900.5 1693.9,896.2 1704.0,891.8 1714.1,887.5 1724.2,883.1 1734.3,878.8 1744.5,874.4 1754.6,870.1 1764.7,865.8 1774.8,861.4 1784.9,857.1 1795.1,852.8 1805.2,848.5 1815.3,844.2 1825.4,839.9 1835.5,835.6 1845.6,831.4 1855.8,827.1 1865.9,822.8 1876.0,818.6 1886.1,814.3 1896.2,810.1 1906.4,805.8 1916.5,801.6 1926.6,797.3 1936.7,793.1 1946.8,788.9 1957.0,784.6 1967.1,780.4 1977.2,776.2 1987.3,772.0 1997.4,767.8 2007.6,763.6 2017.7,759.4 2027.8,755.2 2037.9,751.0" fill="none" stroke="rgba(0,0,0,0.13)" stroke-width="2.00" stroke-linejoin="round" />
<polyline points="1501.6,967.0 1511.7,965.5 1521.8,963.6 1532.0,961.2 1542.1,958.5 1552.2,955.4 1562.3,952.1 1572.4,948.5 1582.6,944.8 1592.7,940.9 1602.8,936.9 1612.9,932.9 1623.0,928.7 1633.1,924.6 1643.3,920.4 1653.4,916.1 1663.5,911.9 1673.6,907.6 1683.7,903.3 1693.9,899.0 1704.0,894.7 1714.1,890.4 1724.2,886.2 1734.3,881.9 1744.5,877.6 1754.6,873.3 1764.7,869.0 1774.8,864.7 1784.9,860.4 1795.1,856.1 1805.2,851.8 1815.3,847.6 1825.4,843.3 1835.5,839.0 1845.6,834.7 1855.8,830.5 1865.9,826.2 1876.0,821.9 1886.1,817.7 1896.2,813.4 1906.4,809.2 1916.5,804.9 1926.6,800.7 1936.7,796.4 1946.8,792.2 1957.0,787.9 1967.1,783.7 1977.2,779.4 1987.3,775.2 1997.4,770.9 2007.6,766.7 2017.7,762.5 2027.8,758.2 2037.9,754.0" fill="none" stroke="rgba(0,0,0,0.13)" stroke-width="2.00" stroke-linejoin="round" />
<polyline points="1501.6,967.0 1511.7,965.6 1521.8,963.8 1532.0,961.6 1542.1,959.1 1552.2,956.2 1562.3,953.0 1572.4,949.6 1582.6,946.0 1592.7,942.3 1602.8,938.4 1612.9,934.5 1623.0,930.4 1633.1,926.4 1643.3,922.2 1653.4,918.1 1663.5,913.9 1673.6,909.6 1683.7,905.4 1693.9,901.1 1704.0,896.9 1714.1,892.6 1724.2,888.3 1734.3,884.0 1744.5,879.7 1754.6,875.5 1764.7,871.2 1774.8,866.9 1784.9,862.6 1795.1,858.3 1805.2,854.0 1815.3,849.7 1825.4,845.4 1835.5,841.1 1845.6,836.8 1855.8,832.4 1865.9,828.1 1876.0,823.8 1886.1,819.5 1896.2,815.2 1906.4,810.9 1916.5,806.6 1926.6,802.3 1936.7,798.0 1946.8,793.7 1957.0,789.4 1967.1,785.1 1977.2,780.8 1987.3,776.5 1997.4,772.2 2007.6,767.9 2017.7,763.6 2027.8,759.3 2037.9,755.0" fill="none" stroke="rgba(0,0,0,0.13)" stroke-width="2.00" stroke-linejoin="round" />
<polyline points="1501.6,967.0 1511.7,965.6 1521.8,964.0 1532.0,962.0 1542.1,959.6 1552.2,956.9 1562.3,953.9 1572.4,950.7 1582.6,947.2 1592.7,943.6 1602.8,939.9 1612.9,936.0 1623.0,932.1 1633.1,928.1 1643.3,924.0 1653.4,919.9 1663.5,915.8 1673.6,911.6 1683.7,907.4 1693.9,903.2 1704.0,899.0 1714.1,894.7 1724.2,890.4 1734.3,886.2 1744.5,881.9 1754.6,877.6 1764.7,873.3 1774.8,869.0 1784.9,864.7 1795.1,860.4 1805.2,856.1 1815.3,851.7 1825.4,847.4 1835.5,843.1 1845.6,838.7 1855.8,834.4 1865.9,830.1 1876.0,825.7 1886.1,821.4 1896.2,817.0 1906.4,812.7 1916.5,808.3 1926.6,804.0 1936.7,799.6 1946.8,795.2 1957.0,790.9 1967.1,786.5 1977.2,782.2 1987.3,777.8 1997.4,773.4 2007.6,769.0 2017.7,764.7 2027.8,760.3 2037.9,755.9" fill="none" stroke="rgba(0,0,0,0.13)" stroke-width="2.00" stroke-linejoin="round" />
<polyline points="1501.6,967.0 1511.7,963.8 1521.8,961.0 1532.0,958.2 1542.1,955.2 1552.2,951.9 1562.3,948.5 1572.4,944.9 1582.6,941.1 1592.7,937.3 1602.8,933.4 1612.9,929.5 1623.0,925.5 1633.1,921.6 1643.3,917.6 1653.4,913.7 1663.5,909.8 1673.6,906.0 1683.7,902.1 1693.9,898.3 1704.0,894.6 1714.1,890.8 1724.2,887.2 1734.3,883.5 1744.5,879.9 1754.6,876.4 1764.7,872.9 1774.8,869.4 1784.9,866.0 1795.1,862.6 1805.2,859.2 1815.3,855.9 1825.4,852.7 1835.5,849.5 1845.6,846.3 1855.8,843.2 1865.9,840.1 1876.0,837.1 1886.1,834.1 1896.2,831.1 1906.4,828.2 1916.5,825.4 1926.6,822.6 1936.7,819.8 1946.8,817.1 1957.0,814.4 1967.1,811.8 1977.2,809.2 1987.3,806.6 1997.4,804.1 2007.6,801.7 2017.7,799.2 2027.8,796.9 2037.9,794.5" fill="none" stroke="rgba(0,0,0,0.13)" stroke-width="2.00" stroke-linejoin="round" />
<polyline points="1501.6,967.0 1511.7,963.8 1521.8,961.1 1532.0,958.3 1542.1,955.3 1552.2,952.0 1562.3,948.4 1572.4,944.7 1582.6,940.8 1592.7,936.8 1602.8,932.7 1612.9,928.6 1623.0,924.4 1633.1,920.2 1643.3,916.1 1653.4,911.9 1663.5,907.8 1673.6,903.7 1683.7,899.6 1693.9,895.6 1704.0,891.6 1714.1,887.7 1724.2,883.8 1734.3,880.0 1744.5,876.3 1754.6,872.5 1764.7,868.9 1774.8,865.3 1784.9,861.7 1795.1,858.2 1805.2,854.8 1815.3,851.4 1825.4,848.1 1835.5,844.8 1845.6,841.6 1855.8,838.5 1865.9,835.4 1876.0,832.4 1886.1,829.4 1896.2,826.5 1906.4,823.6 1916.5,820.8 1926.6,818.1 1936.7,815.4 1946.8,812.8 1957.0,810.2 1967.1,807.7 1977.2,805.2 1987.3,802.8 1997.4,800.5 2007.6,798.2 2017.7,796.0 2027.8,793.8 2037.9,791.7" fill="none" stroke="rgba(0,0,0,0.13)" stroke-width="2.00" stroke-linejoin="round" />
<polyline points="1501.6,967.0 1511.7,963.8 1521.8,960.9 1532.0,958.0 1542.1,954.9 1552.2,951.5 1562.3,947.8 1572.4,944.0 1582.6,940.1 1592.7,936.0 1602.8,931.9 1612.9,927.8 1623.0,923.6 1633.1,919.4 1643.3,915.3 1653.4,911.1 1663.5,907.0 1673.6,903.0 1683.7,899.0 1693.9,895.0 1704.0,891.0 1714.1,887.1 1724.2,883.3 1734.3,879.5 1744.5,875.7 1754.6,872.0 1764.7,868.4 1774.8,864.8 1784.9,861.2 1795.1,857.8 1805.2,854.3 1815.3,850.9 1825.4,847.6 1835.5,844.3 1845.6,841.1 1855.8,837.9 1865.9,834.8 1876.0,831.7 1886.1,828.7 1896.2,825.7 1906.4,822.8 1916.5,819.9 1926.6,817.1 1936.7,814.3 1946.8,811.6 1957.0,809.0 1967.1,806.4 1977.2,803.8 1987.3,801.3 1997.4,798.9 2007.6,796.5 2017.7,794.1 2027.8,791.8 2037.9,789.6" fill="none" stroke="rgba(0,0,0,0.13)" stroke-width="2.00" stroke-linejoin="round" />
<polyline points="1501.6,967.0 1511.7,963.8 1521.8,961.2 1532.0,958.5 1542.1,955.5 1552.2,952.4 1562.3,949.0 1572.4,945.3 1582.6,941.6 1592.7,937.7 1602.8,933.7 1612.9,929.6 1623.0,925.5 1633.1,921.4 1643.3,917.3 1653.4,913.1 1663.5,909.0 1673.6,905.0 1683.7,900.9 1693.9,896.9 1704.0,892.9 1714.1,889.0 1724.2,885.1 1734.3,881.2 1744.5,877.4 1754.6,873.6 1764.7,869.9 1774.8,866.2 1784.9,862.6 1795.1,859.0 1805.2,855.4 1815.3,852.0 1825.4,848.5 1835.5,845.1 1845.6,841.8 1855.8,838.5 1865.9,835.2 1876.0,832.0 1886.1,828.9 1896.2,825.8 1906.4,822.7 1916.5,819.7 1926.6,816.8 1936.7,813.9 1946.8,811.0 1957.0,808.2 1967.1,805.4 1977.2,802.7 1987.3,800.1 1997.4,797.4 2007.6,794.9 2017.7,792.4 2027.8,789.9 2037.9,787.5" fill="none" stroke="rgba(0,0,0,0.13)" stroke-width="2.00" stroke-linejoin="round" />
<polyline points="1501.6,967.0 1511.7,963.7 1521.8,960.8 1532.0,957.8 1542.1,954.6 1552.2,951.0 1562.3,947.2 1572.4,943.2 1582.6,939.1 1592.7,934.8 1602.8,930.5 1612.9,926.2 1623.0,921.8 1633.1,917.4 1643.3,913.1 1653.4,908.7 1663.5,904.4 1673.6,900.2 1683.7,896.0 1693.9,891.8 1704.0,887.7 1714.1,883.6 1724.2,879.6 1734.3,875.7 1744.5,871.8 1754.6,868.0 1764.7,864.2 1774.8,860.5 1784.9,856.9 1795.1,853.3 1805.2,849.7 1815.3,846.3 1825.4,842.9 1835.5,839.5 1845.6,836.2 1855.8,833.0 1865.9,829.8 1876.0,826.7 1886.1,823.7 1896.2,820.7 1906.4,817.8 1916.5,814.9 1926.6,812.1 1936.7,809.4 1946.8,806.7 1957.0,804.1 1967.1,801.5 1977.2,799.0 1987.3,796.6 1997.4,794.2 2007.6,791.9 2017.7,789.7 2027.8,787.5 2037.9,785.4" fill="none" stroke="rgba(0,0,0,0.13)" stroke-width="2.00" stroke-linejoin="round" />
<polyline points="1501.6,967.0 1511.7,963.8 1521.8,961.1 1532.0,958.3 1542.1,955.3 1552.2,951.9 1562.3,948.4 1572.4,944.6 1582.6,940.6 1592.7,936.5 1602.8,932.3 1612.9,928.1 1623.0,923.8 1633.1,919.4 1643.3,915.1 1653.4,910.8 1663.5,906.5 1673.6,902.2 1683.7,898.0 1693.9,893.8 1704.0,889.6 1714.1,885.5 1724.2,881.5 1734.3,877.5 1744.5,873.5 1754.6,869.6 1764.7,865.8 1774.8,862.0 1784.9,858.2 1795.1,854.5 1805.2,850.9 1815.3,847.3 1825.4,843.8 1835.5,840.4 1845.6,837.0 1855.8,833.6 1865.9,830.3 1876.0,827.1 1886.1,823.9 1896.2,820.8 1906.4,817.7 1916.5,814.7 1926.6,811.8 1936.7,808.9 1946.8,806.1 1957.0,803.3 1967.1,800.6 1977.2,798.0 1987.3,795.4 1997.4,792.8 2007.6,790.3 2017.7,787.9 2027.8,785.5 2037.9,783.2" fill="none" stroke="rgba(0,0,0,0.13)" stroke-width="2.00" stroke-linejoin="round" />
<polyline points="1501.6,967.0 1511.7,963.8 1521.8,961.0 1532.0,958.0 1542.1,954.9 1552.2,951.5 1562.3,947.8 1572.4,943.9 1582.6,939.9 1592.7,935.8 1602.8,931.5 1612.9,927.3 1623.0,923.0 1633.1,918.7 1643.3,914.3 1653.4,910.1 1663.5,905.8 1673.6,901.6 1683.7,897.4 1693.9,893.2 1704.0,889.1 1714.1,885.0 1724.2,881.0 1734.3,877.0 1744.5,873.0 1754.6,869.2 1764.7,865.3 1774.8,861.5 1784.9,857.8 1795.1,854.1 1805.2,850.5 1815.3,846.9 1825.4,843.4 1835.5,839.9 1845.6,836.4 1855.8,833.1 1865.9,829.7 1876.0,826.5 1886.1,823.2 1896.2,820.1 1906.4,816.9 1916.5,813.9 1926.6,810.9 1936.7,807.9 1946.8,805.0 1957.0,802.1 1967.1,799.3 1977.2,796.6 1987.3,793.9 1997.4,791.2 2007.6,788.6 2017.7,786.1 2027.8,783.6 2037.9,781.1" fill="none" stroke="rgba(0,0,0,0.13)" stroke-width="2.00" stroke-linejoin="round" />
<polyline points="1501.6,967.0 1511.7,963.8 1521.8,961.0 1532.0,958.1 1542.1,955.0 1552.2,951.5 1562.3,947.8 1572.4,943.8 1582.6,939.6 1592.7,935.3 1602.8,930.9 1612.9,926.5 1623.0,922.0 1633.1,917.4 1643.3,912.9 1653.4,908.4 1663.5,903.9 1673.6,899.4 1683.7,895.0 1693.9,890.6 1704.0,886.3 1714.1,882.0 1724.2,877.8 1734.3,873.7 1744.5,869.6 1754.6,865.5 1764.7,861.5 1774.8,857.6 1784.9,853.8 1795.1,850.0 1805.2,846.3 1815.3,842.6 1825.4,839.0 1835.5,835.5 1845.6,832.0 1855.8,828.7 1865.9,825.3 1876.0,822.1 1886.1,818.9 1896.2,815.8 1906.4,812.7 1916.5,809.7 1926.6,806.8 1936.7,803.9 1946.8,801.1 1957.0,798.4 1967.1,795.7 1977.2,793.1 1987.3,790.6 1997.4,788.2 2007.6,785.8 2017.7,783.4 2027.8,781.2 2037.9,779.0" fill="none" stroke="rgba(0,0,0,0.13)" stroke-width="2.00" stroke-linejoin="round" />
<polyline points="1501.6,967.0 1511.7,963.8 1521.8,960.9 1532.0,957.9 1542.1,954.6 1552.2,951.0 1562.3,947.2 1572.4,943.1 1582.6,938.9 1592.7,934.5 1602.8,930.1 1612.9,925.6 1623.0,921.1 1633.1,916.6 1643.3,912.0 1653.4,907.6 1663.5,903.1 1673.6,898.6 1683.7,894.3 1693.9,889.9 1704.0,885.6 1714.1,881.4 1724.2,877.2 1734.3,873.0 1744.5,868.9 1754.6,864.9 1764.7,861.0 1774.8,857.0 1784.9,853.2 1795.1,849.4 1805.2,845.7 1815.3,842.0 1825.4,838.4 1835.5,834.9 1845.6,831.4 1855.8,827.9 1865.9,824.6 1876.0,821.3 1886.1,818.0 1896.2,814.8 1906.4,811.7 1916.5,808.7 1926.6,805.7 1936.7,802.7 1946.8,799.8 1957.0,797.0 1967.1,794.2 1977.2,791.6 1987.3,788.9 1997.4,786.3 2007.6,783.8 2017.7,781.4 2027.8,779.0 2037.9,776.6" fill="none" stroke="rgba(0,0,0,0.13)" stroke-width="2.00" stroke-linejoin="round" />
<polyline points="1501.6,967.0 1511.7,963.7 1521.8,960.7 1532.0,957.5 1542.1,954.1 1552.2,950.3 1562.3,946.4 1572.4,942.2 1582.6,937.9 1592.7,933.4 1602.8,928.9 1612.9,924.4 1623.0,919.9 1633.1,915.3 1643.3,910.8 1653.4,906.3 1663.5,901.8 1673.6,897.4 1683.7,893.0 1693.9,888.6 1704.0,884.3 1714.1,880.1 1724.2,875.9 1734.3,871.8 1744.5,867.7 1754.6,863.6 1764.7,859.6 1774.8,855.7 1784.9,851.8 1795.1,848.0 1805.2,844.2 1815.3,840.5 1825.4,836.9 1835.5,833.3 1845.6,829.7 1855.8,826.2 1865.9,822.8 1876.0,819.4 1886.1,816.1 1896.2,812.8 1906.4,809.6 1916.5,806.5 1926.6,803.4 1936.7,800.3 1946.8,797.3 1957.0,794.4 1967.1,791.5 1977.2,788.7 1987.3,785.9 1997.4,783.2 2007.6,780.5 2017.7,777.9 2027.8,775.4 2037.9,772.9" fill="none" stroke="rgba(0,0,0,0.13)" stroke-width="2.00" stroke-linejoin="round" />
<polyline points="1513.9,967.5 1524.7,966.4 1535.4,963.3 1546.2,954.0 1555.5,943.2 1566.3,930.2 1577.0,918.7 1586.3,908.6 1595.5,900.1 1606.3,890.9 1617.1,882.4 1626.3,874.6 1635.6,865.5 1646.4,853.9 1657.1,843.1 1669.5,830.8 1685.4,815.5 1700.8,801.6 1716.2,789.4 1731.6,777.8 1747.1,766.3 1762.5,754.7 1777.9,743.2 1793.2,729.3 1808.7,714.7 1824.1,703.1 1839.5,693.9 1854.9,685.5 1865.4,679.8 1880.8,666.6 1896.2,653.7 1911.6,641.4 1927.0,631.3 1942.4,622.1 1957.9,612.9 1973.3,603.5 1988.7,594.3 2004.1,585.1 2019.6,576.6 2039.5,567.7" fill="none" stroke="#ff0000" stroke-width="2.40" stroke-linejoin="round" />
</g>
<rect x="1476.40" y="548.00" width="589.60" height="439.10" fill="none" stroke="#000" stroke-width="1.40"/>
<line x1="1501.60" y1="987.10" x2="1501.60" y2="993.00" stroke="#000" stroke-width="1.40"/>
<line x1="1602.41" y1="987.10" x2="1602.41" y2="993.00" stroke="#000" stroke-width="1.40"/>
<line x1="1703.22" y1="987.10" x2="1703.22" y2="993.00" stroke="#000" stroke-width="1.40"/>
<line x1="1804.03" y1="987.10" x2="1804.03" y2="993.00" stroke="#000" stroke-width="1.40"/>
<line x1="1904.84" y1="987.10" x2="1904.84" y2="993.00" stroke="#000" stroke-width="1.40"/>
<line x1="2005.65" y1="987.10" x2="2005.65" y2="993.00" stroke="#000" stroke-width="1.40"/>
<line x1="1470.50" y1="967.00" x2="1476.40" y2="967.00" stroke="#000" stroke-width="1.40"/>
<line x1="1470.50" y1="908.10" x2="1476.40" y2="908.10" stroke="#000" stroke-width="1.40"/>
<line x1="1470.50" y1="849.20" x2="1476.40" y2="849.20" stroke="#000" stroke-width="1.40"/>
<line x1="1470.50" y1="790.30" x2="1476.40" y2="790.30" stroke="#000" stroke-width="1.40"/>
<line x1="1470.50" y1="731.40" x2="1476.40" y2="731.40" stroke="#000" stroke-width="1.40"/>
<line x1="1470.50" y1="672.50" x2="1476.40" y2="672.50" stroke="#000" stroke-width="1.40"/>
<line x1="1470.50" y1="613.60" x2="1476.40" y2="613.60" stroke="#000" stroke-width="1.40"/>
<line x1="1470.50" y1="554.70" x2="1476.40" y2="554.70" stroke="#000" stroke-width="1.40"/>
<rect x="1486.00" y="554.60" width="36.20" height="22.50" fill="#e9ebf5"/>
<rect x="1524.20" y="554.60" width="56.80" height="22.50" fill="#e9ebf5"/>
<rect x="1486.00" y="579.20" width="36.20" height="22.50" fill="#e9ebf5"/>
<rect x="1524.20" y="579.20" width="56.80" height="22.50" fill="#e9ebf5"/>
</svg>
<div class="tk xt" style="left:117.8px;top:490.7px;">0</div>
<div class="tk xt" style="left:217.3px;top:490.7px;">1000</div>
<div class="tk xt" style="left:316.7px;top:490.7px;">2000</div>
<div class="tk xt" style="left:416.2px;top:490.7px;">3000</div>
<div class="tk xt" style="left:515.6px;top:490.7px;">4000</div>
<div class="tk xt" style="left:615.1px;top:490.7px;">5000</div>
<div class="tk yt" style="left:80.0px;top:453.3px;">0.0000</div>
<div class="tk yt" style="left:80.0px;top:403.3px;">0.0025</div>
<div class="tk yt" style="left:80.0px;top:353.3px;">0.0050</div>
<div class="tk yt" style="left:80.0px;top:303.3px;">0.0075</div>
<div class="tk yt" style="left:80.0px;top:253.3px;">0.0100</div>
<div class="tk yt" style="left:80.0px;top:203.3px;">0.0125</div>
<div class="tk yt" style="left:80.0px;top:153.3px;">0.0150</div>
<div class="tk yt" style="left:80.0px;top:103.3px;">0.0175</div>
<div class="tk yt" style="left:80.0px;top:53.3px;">0.0200</div>
<div class="al xl" style="left:377.0px;top:524.6px;">time passed [s]</div>
<div class="al yl" style="left:12.8px;top:258.2px;">height change [m]</div>
<div class="tb tl" style="left:102.5px;top:66.6px;">min</div>
<div class="tb tr" style="left:196.2px;top:66.6px;">0.001</div>
<div class="tb tl" style="left:102.5px;top:91.2px;">max</div>
<div class="tb tr" style="left:196.2px;top:91.2px;">0.004</div>
<div class="tk xt" style="left:815.0px;top:490.7px;">0</div>
<div class="tk xt" style="left:914.4px;top:490.7px;">1000</div>
<div class="tk xt" style="left:1013.9px;top:490.7px;">2000</div>
<div class="tk xt" style="left:1113.3px;top:490.7px;">3000</div>
<div class="tk xt" style="left:1212.8px;top:490.7px;">4000</div>
<div class="tk xt" style="left:1312.2px;top:490.7px;">5000</div>
<div class="tk yt" style="left:777.2px;top:453.3px;">0.0000</div>
<div class="tk yt" style="left:777.2px;top:403.3px;">0.0025</div>
<div class="tk yt" style="left:777.2px;top:353.3px;">0.0050</div>
<div class="tk yt" style="left:777.2px;top:303.3px;">0.0075</div>
<div class="tk yt" style="left:777.2px;top:253.3px;">0.0100</div>
<div class="tk yt" style="left:777.2px;top:203.3px;">0.0125</div>
<div class="tk yt" style="left:777.2px;top:153.3px;">0.0150</div>
<div class="tk yt" style="left:777.2px;top:103.3px;">0.0175</div>
<div class="tk yt" style="left:777.2px;top:53.3px;">0.0200</div>
<div class="al xl" style="left:1078.0px;top:524.6px;">time passed [s]</div>
<div class="al yl" style="left:710.3px;top:258.2px;">height change [m]</div>
<div class="tb tl" style="left:800.3px;top:66.6px;">min</div>
<div class="tb tr" style="left:894.0px;top:66.6px;">0.087</div>
<div class="tb tl" style="left:800.3px;top:91.2px;">max</div>
<div class="tb tr" style="left:894.0px;top:91.2px;">1.163</div>
<div class="tk xt" style="left:1501.8px;top:490.7px;">0</div>
<div class="tk xt" style="left:1601.3px;top:490.7px;">1000</div>
<div class="tk xt" style="left:1700.7px;top:490.7px;">2000</div>
<div class="tk xt" style="left:1800.2px;top:490.7px;">3000</div>
<div class="tk xt" style="left:1899.6px;top:490.7px;">4000</div>
<div class="tk xt" style="left:1999.1px;top:490.7px;">5000</div>
<div class="tk yt" style="left:1463.9px;top:452.1px;">0.000</div>
<div class="tk yt" style="left:1463.9px;top:402.3px;">0.002</div>
<div class="tk yt" style="left:1463.9px;top:352.5px;">0.004</div>
<div class="tk yt" style="left:1463.9px;top:302.6px;">0.006</div>
<div class="tk yt" style="left:1463.9px;top:252.8px;">0.008</div>
<div class="tk yt" style="left:1463.9px;top:203.0px;">0.010</div>
<div class="tk yt" style="left:1463.9px;top:153.2px;">0.012</div>
<div class="tk yt" style="left:1463.9px;top:103.3px;">0.014</div>
<div class="tk yt" style="left:1463.9px;top:53.5px;">0.016</div>
<div class="al xl" style="left:1768.3px;top:524.6px;">time passed [s]</div>
<div class="al yl" style="left:1407.4px;top:258.2px;">height change [m]</div>
<div class="tb tl" style="left:1486.5px;top:66.6px;">min</div>
<div class="tb tr" style="left:1580.2px;top:66.6px;">0.499</div>
<div class="tb tl" style="left:1486.5px;top:91.2px;">max</div>
<div class="tb tr" style="left:1580.2px;top:91.2px;">0.501</div>
<div class="tk xt" style="left:117.8px;top:1000.1px;">0</div>
<div class="tk xt" style="left:218.6px;top:1000.1px;">1000</div>
<div class="tk xt" style="left:319.4px;top:1000.1px;">2000</div>
<div class="tk xt" style="left:420.2px;top:1000.1px;">3000</div>
<div class="tk xt" style="left:521.0px;top:1000.1px;">4000</div>
<div class="tk xt" style="left:621.9px;top:1000.1px;">5000</div>
<div class="tk yt" style="left:80.1px;top:967.1px;">0</div>
<div class="tk yt" style="left:80.1px;top:897.4px;">50</div>
<div class="tk yt" style="left:80.1px;top:827.7px;">100</div>
<div class="tk yt" style="left:80.1px;top:757.9px;">150</div>
<div class="tk yt" style="left:80.1px;top:688.2px;">200</div>
<div class="tk yt" style="left:80.1px;top:618.5px;">250</div>
<div class="tk yt" style="left:80.1px;top:548.8px;">300</div>
<div class="al xl" style="left:377.2px;top:1033.6px;">time passed [s]</div>
<div class="al yl" style="left:38.8px;top:767.5px;">sediment yield [kg]</div>
<div class="tb tl" style="left:102.5px;top:573.3px;">min</div>
<div class="tb tr" style="left:196.2px;top:573.3px;">12.1</div>
<div class="tb tl" style="left:102.5px;top:597.9px;">max</div>
<div class="tb tr" style="left:196.2px;top:597.9px;">57.8</div>
<div class="tk xt" style="left:814.8px;top:1000.1px;">0</div>
<div class="tk xt" style="left:915.6px;top:1000.1px;">1000</div>
<div class="tk xt" style="left:1016.4px;top:1000.1px;">2000</div>
<div class="tk xt" style="left:1117.2px;top:1000.1px;">3000</div>
<div class="tk xt" style="left:1218.0px;top:1000.1px;">4000</div>
<div class="tk xt" style="left:1318.8px;top:1000.1px;">5000</div>
<div class="tk yt" style="left:777.1px;top:967.0px;">0</div>
<div class="tk yt" style="left:777.1px;top:901.9px;">50</div>
<div class="tk yt" style="left:777.1px;top:836.8px;">100</div>
<div class="tk yt" style="left:777.1px;top:771.7px;">150</div>
<div class="tk yt" style="left:777.1px;top:706.6px;">200</div>
<div class="tk yt" style="left:777.1px;top:641.5px;">250</div>
<div class="tk yt" style="left:777.1px;top:576.4px;">300</div>
<div class="al xl" style="left:1074.5px;top:1033.6px;">time passed [s]</div>
<div class="al yl" style="left:735.8px;top:767.5px;">sediment yield [kg]</div>
<div class="tb tl" style="left:800.4px;top:573.3px;">min</div>
<div class="tb tr" style="left:894.1px;top:573.3px;">181</div>
<div class="tb tl" style="left:800.4px;top:597.9px;">max</div>
<div class="tb tr" style="left:894.1px;top:597.9px;">14492</div>
<div class="tk xt" style="left:1501.6px;top:1000.1px;">0</div>
<div class="tk xt" style="left:1602.4px;top:1000.1px;">1000</div>
<div class="tk xt" style="left:1703.2px;top:1000.1px;">2000</div>
<div class="tk xt" style="left:1804.0px;top:1000.1px;">3000</div>
<div class="tk xt" style="left:1904.8px;top:1000.1px;">4000</div>
<div class="tk xt" style="left:2005.6px;top:1000.1px;">5000</div>
<div class="tk yt" style="left:1464.0px;top:967.0px;">0</div>
<div class="tk yt" style="left:1464.0px;top:908.1px;">25</div>
<div class="tk yt" style="left:1464.0px;top:849.2px;">50</div>
<div class="tk yt" style="left:1464.0px;top:790.3px;">75</div>
<div class="tk yt" style="left:1464.0px;top:731.4px;">100</div>
<div class="tk yt" style="left:1464.0px;top:672.5px;">125</div>
<div class="tk yt" style="left:1464.0px;top:613.6px;">150</div>
<div class="tk yt" style="left:1464.0px;top:554.7px;">175</div>
<div class="al xl" style="left:1761.6px;top:1033.6px;">time passed [s]</div>
<div class="al yl" style="left:1422.7px;top:767.5px;">sediment yield [kg]</div>
<div class="tb tl" style="left:1486.3px;top:573.3px;">min</div>
<div class="tb tr" style="left:1580.0px;top:573.3px;">16.0</div>
<div class="tb tl" style="left:1486.3px;top:597.9px;">max</div>
<div class="tb tr" style="left:1580.0px;top:597.9px;">61.2</div>
<div class="tt" style="left:375.9px;top:18.8px;transform:translate(-50%,-100%) scaleX(0.876);">RMSE</div>
<div class="tt" style="left:1083.7px;top:18.8px;transform:translate(-50%,-100%) scaleX(0.940);">DTW</div>
<div class="tt" style="left:1801.0px;top:18.8px;transform:translate(-50%,-100%) scaleX(0.868);">NNSE</div>
</div>
</body></html>
